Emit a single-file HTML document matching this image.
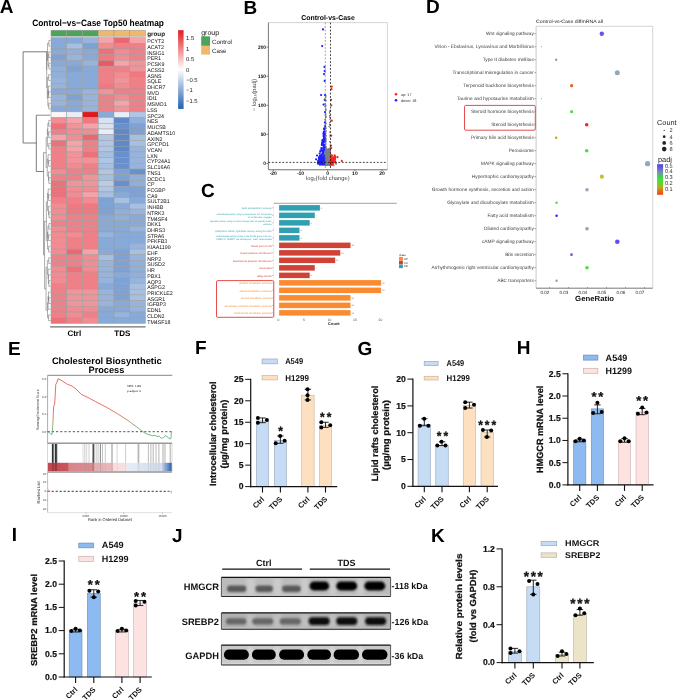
<!DOCTYPE html>
<html><head><meta charset="utf-8"><style>
html,body{margin:0;padding:0;background:#fff;overflow:hidden}
svg{display:block;will-change:transform}
text{font-family:"Liberation Sans", sans-serif;text-rendering:geometricPrecision}
</style></head><body>
<svg width="685" height="700" viewBox="0 0 685 700">
<rect width="685" height="700" fill="#fff"/>
<text x="-0.30" y="13.00" font-size="19" font-weight="bold" fill="#000">A</text>
<text x="98.10" y="25.70" font-size="9.2" font-weight="bold" text-anchor="middle" textLength="131.8" lengthAdjust="spacingAndGlyphs" fill="#000">Control−vs−Case Top50 heatmap</text>
<rect x="51.00" y="30.20" width="15.75" height="6.00" fill="#4ca35a" stroke="#999" stroke-width="0.5"/>
<rect x="66.75" y="30.20" width="15.75" height="6.00" fill="#4ca35a" stroke="#999" stroke-width="0.5"/>
<rect x="82.50" y="30.20" width="15.75" height="6.00" fill="#4ca35a" stroke="#999" stroke-width="0.5"/>
<rect x="98.25" y="30.20" width="15.75" height="6.00" fill="#efb86c" stroke="#999" stroke-width="0.5"/>
<rect x="114.00" y="30.20" width="15.75" height="6.00" fill="#efb86c" stroke="#999" stroke-width="0.5"/>
<rect x="129.75" y="30.20" width="15.75" height="6.00" fill="#efb86c" stroke="#999" stroke-width="0.5"/>
<text x="147.20" y="35.50" font-size="6.3" font-weight="bold" fill="#111">group</text>
<rect x="51.00" y="37.50" width="15.75" height="5.72" fill="#88aad8" stroke="#9a9a9a" stroke-width="0.45"/>
<rect x="66.75" y="37.50" width="15.75" height="5.72" fill="#88aad8" stroke="#9a9a9a" stroke-width="0.45"/>
<rect x="82.50" y="37.50" width="15.75" height="5.72" fill="#98b4dc" stroke="#9a9a9a" stroke-width="0.45"/>
<rect x="98.25" y="37.50" width="15.75" height="5.72" fill="#f4a4a8" stroke="#9a9a9a" stroke-width="0.45"/>
<rect x="114.00" y="37.50" width="15.75" height="5.72" fill="#ec6870" stroke="#9a9a9a" stroke-width="0.45"/>
<rect x="129.75" y="37.50" width="15.75" height="5.72" fill="#f4a4a8" stroke="#9a9a9a" stroke-width="0.45"/>
<rect x="51.00" y="43.22" width="15.75" height="5.72" fill="#88aad8" stroke="#9a9a9a" stroke-width="0.45"/>
<rect x="66.75" y="43.22" width="15.75" height="5.72" fill="#a8c0e0" stroke="#9a9a9a" stroke-width="0.45"/>
<rect x="82.50" y="43.22" width="15.75" height="5.72" fill="#7ea2d4" stroke="#9a9a9a" stroke-width="0.45"/>
<rect x="98.25" y="43.22" width="15.75" height="5.72" fill="#f08c92" stroke="#9a9a9a" stroke-width="0.45"/>
<rect x="114.00" y="43.22" width="15.75" height="5.72" fill="#f08088" stroke="#9a9a9a" stroke-width="0.45"/>
<rect x="129.75" y="43.22" width="15.75" height="5.72" fill="#f08088" stroke="#9a9a9a" stroke-width="0.45"/>
<rect x="51.00" y="48.94" width="15.75" height="5.72" fill="#88aad8" stroke="#9a9a9a" stroke-width="0.45"/>
<rect x="66.75" y="48.94" width="15.75" height="5.72" fill="#90b0da" stroke="#9a9a9a" stroke-width="0.45"/>
<rect x="82.50" y="48.94" width="15.75" height="5.72" fill="#88aad8" stroke="#9a9a9a" stroke-width="0.45"/>
<rect x="98.25" y="48.94" width="15.75" height="5.72" fill="#ee7078" stroke="#9a9a9a" stroke-width="0.45"/>
<rect x="114.00" y="48.94" width="15.75" height="5.72" fill="#f08c92" stroke="#9a9a9a" stroke-width="0.45"/>
<rect x="129.75" y="48.94" width="15.75" height="5.72" fill="#f08088" stroke="#9a9a9a" stroke-width="0.45"/>
<rect x="51.00" y="54.66" width="15.75" height="5.72" fill="#7ea2d4" stroke="#9a9a9a" stroke-width="0.45"/>
<rect x="66.75" y="54.66" width="15.75" height="5.72" fill="#98b4dc" stroke="#9a9a9a" stroke-width="0.45"/>
<rect x="82.50" y="54.66" width="15.75" height="5.72" fill="#88aad8" stroke="#9a9a9a" stroke-width="0.45"/>
<rect x="98.25" y="54.66" width="15.75" height="5.72" fill="#f07880" stroke="#9a9a9a" stroke-width="0.45"/>
<rect x="114.00" y="54.66" width="15.75" height="5.72" fill="#f08c92" stroke="#9a9a9a" stroke-width="0.45"/>
<rect x="129.75" y="54.66" width="15.75" height="5.72" fill="#f08088" stroke="#9a9a9a" stroke-width="0.45"/>
<rect x="51.00" y="60.38" width="15.75" height="5.72" fill="#88aad8" stroke="#9a9a9a" stroke-width="0.45"/>
<rect x="66.75" y="60.38" width="15.75" height="5.72" fill="#88aad8" stroke="#9a9a9a" stroke-width="0.45"/>
<rect x="82.50" y="60.38" width="15.75" height="5.72" fill="#98b4dc" stroke="#9a9a9a" stroke-width="0.45"/>
<rect x="98.25" y="60.38" width="15.75" height="5.72" fill="#e85a64" stroke="#9a9a9a" stroke-width="0.45"/>
<rect x="114.00" y="60.38" width="15.75" height="5.72" fill="#f4a4a8" stroke="#9a9a9a" stroke-width="0.45"/>
<rect x="129.75" y="60.38" width="15.75" height="5.72" fill="#f0949a" stroke="#9a9a9a" stroke-width="0.45"/>
<rect x="51.00" y="66.10" width="15.75" height="5.72" fill="#90b0da" stroke="#9a9a9a" stroke-width="0.45"/>
<rect x="66.75" y="66.10" width="15.75" height="5.72" fill="#7ea2d4" stroke="#9a9a9a" stroke-width="0.45"/>
<rect x="82.50" y="66.10" width="15.75" height="5.72" fill="#88aad8" stroke="#9a9a9a" stroke-width="0.45"/>
<rect x="98.25" y="66.10" width="15.75" height="5.72" fill="#f08088" stroke="#9a9a9a" stroke-width="0.45"/>
<rect x="114.00" y="66.10" width="15.75" height="5.72" fill="#f08088" stroke="#9a9a9a" stroke-width="0.45"/>
<rect x="129.75" y="66.10" width="15.75" height="5.72" fill="#f0949a" stroke="#9a9a9a" stroke-width="0.45"/>
<rect x="51.00" y="71.82" width="15.75" height="5.72" fill="#90b0da" stroke="#9a9a9a" stroke-width="0.45"/>
<rect x="66.75" y="71.82" width="15.75" height="5.72" fill="#88aad8" stroke="#9a9a9a" stroke-width="0.45"/>
<rect x="82.50" y="71.82" width="15.75" height="5.72" fill="#88aad8" stroke="#9a9a9a" stroke-width="0.45"/>
<rect x="98.25" y="71.82" width="15.75" height="5.72" fill="#f08088" stroke="#9a9a9a" stroke-width="0.45"/>
<rect x="114.00" y="71.82" width="15.75" height="5.72" fill="#f08c92" stroke="#9a9a9a" stroke-width="0.45"/>
<rect x="129.75" y="71.82" width="15.75" height="5.72" fill="#f07880" stroke="#9a9a9a" stroke-width="0.45"/>
<rect x="51.00" y="77.54" width="15.75" height="5.72" fill="#98b4dc" stroke="#9a9a9a" stroke-width="0.45"/>
<rect x="66.75" y="77.54" width="15.75" height="5.72" fill="#88aad8" stroke="#9a9a9a" stroke-width="0.45"/>
<rect x="82.50" y="77.54" width="15.75" height="5.72" fill="#88aad8" stroke="#9a9a9a" stroke-width="0.45"/>
<rect x="98.25" y="77.54" width="15.75" height="5.72" fill="#f08088" stroke="#9a9a9a" stroke-width="0.45"/>
<rect x="114.00" y="77.54" width="15.75" height="5.72" fill="#f0949a" stroke="#9a9a9a" stroke-width="0.45"/>
<rect x="129.75" y="77.54" width="15.75" height="5.72" fill="#f08088" stroke="#9a9a9a" stroke-width="0.45"/>
<rect x="51.00" y="83.26" width="15.75" height="5.72" fill="#98b4dc" stroke="#9a9a9a" stroke-width="0.45"/>
<rect x="66.75" y="83.26" width="15.75" height="5.72" fill="#88aad8" stroke="#9a9a9a" stroke-width="0.45"/>
<rect x="82.50" y="83.26" width="15.75" height="5.72" fill="#88aad8" stroke="#9a9a9a" stroke-width="0.45"/>
<rect x="98.25" y="83.26" width="15.75" height="5.72" fill="#f07880" stroke="#9a9a9a" stroke-width="0.45"/>
<rect x="114.00" y="83.26" width="15.75" height="5.72" fill="#f08c92" stroke="#9a9a9a" stroke-width="0.45"/>
<rect x="129.75" y="83.26" width="15.75" height="5.72" fill="#f08088" stroke="#9a9a9a" stroke-width="0.45"/>
<rect x="51.00" y="88.98" width="15.75" height="5.72" fill="#88aad8" stroke="#9a9a9a" stroke-width="0.45"/>
<rect x="66.75" y="88.98" width="15.75" height="5.72" fill="#88aad8" stroke="#9a9a9a" stroke-width="0.45"/>
<rect x="82.50" y="88.98" width="15.75" height="5.72" fill="#98b4dc" stroke="#9a9a9a" stroke-width="0.45"/>
<rect x="98.25" y="88.98" width="15.75" height="5.72" fill="#f0949a" stroke="#9a9a9a" stroke-width="0.45"/>
<rect x="114.00" y="88.98" width="15.75" height="5.72" fill="#f08088" stroke="#9a9a9a" stroke-width="0.45"/>
<rect x="129.75" y="88.98" width="15.75" height="5.72" fill="#f08088" stroke="#9a9a9a" stroke-width="0.45"/>
<rect x="51.00" y="94.70" width="15.75" height="5.72" fill="#98b4dc" stroke="#9a9a9a" stroke-width="0.45"/>
<rect x="66.75" y="94.70" width="15.75" height="5.72" fill="#7ea2d4" stroke="#9a9a9a" stroke-width="0.45"/>
<rect x="82.50" y="94.70" width="15.75" height="5.72" fill="#98b4dc" stroke="#9a9a9a" stroke-width="0.45"/>
<rect x="98.25" y="94.70" width="15.75" height="5.72" fill="#f08088" stroke="#9a9a9a" stroke-width="0.45"/>
<rect x="114.00" y="94.70" width="15.75" height="5.72" fill="#f08c92" stroke="#9a9a9a" stroke-width="0.45"/>
<rect x="129.75" y="94.70" width="15.75" height="5.72" fill="#f08088" stroke="#9a9a9a" stroke-width="0.45"/>
<rect x="51.00" y="100.42" width="15.75" height="5.72" fill="#98b4dc" stroke="#9a9a9a" stroke-width="0.45"/>
<rect x="66.75" y="100.42" width="15.75" height="5.72" fill="#88aad8" stroke="#9a9a9a" stroke-width="0.45"/>
<rect x="82.50" y="100.42" width="15.75" height="5.72" fill="#98b4dc" stroke="#9a9a9a" stroke-width="0.45"/>
<rect x="98.25" y="100.42" width="15.75" height="5.72" fill="#f08088" stroke="#9a9a9a" stroke-width="0.45"/>
<rect x="114.00" y="100.42" width="15.75" height="5.72" fill="#f4a4a8" stroke="#9a9a9a" stroke-width="0.45"/>
<rect x="129.75" y="100.42" width="15.75" height="5.72" fill="#f08088" stroke="#9a9a9a" stroke-width="0.45"/>
<rect x="51.00" y="106.14" width="15.75" height="5.72" fill="#88aad8" stroke="#9a9a9a" stroke-width="0.45"/>
<rect x="66.75" y="106.14" width="15.75" height="5.72" fill="#88aad8" stroke="#9a9a9a" stroke-width="0.45"/>
<rect x="82.50" y="106.14" width="15.75" height="5.72" fill="#98b4dc" stroke="#9a9a9a" stroke-width="0.45"/>
<rect x="98.25" y="106.14" width="15.75" height="5.72" fill="#f08088" stroke="#9a9a9a" stroke-width="0.45"/>
<rect x="114.00" y="106.14" width="15.75" height="5.72" fill="#f0949a" stroke="#9a9a9a" stroke-width="0.45"/>
<rect x="129.75" y="106.14" width="15.75" height="5.72" fill="#f08088" stroke="#9a9a9a" stroke-width="0.45"/>
<rect x="51.00" y="111.86" width="15.75" height="5.72" fill="#fdf6f6" stroke="#9a9a9a" stroke-width="0.45"/>
<rect x="66.75" y="111.86" width="15.75" height="5.72" fill="#e8eef8" stroke="#9a9a9a" stroke-width="0.45"/>
<rect x="82.50" y="111.86" width="15.75" height="5.72" fill="#e01a1c" stroke="#9a9a9a" stroke-width="0.45"/>
<rect x="98.25" y="111.86" width="15.75" height="5.72" fill="#88aad8" stroke="#9a9a9a" stroke-width="0.45"/>
<rect x="114.00" y="111.86" width="15.75" height="5.72" fill="#e8eef8" stroke="#9a9a9a" stroke-width="0.45"/>
<rect x="129.75" y="111.86" width="15.75" height="5.72" fill="#b0c6e4" stroke="#9a9a9a" stroke-width="0.45"/>
<rect x="51.00" y="117.58" width="15.75" height="5.72" fill="#f08c92" stroke="#9a9a9a" stroke-width="0.45"/>
<rect x="66.75" y="117.58" width="15.75" height="5.72" fill="#f4a4a8" stroke="#9a9a9a" stroke-width="0.45"/>
<rect x="82.50" y="117.58" width="15.75" height="5.72" fill="#f07880" stroke="#9a9a9a" stroke-width="0.45"/>
<rect x="98.25" y="117.58" width="15.75" height="5.72" fill="#d8e2f0" stroke="#9a9a9a" stroke-width="0.45"/>
<rect x="114.00" y="117.58" width="15.75" height="5.72" fill="#5e88c8" stroke="#9a9a9a" stroke-width="0.45"/>
<rect x="129.75" y="117.58" width="15.75" height="5.72" fill="#90b0da" stroke="#9a9a9a" stroke-width="0.45"/>
<rect x="51.00" y="123.30" width="15.75" height="5.72" fill="#ee7078" stroke="#9a9a9a" stroke-width="0.45"/>
<rect x="66.75" y="123.30" width="15.75" height="5.72" fill="#f0949a" stroke="#9a9a9a" stroke-width="0.45"/>
<rect x="82.50" y="123.30" width="15.75" height="5.72" fill="#f4a4a8" stroke="#9a9a9a" stroke-width="0.45"/>
<rect x="98.25" y="123.30" width="15.75" height="5.72" fill="#d8e2f0" stroke="#9a9a9a" stroke-width="0.45"/>
<rect x="114.00" y="123.30" width="15.75" height="5.72" fill="#6890cc" stroke="#9a9a9a" stroke-width="0.45"/>
<rect x="129.75" y="123.30" width="15.75" height="5.72" fill="#7ea2d4" stroke="#9a9a9a" stroke-width="0.45"/>
<rect x="51.00" y="129.02" width="15.75" height="5.72" fill="#f08088" stroke="#9a9a9a" stroke-width="0.45"/>
<rect x="66.75" y="129.02" width="15.75" height="5.72" fill="#f08c92" stroke="#9a9a9a" stroke-width="0.45"/>
<rect x="82.50" y="129.02" width="15.75" height="5.72" fill="#f08c92" stroke="#9a9a9a" stroke-width="0.45"/>
<rect x="98.25" y="129.02" width="15.75" height="5.72" fill="#e8eef8" stroke="#9a9a9a" stroke-width="0.45"/>
<rect x="114.00" y="129.02" width="15.75" height="5.72" fill="#5e88c8" stroke="#9a9a9a" stroke-width="0.45"/>
<rect x="129.75" y="129.02" width="15.75" height="5.72" fill="#7ea2d4" stroke="#9a9a9a" stroke-width="0.45"/>
<rect x="51.00" y="134.74" width="15.75" height="5.72" fill="#f4a4a8" stroke="#9a9a9a" stroke-width="0.45"/>
<rect x="66.75" y="134.74" width="15.75" height="5.72" fill="#f08c92" stroke="#9a9a9a" stroke-width="0.45"/>
<rect x="82.50" y="134.74" width="15.75" height="5.72" fill="#ec6870" stroke="#9a9a9a" stroke-width="0.45"/>
<rect x="98.25" y="134.74" width="15.75" height="5.72" fill="#b0c6e4" stroke="#9a9a9a" stroke-width="0.45"/>
<rect x="114.00" y="134.74" width="15.75" height="5.72" fill="#5e88c8" stroke="#9a9a9a" stroke-width="0.45"/>
<rect x="129.75" y="134.74" width="15.75" height="5.72" fill="#a8c0e0" stroke="#9a9a9a" stroke-width="0.45"/>
<rect x="51.00" y="140.46" width="15.75" height="5.72" fill="#ee7078" stroke="#9a9a9a" stroke-width="0.45"/>
<rect x="66.75" y="140.46" width="15.75" height="5.72" fill="#f4a4a8" stroke="#9a9a9a" stroke-width="0.45"/>
<rect x="82.50" y="140.46" width="15.75" height="5.72" fill="#f08088" stroke="#9a9a9a" stroke-width="0.45"/>
<rect x="98.25" y="140.46" width="15.75" height="5.72" fill="#b0c6e4" stroke="#9a9a9a" stroke-width="0.45"/>
<rect x="114.00" y="140.46" width="15.75" height="5.72" fill="#5e88c8" stroke="#9a9a9a" stroke-width="0.45"/>
<rect x="129.75" y="140.46" width="15.75" height="5.72" fill="#a8c0e0" stroke="#9a9a9a" stroke-width="0.45"/>
<rect x="51.00" y="146.18" width="15.75" height="5.72" fill="#f08088" stroke="#9a9a9a" stroke-width="0.45"/>
<rect x="66.75" y="146.18" width="15.75" height="5.72" fill="#f4a4a8" stroke="#9a9a9a" stroke-width="0.45"/>
<rect x="82.50" y="146.18" width="15.75" height="5.72" fill="#f08088" stroke="#9a9a9a" stroke-width="0.45"/>
<rect x="98.25" y="146.18" width="15.75" height="5.72" fill="#b0c6e4" stroke="#9a9a9a" stroke-width="0.45"/>
<rect x="114.00" y="146.18" width="15.75" height="5.72" fill="#5e88c8" stroke="#9a9a9a" stroke-width="0.45"/>
<rect x="129.75" y="146.18" width="15.75" height="5.72" fill="#98b4dc" stroke="#9a9a9a" stroke-width="0.45"/>
<rect x="51.00" y="151.90" width="15.75" height="5.72" fill="#f08088" stroke="#9a9a9a" stroke-width="0.45"/>
<rect x="66.75" y="151.90" width="15.75" height="5.72" fill="#f0949a" stroke="#9a9a9a" stroke-width="0.45"/>
<rect x="82.50" y="151.90" width="15.75" height="5.72" fill="#ee7078" stroke="#9a9a9a" stroke-width="0.45"/>
<rect x="98.25" y="151.90" width="15.75" height="5.72" fill="#a8c0e0" stroke="#9a9a9a" stroke-width="0.45"/>
<rect x="114.00" y="151.90" width="15.75" height="5.72" fill="#6890cc" stroke="#9a9a9a" stroke-width="0.45"/>
<rect x="129.75" y="151.90" width="15.75" height="5.72" fill="#98b4dc" stroke="#9a9a9a" stroke-width="0.45"/>
<rect x="51.00" y="157.62" width="15.75" height="5.72" fill="#f08088" stroke="#9a9a9a" stroke-width="0.45"/>
<rect x="66.75" y="157.62" width="15.75" height="5.72" fill="#f0949a" stroke="#9a9a9a" stroke-width="0.45"/>
<rect x="82.50" y="157.62" width="15.75" height="5.72" fill="#f0949a" stroke="#9a9a9a" stroke-width="0.45"/>
<rect x="98.25" y="157.62" width="15.75" height="5.72" fill="#b0c6e4" stroke="#9a9a9a" stroke-width="0.45"/>
<rect x="114.00" y="157.62" width="15.75" height="5.72" fill="#6890cc" stroke="#9a9a9a" stroke-width="0.45"/>
<rect x="129.75" y="157.62" width="15.75" height="5.72" fill="#98b4dc" stroke="#9a9a9a" stroke-width="0.45"/>
<rect x="51.00" y="163.34" width="15.75" height="5.72" fill="#f08088" stroke="#9a9a9a" stroke-width="0.45"/>
<rect x="66.75" y="163.34" width="15.75" height="5.72" fill="#f08c92" stroke="#9a9a9a" stroke-width="0.45"/>
<rect x="82.50" y="163.34" width="15.75" height="5.72" fill="#f08088" stroke="#9a9a9a" stroke-width="0.45"/>
<rect x="98.25" y="163.34" width="15.75" height="5.72" fill="#a8c0e0" stroke="#9a9a9a" stroke-width="0.45"/>
<rect x="114.00" y="163.34" width="15.75" height="5.72" fill="#6890cc" stroke="#9a9a9a" stroke-width="0.45"/>
<rect x="129.75" y="163.34" width="15.75" height="5.72" fill="#98b4dc" stroke="#9a9a9a" stroke-width="0.45"/>
<rect x="51.00" y="169.06" width="15.75" height="5.72" fill="#f08c92" stroke="#9a9a9a" stroke-width="0.45"/>
<rect x="66.75" y="169.06" width="15.75" height="5.72" fill="#f08088" stroke="#9a9a9a" stroke-width="0.45"/>
<rect x="82.50" y="169.06" width="15.75" height="5.72" fill="#f08088" stroke="#9a9a9a" stroke-width="0.45"/>
<rect x="98.25" y="169.06" width="15.75" height="5.72" fill="#b0c6e4" stroke="#9a9a9a" stroke-width="0.45"/>
<rect x="114.00" y="169.06" width="15.75" height="5.72" fill="#7ea2d4" stroke="#9a9a9a" stroke-width="0.45"/>
<rect x="129.75" y="169.06" width="15.75" height="5.72" fill="#6890cc" stroke="#9a9a9a" stroke-width="0.45"/>
<rect x="51.00" y="174.78" width="15.75" height="5.72" fill="#f08088" stroke="#9a9a9a" stroke-width="0.45"/>
<rect x="66.75" y="174.78" width="15.75" height="5.72" fill="#f08088" stroke="#9a9a9a" stroke-width="0.45"/>
<rect x="82.50" y="174.78" width="15.75" height="5.72" fill="#f0949a" stroke="#9a9a9a" stroke-width="0.45"/>
<rect x="98.25" y="174.78" width="15.75" height="5.72" fill="#a8c0e0" stroke="#9a9a9a" stroke-width="0.45"/>
<rect x="114.00" y="174.78" width="15.75" height="5.72" fill="#7ea2d4" stroke="#9a9a9a" stroke-width="0.45"/>
<rect x="129.75" y="174.78" width="15.75" height="5.72" fill="#90b0da" stroke="#9a9a9a" stroke-width="0.45"/>
<rect x="51.00" y="180.50" width="15.75" height="5.72" fill="#ee7078" stroke="#9a9a9a" stroke-width="0.45"/>
<rect x="66.75" y="180.50" width="15.75" height="5.72" fill="#f0949a" stroke="#9a9a9a" stroke-width="0.45"/>
<rect x="82.50" y="180.50" width="15.75" height="5.72" fill="#f0949a" stroke="#9a9a9a" stroke-width="0.45"/>
<rect x="98.25" y="180.50" width="15.75" height="5.72" fill="#b8cce6" stroke="#9a9a9a" stroke-width="0.45"/>
<rect x="114.00" y="180.50" width="15.75" height="5.72" fill="#6890cc" stroke="#9a9a9a" stroke-width="0.45"/>
<rect x="129.75" y="180.50" width="15.75" height="5.72" fill="#90b0da" stroke="#9a9a9a" stroke-width="0.45"/>
<rect x="51.00" y="186.22" width="15.75" height="5.72" fill="#ee7078" stroke="#9a9a9a" stroke-width="0.45"/>
<rect x="66.75" y="186.22" width="15.75" height="5.72" fill="#f08c92" stroke="#9a9a9a" stroke-width="0.45"/>
<rect x="82.50" y="186.22" width="15.75" height="5.72" fill="#f08c92" stroke="#9a9a9a" stroke-width="0.45"/>
<rect x="98.25" y="186.22" width="15.75" height="5.72" fill="#b0c6e4" stroke="#9a9a9a" stroke-width="0.45"/>
<rect x="114.00" y="186.22" width="15.75" height="5.72" fill="#7ea2d4" stroke="#9a9a9a" stroke-width="0.45"/>
<rect x="129.75" y="186.22" width="15.75" height="5.72" fill="#7ea2d4" stroke="#9a9a9a" stroke-width="0.45"/>
<rect x="51.00" y="191.94" width="15.75" height="5.72" fill="#ee7078" stroke="#9a9a9a" stroke-width="0.45"/>
<rect x="66.75" y="191.94" width="15.75" height="5.72" fill="#f08c92" stroke="#9a9a9a" stroke-width="0.45"/>
<rect x="82.50" y="191.94" width="15.75" height="5.72" fill="#f4a4a8" stroke="#9a9a9a" stroke-width="0.45"/>
<rect x="98.25" y="191.94" width="15.75" height="5.72" fill="#a8c0e0" stroke="#9a9a9a" stroke-width="0.45"/>
<rect x="114.00" y="191.94" width="15.75" height="5.72" fill="#88aad8" stroke="#9a9a9a" stroke-width="0.45"/>
<rect x="129.75" y="191.94" width="15.75" height="5.72" fill="#7ea2d4" stroke="#9a9a9a" stroke-width="0.45"/>
<rect x="51.00" y="197.66" width="15.75" height="5.72" fill="#f08088" stroke="#9a9a9a" stroke-width="0.45"/>
<rect x="66.75" y="197.66" width="15.75" height="5.72" fill="#f08088" stroke="#9a9a9a" stroke-width="0.45"/>
<rect x="82.50" y="197.66" width="15.75" height="5.72" fill="#f08c92" stroke="#9a9a9a" stroke-width="0.45"/>
<rect x="98.25" y="197.66" width="15.75" height="5.72" fill="#7ea2d4" stroke="#9a9a9a" stroke-width="0.45"/>
<rect x="114.00" y="197.66" width="15.75" height="5.72" fill="#a8c0e0" stroke="#9a9a9a" stroke-width="0.45"/>
<rect x="129.75" y="197.66" width="15.75" height="5.72" fill="#88aad8" stroke="#9a9a9a" stroke-width="0.45"/>
<rect x="51.00" y="203.38" width="15.75" height="5.72" fill="#f08c92" stroke="#9a9a9a" stroke-width="0.45"/>
<rect x="66.75" y="203.38" width="15.75" height="5.72" fill="#f07880" stroke="#9a9a9a" stroke-width="0.45"/>
<rect x="82.50" y="203.38" width="15.75" height="5.72" fill="#f07880" stroke="#9a9a9a" stroke-width="0.45"/>
<rect x="98.25" y="203.38" width="15.75" height="5.72" fill="#7ea2d4" stroke="#9a9a9a" stroke-width="0.45"/>
<rect x="114.00" y="203.38" width="15.75" height="5.72" fill="#88aad8" stroke="#9a9a9a" stroke-width="0.45"/>
<rect x="129.75" y="203.38" width="15.75" height="5.72" fill="#a8c0e0" stroke="#9a9a9a" stroke-width="0.45"/>
<rect x="51.00" y="209.10" width="15.75" height="5.72" fill="#f08c92" stroke="#9a9a9a" stroke-width="0.45"/>
<rect x="66.75" y="209.10" width="15.75" height="5.72" fill="#f07880" stroke="#9a9a9a" stroke-width="0.45"/>
<rect x="82.50" y="209.10" width="15.75" height="5.72" fill="#f07880" stroke="#9a9a9a" stroke-width="0.45"/>
<rect x="98.25" y="209.10" width="15.75" height="5.72" fill="#7ea2d4" stroke="#9a9a9a" stroke-width="0.45"/>
<rect x="114.00" y="209.10" width="15.75" height="5.72" fill="#90b0da" stroke="#9a9a9a" stroke-width="0.45"/>
<rect x="129.75" y="209.10" width="15.75" height="5.72" fill="#98b4dc" stroke="#9a9a9a" stroke-width="0.45"/>
<rect x="51.00" y="214.82" width="15.75" height="5.72" fill="#f08c92" stroke="#9a9a9a" stroke-width="0.45"/>
<rect x="66.75" y="214.82" width="15.75" height="5.72" fill="#f08088" stroke="#9a9a9a" stroke-width="0.45"/>
<rect x="82.50" y="214.82" width="15.75" height="5.72" fill="#f08088" stroke="#9a9a9a" stroke-width="0.45"/>
<rect x="98.25" y="214.82" width="15.75" height="5.72" fill="#88aad8" stroke="#9a9a9a" stroke-width="0.45"/>
<rect x="114.00" y="214.82" width="15.75" height="5.72" fill="#90b0da" stroke="#9a9a9a" stroke-width="0.45"/>
<rect x="129.75" y="214.82" width="15.75" height="5.72" fill="#88aad8" stroke="#9a9a9a" stroke-width="0.45"/>
<rect x="51.00" y="220.54" width="15.75" height="5.72" fill="#f08088" stroke="#9a9a9a" stroke-width="0.45"/>
<rect x="66.75" y="220.54" width="15.75" height="5.72" fill="#f08088" stroke="#9a9a9a" stroke-width="0.45"/>
<rect x="82.50" y="220.54" width="15.75" height="5.72" fill="#f08088" stroke="#9a9a9a" stroke-width="0.45"/>
<rect x="98.25" y="220.54" width="15.75" height="5.72" fill="#88aad8" stroke="#9a9a9a" stroke-width="0.45"/>
<rect x="114.00" y="220.54" width="15.75" height="5.72" fill="#88aad8" stroke="#9a9a9a" stroke-width="0.45"/>
<rect x="129.75" y="220.54" width="15.75" height="5.72" fill="#88aad8" stroke="#9a9a9a" stroke-width="0.45"/>
<rect x="51.00" y="226.26" width="15.75" height="5.72" fill="#f08c92" stroke="#9a9a9a" stroke-width="0.45"/>
<rect x="66.75" y="226.26" width="15.75" height="5.72" fill="#f08088" stroke="#9a9a9a" stroke-width="0.45"/>
<rect x="82.50" y="226.26" width="15.75" height="5.72" fill="#f08088" stroke="#9a9a9a" stroke-width="0.45"/>
<rect x="98.25" y="226.26" width="15.75" height="5.72" fill="#88aad8" stroke="#9a9a9a" stroke-width="0.45"/>
<rect x="114.00" y="226.26" width="15.75" height="5.72" fill="#88aad8" stroke="#9a9a9a" stroke-width="0.45"/>
<rect x="129.75" y="226.26" width="15.75" height="5.72" fill="#98b4dc" stroke="#9a9a9a" stroke-width="0.45"/>
<rect x="51.00" y="231.98" width="15.75" height="5.72" fill="#f08c92" stroke="#9a9a9a" stroke-width="0.45"/>
<rect x="66.75" y="231.98" width="15.75" height="5.72" fill="#f08c92" stroke="#9a9a9a" stroke-width="0.45"/>
<rect x="82.50" y="231.98" width="15.75" height="5.72" fill="#f08088" stroke="#9a9a9a" stroke-width="0.45"/>
<rect x="98.25" y="231.98" width="15.75" height="5.72" fill="#98b4dc" stroke="#9a9a9a" stroke-width="0.45"/>
<rect x="114.00" y="231.98" width="15.75" height="5.72" fill="#88aad8" stroke="#9a9a9a" stroke-width="0.45"/>
<rect x="129.75" y="231.98" width="15.75" height="5.72" fill="#88aad8" stroke="#9a9a9a" stroke-width="0.45"/>
<rect x="51.00" y="237.70" width="15.75" height="5.72" fill="#f08c92" stroke="#9a9a9a" stroke-width="0.45"/>
<rect x="66.75" y="237.70" width="15.75" height="5.72" fill="#f08088" stroke="#9a9a9a" stroke-width="0.45"/>
<rect x="82.50" y="237.70" width="15.75" height="5.72" fill="#f08088" stroke="#9a9a9a" stroke-width="0.45"/>
<rect x="98.25" y="237.70" width="15.75" height="5.72" fill="#88aad8" stroke="#9a9a9a" stroke-width="0.45"/>
<rect x="114.00" y="237.70" width="15.75" height="5.72" fill="#88aad8" stroke="#9a9a9a" stroke-width="0.45"/>
<rect x="129.75" y="237.70" width="15.75" height="5.72" fill="#88aad8" stroke="#9a9a9a" stroke-width="0.45"/>
<rect x="51.00" y="243.42" width="15.75" height="5.72" fill="#f08c92" stroke="#9a9a9a" stroke-width="0.45"/>
<rect x="66.75" y="243.42" width="15.75" height="5.72" fill="#f08088" stroke="#9a9a9a" stroke-width="0.45"/>
<rect x="82.50" y="243.42" width="15.75" height="5.72" fill="#f08088" stroke="#9a9a9a" stroke-width="0.45"/>
<rect x="98.25" y="243.42" width="15.75" height="5.72" fill="#88aad8" stroke="#9a9a9a" stroke-width="0.45"/>
<rect x="114.00" y="243.42" width="15.75" height="5.72" fill="#88aad8" stroke="#9a9a9a" stroke-width="0.45"/>
<rect x="129.75" y="243.42" width="15.75" height="5.72" fill="#98b4dc" stroke="#9a9a9a" stroke-width="0.45"/>
<rect x="51.00" y="249.14" width="15.75" height="5.72" fill="#f08c92" stroke="#9a9a9a" stroke-width="0.45"/>
<rect x="66.75" y="249.14" width="15.75" height="5.72" fill="#ec6870" stroke="#9a9a9a" stroke-width="0.45"/>
<rect x="82.50" y="249.14" width="15.75" height="5.72" fill="#f4a4a8" stroke="#9a9a9a" stroke-width="0.45"/>
<rect x="98.25" y="249.14" width="15.75" height="5.72" fill="#88aad8" stroke="#9a9a9a" stroke-width="0.45"/>
<rect x="114.00" y="249.14" width="15.75" height="5.72" fill="#7ea2d4" stroke="#9a9a9a" stroke-width="0.45"/>
<rect x="129.75" y="249.14" width="15.75" height="5.72" fill="#a8c0e0" stroke="#9a9a9a" stroke-width="0.45"/>
<rect x="51.00" y="254.86" width="15.75" height="5.72" fill="#f08088" stroke="#9a9a9a" stroke-width="0.45"/>
<rect x="66.75" y="254.86" width="15.75" height="5.72" fill="#f08088" stroke="#9a9a9a" stroke-width="0.45"/>
<rect x="82.50" y="254.86" width="15.75" height="5.72" fill="#f08c92" stroke="#9a9a9a" stroke-width="0.45"/>
<rect x="98.25" y="254.86" width="15.75" height="5.72" fill="#a8c0e0" stroke="#9a9a9a" stroke-width="0.45"/>
<rect x="114.00" y="254.86" width="15.75" height="5.72" fill="#7ea2d4" stroke="#9a9a9a" stroke-width="0.45"/>
<rect x="129.75" y="254.86" width="15.75" height="5.72" fill="#98b4dc" stroke="#9a9a9a" stroke-width="0.45"/>
<rect x="51.00" y="260.58" width="15.75" height="5.72" fill="#f08088" stroke="#9a9a9a" stroke-width="0.45"/>
<rect x="66.75" y="260.58" width="15.75" height="5.72" fill="#f08088" stroke="#9a9a9a" stroke-width="0.45"/>
<rect x="82.50" y="260.58" width="15.75" height="5.72" fill="#f08c92" stroke="#9a9a9a" stroke-width="0.45"/>
<rect x="98.25" y="260.58" width="15.75" height="5.72" fill="#98b4dc" stroke="#9a9a9a" stroke-width="0.45"/>
<rect x="114.00" y="260.58" width="15.75" height="5.72" fill="#7ea2d4" stroke="#9a9a9a" stroke-width="0.45"/>
<rect x="129.75" y="260.58" width="15.75" height="5.72" fill="#90b0da" stroke="#9a9a9a" stroke-width="0.45"/>
<rect x="51.00" y="266.30" width="15.75" height="5.72" fill="#f08c92" stroke="#9a9a9a" stroke-width="0.45"/>
<rect x="66.75" y="266.30" width="15.75" height="5.72" fill="#ee7078" stroke="#9a9a9a" stroke-width="0.45"/>
<rect x="82.50" y="266.30" width="15.75" height="5.72" fill="#f08c92" stroke="#9a9a9a" stroke-width="0.45"/>
<rect x="98.25" y="266.30" width="15.75" height="5.72" fill="#98b4dc" stroke="#9a9a9a" stroke-width="0.45"/>
<rect x="114.00" y="266.30" width="15.75" height="5.72" fill="#7ea2d4" stroke="#9a9a9a" stroke-width="0.45"/>
<rect x="129.75" y="266.30" width="15.75" height="5.72" fill="#90b0da" stroke="#9a9a9a" stroke-width="0.45"/>
<rect x="51.00" y="272.02" width="15.75" height="5.72" fill="#f08c92" stroke="#9a9a9a" stroke-width="0.45"/>
<rect x="66.75" y="272.02" width="15.75" height="5.72" fill="#f08088" stroke="#9a9a9a" stroke-width="0.45"/>
<rect x="82.50" y="272.02" width="15.75" height="5.72" fill="#f08088" stroke="#9a9a9a" stroke-width="0.45"/>
<rect x="98.25" y="272.02" width="15.75" height="5.72" fill="#98b4dc" stroke="#9a9a9a" stroke-width="0.45"/>
<rect x="114.00" y="272.02" width="15.75" height="5.72" fill="#88aad8" stroke="#9a9a9a" stroke-width="0.45"/>
<rect x="129.75" y="272.02" width="15.75" height="5.72" fill="#90b0da" stroke="#9a9a9a" stroke-width="0.45"/>
<rect x="51.00" y="277.74" width="15.75" height="5.72" fill="#f08c92" stroke="#9a9a9a" stroke-width="0.45"/>
<rect x="66.75" y="277.74" width="15.75" height="5.72" fill="#f08088" stroke="#9a9a9a" stroke-width="0.45"/>
<rect x="82.50" y="277.74" width="15.75" height="5.72" fill="#f08088" stroke="#9a9a9a" stroke-width="0.45"/>
<rect x="98.25" y="277.74" width="15.75" height="5.72" fill="#98b4dc" stroke="#9a9a9a" stroke-width="0.45"/>
<rect x="114.00" y="277.74" width="15.75" height="5.72" fill="#7ea2d4" stroke="#9a9a9a" stroke-width="0.45"/>
<rect x="129.75" y="277.74" width="15.75" height="5.72" fill="#98b4dc" stroke="#9a9a9a" stroke-width="0.45"/>
<rect x="51.00" y="283.46" width="15.75" height="5.72" fill="#f08088" stroke="#9a9a9a" stroke-width="0.45"/>
<rect x="66.75" y="283.46" width="15.75" height="5.72" fill="#f08088" stroke="#9a9a9a" stroke-width="0.45"/>
<rect x="82.50" y="283.46" width="15.75" height="5.72" fill="#f08088" stroke="#9a9a9a" stroke-width="0.45"/>
<rect x="98.25" y="283.46" width="15.75" height="5.72" fill="#88aad8" stroke="#9a9a9a" stroke-width="0.45"/>
<rect x="114.00" y="283.46" width="15.75" height="5.72" fill="#7ea2d4" stroke="#9a9a9a" stroke-width="0.45"/>
<rect x="129.75" y="283.46" width="15.75" height="5.72" fill="#a8c0e0" stroke="#9a9a9a" stroke-width="0.45"/>
<rect x="51.00" y="289.18" width="15.75" height="5.72" fill="#f08088" stroke="#9a9a9a" stroke-width="0.45"/>
<rect x="66.75" y="289.18" width="15.75" height="5.72" fill="#f0949a" stroke="#9a9a9a" stroke-width="0.45"/>
<rect x="82.50" y="289.18" width="15.75" height="5.72" fill="#f0949a" stroke="#9a9a9a" stroke-width="0.45"/>
<rect x="98.25" y="289.18" width="15.75" height="5.72" fill="#98b4dc" stroke="#9a9a9a" stroke-width="0.45"/>
<rect x="114.00" y="289.18" width="15.75" height="5.72" fill="#7ea2d4" stroke="#9a9a9a" stroke-width="0.45"/>
<rect x="129.75" y="289.18" width="15.75" height="5.72" fill="#a8c0e0" stroke="#9a9a9a" stroke-width="0.45"/>
<rect x="51.00" y="294.90" width="15.75" height="5.72" fill="#f08088" stroke="#9a9a9a" stroke-width="0.45"/>
<rect x="66.75" y="294.90" width="15.75" height="5.72" fill="#f0949a" stroke="#9a9a9a" stroke-width="0.45"/>
<rect x="82.50" y="294.90" width="15.75" height="5.72" fill="#f0949a" stroke="#9a9a9a" stroke-width="0.45"/>
<rect x="98.25" y="294.90" width="15.75" height="5.72" fill="#98b4dc" stroke="#9a9a9a" stroke-width="0.45"/>
<rect x="114.00" y="294.90" width="15.75" height="5.72" fill="#7ea2d4" stroke="#9a9a9a" stroke-width="0.45"/>
<rect x="129.75" y="294.90" width="15.75" height="5.72" fill="#a8c0e0" stroke="#9a9a9a" stroke-width="0.45"/>
<rect x="51.00" y="300.62" width="15.75" height="5.72" fill="#f08088" stroke="#9a9a9a" stroke-width="0.45"/>
<rect x="66.75" y="300.62" width="15.75" height="5.72" fill="#f0949a" stroke="#9a9a9a" stroke-width="0.45"/>
<rect x="82.50" y="300.62" width="15.75" height="5.72" fill="#f0949a" stroke="#9a9a9a" stroke-width="0.45"/>
<rect x="98.25" y="300.62" width="15.75" height="5.72" fill="#98b4dc" stroke="#9a9a9a" stroke-width="0.45"/>
<rect x="114.00" y="300.62" width="15.75" height="5.72" fill="#88aad8" stroke="#9a9a9a" stroke-width="0.45"/>
<rect x="129.75" y="300.62" width="15.75" height="5.72" fill="#98b4dc" stroke="#9a9a9a" stroke-width="0.45"/>
<rect x="51.00" y="306.34" width="15.75" height="5.72" fill="#f08088" stroke="#9a9a9a" stroke-width="0.45"/>
<rect x="66.75" y="306.34" width="15.75" height="5.72" fill="#f08c92" stroke="#9a9a9a" stroke-width="0.45"/>
<rect x="82.50" y="306.34" width="15.75" height="5.72" fill="#f08c92" stroke="#9a9a9a" stroke-width="0.45"/>
<rect x="98.25" y="306.34" width="15.75" height="5.72" fill="#88aad8" stroke="#9a9a9a" stroke-width="0.45"/>
<rect x="114.00" y="306.34" width="15.75" height="5.72" fill="#88aad8" stroke="#9a9a9a" stroke-width="0.45"/>
<rect x="129.75" y="306.34" width="15.75" height="5.72" fill="#98b4dc" stroke="#9a9a9a" stroke-width="0.45"/>
<rect x="51.00" y="312.06" width="15.75" height="5.72" fill="#f08088" stroke="#9a9a9a" stroke-width="0.45"/>
<rect x="66.75" y="312.06" width="15.75" height="5.72" fill="#f08c92" stroke="#9a9a9a" stroke-width="0.45"/>
<rect x="82.50" y="312.06" width="15.75" height="5.72" fill="#f08088" stroke="#9a9a9a" stroke-width="0.45"/>
<rect x="98.25" y="312.06" width="15.75" height="5.72" fill="#88aad8" stroke="#9a9a9a" stroke-width="0.45"/>
<rect x="114.00" y="312.06" width="15.75" height="5.72" fill="#98b4dc" stroke="#9a9a9a" stroke-width="0.45"/>
<rect x="129.75" y="312.06" width="15.75" height="5.72" fill="#88aad8" stroke="#9a9a9a" stroke-width="0.45"/>
<rect x="51.00" y="317.78" width="15.75" height="5.72" fill="#ee7078" stroke="#9a9a9a" stroke-width="0.45"/>
<rect x="66.75" y="317.78" width="15.75" height="5.72" fill="#f08088" stroke="#9a9a9a" stroke-width="0.45"/>
<rect x="82.50" y="317.78" width="15.75" height="5.72" fill="#f08c92" stroke="#9a9a9a" stroke-width="0.45"/>
<rect x="98.25" y="317.78" width="15.75" height="5.72" fill="#88aad8" stroke="#9a9a9a" stroke-width="0.45"/>
<rect x="114.00" y="317.78" width="15.75" height="5.72" fill="#88aad8" stroke="#9a9a9a" stroke-width="0.45"/>
<rect x="129.75" y="317.78" width="15.75" height="5.72" fill="#88aad8" stroke="#9a9a9a" stroke-width="0.45"/>
<text x="147.20" y="43.26" font-size="5.3" fill="#111">PCYT2</text>
<text x="147.20" y="48.98" font-size="5.3" fill="#111">ACAT2</text>
<text x="147.20" y="54.70" font-size="5.3" fill="#111">INSIG1</text>
<text x="147.20" y="60.42" font-size="5.3" fill="#111">PER1</text>
<text x="147.20" y="66.14" font-size="5.3" fill="#111">PCSK9</text>
<text x="147.20" y="71.86" font-size="5.3" fill="#111">ACSS2</text>
<text x="147.20" y="77.58" font-size="5.3" fill="#111">ASNS</text>
<text x="147.20" y="83.30" font-size="5.3" fill="#111">SQLE</text>
<text x="147.20" y="89.02" font-size="5.3" fill="#111">DHCR7</text>
<text x="147.20" y="94.74" font-size="5.3" fill="#111">MVD</text>
<text x="147.20" y="100.46" font-size="5.3" fill="#111">IDI1</text>
<text x="147.20" y="106.18" font-size="5.3" fill="#111">MSMO1</text>
<text x="147.20" y="111.90" font-size="5.3" fill="#111">LSS</text>
<text x="147.20" y="117.62" font-size="5.3" fill="#111">SPC24</text>
<text x="147.20" y="123.34" font-size="5.3" fill="#111">NES</text>
<text x="147.20" y="129.06" font-size="5.3" fill="#111">MUC5B</text>
<text x="147.20" y="134.78" font-size="5.3" fill="#111">ADAMTS10</text>
<text x="147.20" y="140.50" font-size="5.3" fill="#111">AXIN2</text>
<text x="147.20" y="146.22" font-size="5.3" fill="#111">GPCPD1</text>
<text x="147.20" y="151.94" font-size="5.3" fill="#111">VCAN</text>
<text x="147.20" y="157.66" font-size="5.3" fill="#111">LXN</text>
<text x="147.20" y="163.38" font-size="5.3" fill="#111">CYP24A1</text>
<text x="147.20" y="169.10" font-size="5.3" fill="#111">SLC16A6</text>
<text x="147.20" y="174.82" font-size="5.3" fill="#111">TNS1</text>
<text x="147.20" y="180.54" font-size="5.3" fill="#111">DCDC1</text>
<text x="147.20" y="186.26" font-size="5.3" fill="#111">CP</text>
<text x="147.20" y="191.98" font-size="5.3" fill="#111">FCGBP</text>
<text x="147.20" y="197.70" font-size="5.3" fill="#111">CA9</text>
<text x="147.20" y="203.42" font-size="5.3" fill="#111">SULT2B1</text>
<text x="147.20" y="209.14" font-size="5.3" fill="#111">INHBB</text>
<text x="147.20" y="214.86" font-size="5.3" fill="#111">NTRK3</text>
<text x="147.20" y="220.58" font-size="5.3" fill="#111">TM4SF4</text>
<text x="147.20" y="226.30" font-size="5.3" fill="#111">DKK1</text>
<text x="147.20" y="232.02" font-size="5.3" fill="#111">DHRS3</text>
<text x="147.20" y="237.74" font-size="5.3" fill="#111">STRA6</text>
<text x="147.20" y="243.46" font-size="5.3" fill="#111">PFKFB3</text>
<text x="147.20" y="249.18" font-size="5.3" fill="#111">KIAA1199</text>
<text x="147.20" y="254.90" font-size="5.3" fill="#111">EHF</text>
<text x="147.20" y="260.62" font-size="5.3" fill="#111">NRP2</text>
<text x="147.20" y="266.34" font-size="5.3" fill="#111">SUSD2</text>
<text x="147.20" y="272.06" font-size="5.3" fill="#111">HR</text>
<text x="147.20" y="277.78" font-size="5.3" fill="#111">PBX1</text>
<text x="147.20" y="283.50" font-size="5.3" fill="#111">AQP3</text>
<text x="147.20" y="289.22" font-size="5.3" fill="#111">ASPG2</text>
<text x="147.20" y="294.94" font-size="5.3" fill="#111">PRICKLE2</text>
<text x="147.20" y="300.66" font-size="5.3" fill="#111">ASGR1</text>
<text x="147.20" y="306.38" font-size="5.3" fill="#111">IGFBP3</text>
<text x="147.20" y="312.10" font-size="5.3" fill="#111">EDN1</text>
<text x="147.20" y="317.82" font-size="5.3" fill="#111">CLDN2</text>
<text x="147.20" y="323.54" font-size="5.3" fill="#111">TM4SF18</text>
<line x1="50.10" y1="326.90" x2="145.60" y2="326.90" stroke="#707070" stroke-width="1.4"/>
<text x="74.30" y="335.80" font-size="8" font-weight="bold" text-anchor="middle" fill="#000">Ctrl</text>
<text x="122.30" y="335.80" font-size="8" font-weight="bold" text-anchor="middle" fill="#000">TDS</text>
<defs><linearGradient id="hmg" x1="0" y1="0" x2="0" y2="1"><stop offset="0" stop-color="#e41a1c"/><stop offset="0.5" stop-color="#ffffff"/><stop offset="1" stop-color="#2060b2"/></linearGradient></defs>
<rect x="178.10" y="30.20" width="5.50" height="78.70" fill="url(#hmg)"/>
<text x="186.00" y="40.40" font-size="5.9" fill="#222">1.5</text>
<text x="186.00" y="50.90" font-size="5.9" fill="#222">1</text>
<text x="186.00" y="61.20" font-size="5.9" fill="#222">0.5</text>
<text x="186.00" y="71.60" font-size="5.9" fill="#222">0</text>
<text x="186.00" y="81.80" font-size="5.9" fill="#222">−0.5</text>
<text x="186.00" y="92.40" font-size="5.9" fill="#222">−1</text>
<text x="186.00" y="102.80" font-size="5.9" fill="#222">−1.5</text>
<text x="201.20" y="34.60" font-size="7.0" fill="#111">group</text>
<rect x="201.20" y="36.30" width="8.80" height="9.50" fill="#4ca35a"/>
<rect x="201.20" y="46.00" width="8.80" height="8.60" fill="#efb86c"/>
<text x="212.00" y="43.70" font-size="6.2" fill="#222">Control</text>
<text x="212.00" y="52.60" font-size="6.2" fill="#222">Case</text>
<line x1="23.10" y1="51.80" x2="23.10" y2="143.00" stroke="#5a5a5a" stroke-width="0.8"/>
<line x1="23.10" y1="51.80" x2="46.70" y2="51.80" stroke="#5a5a5a" stroke-width="0.8"/>
<line x1="23.10" y1="143.00" x2="36.30" y2="143.00" stroke="#5a5a5a" stroke-width="0.8"/>
<line x1="36.30" y1="115.20" x2="36.30" y2="171.50" stroke="#5a5a5a" stroke-width="0.8"/>
<line x1="36.30" y1="115.20" x2="50.50" y2="115.20" stroke="#5a5a5a" stroke-width="0.7"/>
<line x1="36.30" y1="171.50" x2="43.60" y2="171.50" stroke="#5a5a5a" stroke-width="0.8"/>
<line x1="48.90" y1="40.36" x2="48.90" y2="46.08" stroke="#5a5a5a" stroke-width="0.5"/>
<line x1="48.90" y1="40.36" x2="50.50" y2="40.36" stroke="#5a5a5a" stroke-width="0.5"/>
<line x1="48.90" y1="46.08" x2="50.50" y2="46.08" stroke="#5a5a5a" stroke-width="0.5"/>
<line x1="48.81" y1="51.80" x2="48.81" y2="57.52" stroke="#5a5a5a" stroke-width="0.5"/>
<line x1="48.81" y1="51.80" x2="50.50" y2="51.80" stroke="#5a5a5a" stroke-width="0.5"/>
<line x1="48.81" y1="57.52" x2="50.50" y2="57.52" stroke="#5a5a5a" stroke-width="0.5"/>
<line x1="48.93" y1="63.24" x2="48.93" y2="68.96" stroke="#5a5a5a" stroke-width="0.5"/>
<line x1="48.93" y1="63.24" x2="50.50" y2="63.24" stroke="#5a5a5a" stroke-width="0.5"/>
<line x1="48.93" y1="68.96" x2="50.50" y2="68.96" stroke="#5a5a5a" stroke-width="0.5"/>
<line x1="48.14" y1="54.66" x2="48.14" y2="66.10" stroke="#5a5a5a" stroke-width="0.5"/>
<line x1="48.14" y1="54.66" x2="48.81" y2="54.66" stroke="#5a5a5a" stroke-width="0.5"/>
<line x1="48.14" y1="66.10" x2="48.93" y2="66.10" stroke="#5a5a5a" stroke-width="0.5"/>
<line x1="47.56" y1="43.22" x2="47.56" y2="60.38" stroke="#5a5a5a" stroke-width="0.5"/>
<line x1="47.56" y1="43.22" x2="48.90" y2="43.22" stroke="#5a5a5a" stroke-width="0.5"/>
<line x1="47.56" y1="60.38" x2="48.14" y2="60.38" stroke="#5a5a5a" stroke-width="0.5"/>
<line x1="48.67" y1="74.68" x2="48.67" y2="80.40" stroke="#5a5a5a" stroke-width="0.5"/>
<line x1="48.67" y1="74.68" x2="50.50" y2="74.68" stroke="#5a5a5a" stroke-width="0.5"/>
<line x1="48.67" y1="80.40" x2="50.50" y2="80.40" stroke="#5a5a5a" stroke-width="0.5"/>
<line x1="48.66" y1="91.84" x2="48.66" y2="97.56" stroke="#5a5a5a" stroke-width="0.5"/>
<line x1="48.66" y1="91.84" x2="50.50" y2="91.84" stroke="#5a5a5a" stroke-width="0.5"/>
<line x1="48.66" y1="97.56" x2="50.50" y2="97.56" stroke="#5a5a5a" stroke-width="0.5"/>
<line x1="48.36" y1="86.12" x2="48.36" y2="94.70" stroke="#5a5a5a" stroke-width="0.5"/>
<line x1="48.36" y1="86.12" x2="50.50" y2="86.12" stroke="#5a5a5a" stroke-width="0.5"/>
<line x1="48.36" y1="94.70" x2="48.66" y2="94.70" stroke="#5a5a5a" stroke-width="0.5"/>
<line x1="48.77" y1="103.28" x2="48.77" y2="109.00" stroke="#5a5a5a" stroke-width="0.5"/>
<line x1="48.77" y1="103.28" x2="50.50" y2="103.28" stroke="#5a5a5a" stroke-width="0.5"/>
<line x1="48.77" y1="109.00" x2="50.50" y2="109.00" stroke="#5a5a5a" stroke-width="0.5"/>
<line x1="47.89" y1="90.41" x2="47.89" y2="106.14" stroke="#5a5a5a" stroke-width="0.5"/>
<line x1="47.89" y1="90.41" x2="48.36" y2="90.41" stroke="#5a5a5a" stroke-width="0.5"/>
<line x1="47.89" y1="106.14" x2="48.77" y2="106.14" stroke="#5a5a5a" stroke-width="0.5"/>
<line x1="47.34" y1="77.54" x2="47.34" y2="98.28" stroke="#5a5a5a" stroke-width="0.5"/>
<line x1="47.34" y1="77.54" x2="48.67" y2="77.54" stroke="#5a5a5a" stroke-width="0.5"/>
<line x1="47.34" y1="98.28" x2="47.89" y2="98.28" stroke="#5a5a5a" stroke-width="0.5"/>
<line x1="46.70" y1="51.80" x2="46.70" y2="87.91" stroke="#5a5a5a" stroke-width="0.5"/>
<line x1="46.70" y1="51.80" x2="47.56" y2="51.80" stroke="#5a5a5a" stroke-width="0.5"/>
<line x1="46.70" y1="87.91" x2="47.34" y2="87.91" stroke="#5a5a5a" stroke-width="0.5"/>
<line x1="46.70" y1="51.80" x2="46.70" y2="69.85" stroke="#5a5a5a" stroke-width="0.5"/>
<line x1="48.79" y1="120.44" x2="48.79" y2="126.16" stroke="#5a5a5a" stroke-width="0.5"/>
<line x1="48.79" y1="120.44" x2="50.50" y2="120.44" stroke="#5a5a5a" stroke-width="0.5"/>
<line x1="48.79" y1="126.16" x2="50.50" y2="126.16" stroke="#5a5a5a" stroke-width="0.5"/>
<line x1="48.70" y1="131.88" x2="48.70" y2="137.60" stroke="#5a5a5a" stroke-width="0.5"/>
<line x1="48.70" y1="131.88" x2="50.50" y2="131.88" stroke="#5a5a5a" stroke-width="0.5"/>
<line x1="48.70" y1="137.60" x2="50.50" y2="137.60" stroke="#5a5a5a" stroke-width="0.5"/>
<line x1="47.83" y1="123.30" x2="47.83" y2="134.74" stroke="#5a5a5a" stroke-width="0.5"/>
<line x1="47.83" y1="123.30" x2="48.79" y2="123.30" stroke="#5a5a5a" stroke-width="0.5"/>
<line x1="47.83" y1="134.74" x2="48.70" y2="134.74" stroke="#5a5a5a" stroke-width="0.5"/>
<line x1="48.88" y1="143.32" x2="48.88" y2="149.04" stroke="#5a5a5a" stroke-width="0.5"/>
<line x1="48.88" y1="143.32" x2="50.50" y2="143.32" stroke="#5a5a5a" stroke-width="0.5"/>
<line x1="48.88" y1="149.04" x2="50.50" y2="149.04" stroke="#5a5a5a" stroke-width="0.5"/>
<line x1="47.39" y1="129.02" x2="47.39" y2="146.18" stroke="#5a5a5a" stroke-width="0.5"/>
<line x1="47.39" y1="129.02" x2="47.83" y2="129.02" stroke="#5a5a5a" stroke-width="0.5"/>
<line x1="47.39" y1="146.18" x2="48.88" y2="146.18" stroke="#5a5a5a" stroke-width="0.5"/>
<line x1="48.59" y1="160.48" x2="48.59" y2="166.20" stroke="#5a5a5a" stroke-width="0.5"/>
<line x1="48.59" y1="160.48" x2="50.50" y2="160.48" stroke="#5a5a5a" stroke-width="0.5"/>
<line x1="48.59" y1="166.20" x2="50.50" y2="166.20" stroke="#5a5a5a" stroke-width="0.5"/>
<line x1="48.09" y1="154.76" x2="48.09" y2="163.34" stroke="#5a5a5a" stroke-width="0.5"/>
<line x1="48.09" y1="154.76" x2="50.50" y2="154.76" stroke="#5a5a5a" stroke-width="0.5"/>
<line x1="48.09" y1="163.34" x2="48.59" y2="163.34" stroke="#5a5a5a" stroke-width="0.5"/>
<line x1="48.82" y1="177.64" x2="48.82" y2="183.36" stroke="#5a5a5a" stroke-width="0.5"/>
<line x1="48.82" y1="177.64" x2="50.50" y2="177.64" stroke="#5a5a5a" stroke-width="0.5"/>
<line x1="48.82" y1="183.36" x2="50.50" y2="183.36" stroke="#5a5a5a" stroke-width="0.5"/>
<line x1="48.52" y1="171.92" x2="48.52" y2="180.50" stroke="#5a5a5a" stroke-width="0.5"/>
<line x1="48.52" y1="171.92" x2="50.50" y2="171.92" stroke="#5a5a5a" stroke-width="0.5"/>
<line x1="48.52" y1="180.50" x2="48.82" y2="180.50" stroke="#5a5a5a" stroke-width="0.5"/>
<line x1="47.28" y1="159.05" x2="47.28" y2="176.21" stroke="#5a5a5a" stroke-width="0.5"/>
<line x1="47.28" y1="159.05" x2="48.09" y2="159.05" stroke="#5a5a5a" stroke-width="0.5"/>
<line x1="47.28" y1="176.21" x2="48.52" y2="176.21" stroke="#5a5a5a" stroke-width="0.5"/>
<line x1="46.20" y1="137.60" x2="46.20" y2="167.63" stroke="#5a5a5a" stroke-width="0.5"/>
<line x1="46.20" y1="137.60" x2="47.39" y2="137.60" stroke="#5a5a5a" stroke-width="0.5"/>
<line x1="46.20" y1="167.63" x2="47.28" y2="167.63" stroke="#5a5a5a" stroke-width="0.5"/>
<line x1="48.58" y1="194.80" x2="48.58" y2="200.52" stroke="#5a5a5a" stroke-width="0.5"/>
<line x1="48.58" y1="194.80" x2="50.50" y2="194.80" stroke="#5a5a5a" stroke-width="0.5"/>
<line x1="48.58" y1="200.52" x2="50.50" y2="200.52" stroke="#5a5a5a" stroke-width="0.5"/>
<line x1="48.18" y1="189.08" x2="48.18" y2="197.66" stroke="#5a5a5a" stroke-width="0.5"/>
<line x1="48.18" y1="189.08" x2="50.50" y2="189.08" stroke="#5a5a5a" stroke-width="0.5"/>
<line x1="48.18" y1="197.66" x2="48.58" y2="197.66" stroke="#5a5a5a" stroke-width="0.5"/>
<line x1="48.96" y1="211.96" x2="48.96" y2="217.68" stroke="#5a5a5a" stroke-width="0.5"/>
<line x1="48.96" y1="211.96" x2="50.50" y2="211.96" stroke="#5a5a5a" stroke-width="0.5"/>
<line x1="48.96" y1="217.68" x2="50.50" y2="217.68" stroke="#5a5a5a" stroke-width="0.5"/>
<line x1="48.57" y1="206.24" x2="48.57" y2="214.82" stroke="#5a5a5a" stroke-width="0.5"/>
<line x1="48.57" y1="206.24" x2="50.50" y2="206.24" stroke="#5a5a5a" stroke-width="0.5"/>
<line x1="48.57" y1="214.82" x2="48.96" y2="214.82" stroke="#5a5a5a" stroke-width="0.5"/>
<line x1="47.46" y1="193.37" x2="47.46" y2="210.53" stroke="#5a5a5a" stroke-width="0.5"/>
<line x1="47.46" y1="193.37" x2="48.18" y2="193.37" stroke="#5a5a5a" stroke-width="0.5"/>
<line x1="47.46" y1="210.53" x2="48.57" y2="210.53" stroke="#5a5a5a" stroke-width="0.5"/>
<line x1="48.95" y1="223.40" x2="48.95" y2="229.12" stroke="#5a5a5a" stroke-width="0.5"/>
<line x1="48.95" y1="223.40" x2="50.50" y2="223.40" stroke="#5a5a5a" stroke-width="0.5"/>
<line x1="48.95" y1="229.12" x2="50.50" y2="229.12" stroke="#5a5a5a" stroke-width="0.5"/>
<line x1="48.61" y1="234.84" x2="48.61" y2="240.56" stroke="#5a5a5a" stroke-width="0.5"/>
<line x1="48.61" y1="234.84" x2="50.50" y2="234.84" stroke="#5a5a5a" stroke-width="0.5"/>
<line x1="48.61" y1="240.56" x2="50.50" y2="240.56" stroke="#5a5a5a" stroke-width="0.5"/>
<line x1="47.90" y1="226.26" x2="47.90" y2="237.70" stroke="#5a5a5a" stroke-width="0.5"/>
<line x1="47.90" y1="226.26" x2="48.95" y2="226.26" stroke="#5a5a5a" stroke-width="0.5"/>
<line x1="47.90" y1="237.70" x2="48.61" y2="237.70" stroke="#5a5a5a" stroke-width="0.5"/>
<line x1="48.66" y1="246.28" x2="48.66" y2="252.00" stroke="#5a5a5a" stroke-width="0.5"/>
<line x1="48.66" y1="246.28" x2="50.50" y2="246.28" stroke="#5a5a5a" stroke-width="0.5"/>
<line x1="48.66" y1="252.00" x2="50.50" y2="252.00" stroke="#5a5a5a" stroke-width="0.5"/>
<line x1="47.53" y1="231.98" x2="47.53" y2="249.14" stroke="#5a5a5a" stroke-width="0.5"/>
<line x1="47.53" y1="231.98" x2="47.90" y2="231.98" stroke="#5a5a5a" stroke-width="0.5"/>
<line x1="47.53" y1="249.14" x2="48.66" y2="249.14" stroke="#5a5a5a" stroke-width="0.5"/>
<line x1="46.36" y1="201.95" x2="46.36" y2="240.56" stroke="#5a5a5a" stroke-width="0.5"/>
<line x1="46.36" y1="201.95" x2="47.46" y2="201.95" stroke="#5a5a5a" stroke-width="0.5"/>
<line x1="46.36" y1="240.56" x2="47.53" y2="240.56" stroke="#5a5a5a" stroke-width="0.5"/>
<line x1="48.78" y1="257.72" x2="48.78" y2="263.44" stroke="#5a5a5a" stroke-width="0.5"/>
<line x1="48.78" y1="257.72" x2="50.50" y2="257.72" stroke="#5a5a5a" stroke-width="0.5"/>
<line x1="48.78" y1="263.44" x2="50.50" y2="263.44" stroke="#5a5a5a" stroke-width="0.5"/>
<line x1="48.89" y1="280.60" x2="48.89" y2="286.32" stroke="#5a5a5a" stroke-width="0.5"/>
<line x1="48.89" y1="280.60" x2="50.50" y2="280.60" stroke="#5a5a5a" stroke-width="0.5"/>
<line x1="48.89" y1="286.32" x2="50.50" y2="286.32" stroke="#5a5a5a" stroke-width="0.5"/>
<line x1="48.40" y1="274.88" x2="48.40" y2="283.46" stroke="#5a5a5a" stroke-width="0.5"/>
<line x1="48.40" y1="274.88" x2="50.50" y2="274.88" stroke="#5a5a5a" stroke-width="0.5"/>
<line x1="48.40" y1="283.46" x2="48.89" y2="283.46" stroke="#5a5a5a" stroke-width="0.5"/>
<line x1="48.10" y1="269.16" x2="48.10" y2="279.17" stroke="#5a5a5a" stroke-width="0.5"/>
<line x1="48.10" y1="269.16" x2="50.50" y2="269.16" stroke="#5a5a5a" stroke-width="0.5"/>
<line x1="48.10" y1="279.17" x2="48.40" y2="279.17" stroke="#5a5a5a" stroke-width="0.5"/>
<line x1="47.34" y1="260.58" x2="47.34" y2="274.16" stroke="#5a5a5a" stroke-width="0.5"/>
<line x1="47.34" y1="260.58" x2="48.78" y2="260.58" stroke="#5a5a5a" stroke-width="0.5"/>
<line x1="47.34" y1="274.16" x2="48.10" y2="274.16" stroke="#5a5a5a" stroke-width="0.5"/>
<line x1="48.74" y1="297.76" x2="48.74" y2="303.48" stroke="#5a5a5a" stroke-width="0.5"/>
<line x1="48.74" y1="297.76" x2="50.50" y2="297.76" stroke="#5a5a5a" stroke-width="0.5"/>
<line x1="48.74" y1="303.48" x2="50.50" y2="303.48" stroke="#5a5a5a" stroke-width="0.5"/>
<line x1="48.44" y1="292.04" x2="48.44" y2="300.62" stroke="#5a5a5a" stroke-width="0.5"/>
<line x1="48.44" y1="292.04" x2="50.50" y2="292.04" stroke="#5a5a5a" stroke-width="0.5"/>
<line x1="48.44" y1="300.62" x2="48.74" y2="300.62" stroke="#5a5a5a" stroke-width="0.5"/>
<line x1="48.10" y1="296.33" x2="48.10" y2="309.20" stroke="#5a5a5a" stroke-width="0.5"/>
<line x1="48.10" y1="296.33" x2="48.44" y2="296.33" stroke="#5a5a5a" stroke-width="0.5"/>
<line x1="48.10" y1="309.20" x2="50.50" y2="309.20" stroke="#5a5a5a" stroke-width="0.5"/>
<line x1="48.57" y1="314.92" x2="48.57" y2="320.64" stroke="#5a5a5a" stroke-width="0.5"/>
<line x1="48.57" y1="314.92" x2="50.50" y2="314.92" stroke="#5a5a5a" stroke-width="0.5"/>
<line x1="48.57" y1="320.64" x2="50.50" y2="320.64" stroke="#5a5a5a" stroke-width="0.5"/>
<line x1="47.49" y1="302.76" x2="47.49" y2="317.78" stroke="#5a5a5a" stroke-width="0.5"/>
<line x1="47.49" y1="302.76" x2="48.10" y2="302.76" stroke="#5a5a5a" stroke-width="0.5"/>
<line x1="47.49" y1="317.78" x2="48.57" y2="317.78" stroke="#5a5a5a" stroke-width="0.5"/>
<line x1="46.06" y1="267.37" x2="46.06" y2="310.27" stroke="#5a5a5a" stroke-width="0.5"/>
<line x1="46.06" y1="267.37" x2="47.34" y2="267.37" stroke="#5a5a5a" stroke-width="0.5"/>
<line x1="46.06" y1="310.27" x2="47.49" y2="310.27" stroke="#5a5a5a" stroke-width="0.5"/>
<line x1="44.60" y1="221.25" x2="44.60" y2="288.82" stroke="#5a5a5a" stroke-width="0.5"/>
<line x1="44.60" y1="221.25" x2="46.36" y2="221.25" stroke="#5a5a5a" stroke-width="0.5"/>
<line x1="44.60" y1="288.82" x2="46.06" y2="288.82" stroke="#5a5a5a" stroke-width="0.5"/>
<line x1="43.60" y1="152.62" x2="43.60" y2="255.04" stroke="#5a5a5a" stroke-width="0.6"/>
<line x1="43.60" y1="152.62" x2="46.20" y2="152.62" stroke="#5a5a5a" stroke-width="0.5"/>
<line x1="43.60" y1="255.04" x2="44.60" y2="255.04" stroke="#5a5a5a" stroke-width="0.5"/>
<line x1="43.60" y1="171.50" x2="43.60" y2="171.50" stroke="#5a5a5a" stroke-width="0.5"/>
<text x="243.60" y="13.60" font-size="19" font-weight="bold" fill="#000">B</text>
<text x="328.00" y="20.20" font-size="7" font-weight="bold" text-anchor="middle" textLength="53.5" lengthAdjust="spacingAndGlyphs" fill="#000">Control-vs-Case</text>
<line x1="268.40" y1="22.60" x2="387.40" y2="22.60" stroke="#cfcfcf" stroke-width="0.9"/>
<line x1="387.40" y1="22.60" x2="387.40" y2="169.60" stroke="#cfcfcf" stroke-width="0.9"/>
<line x1="268.40" y1="170.20" x2="387.40" y2="170.20" stroke="#d8d8d8" stroke-width="1.2"/>
<line x1="268.40" y1="169.60" x2="387.40" y2="169.60" stroke="#666" stroke-width="0.7"/>
<line x1="268.40" y1="22.60" x2="268.40" y2="169.60" stroke="#555" stroke-width="0.8"/>
<line x1="266.40" y1="163.50" x2="268.40" y2="163.50" stroke="#444" stroke-width="0.6"/>
<text x="266.10" y="165.25" font-size="4.9" font-weight="bold" text-anchor="end" fill="#111">0</text>
<line x1="266.40" y1="134.40" x2="268.40" y2="134.40" stroke="#444" stroke-width="0.6"/>
<text x="266.10" y="136.15" font-size="4.9" font-weight="bold" text-anchor="end" fill="#111">50</text>
<line x1="266.40" y1="105.30" x2="268.40" y2="105.30" stroke="#444" stroke-width="0.6"/>
<text x="266.10" y="107.05" font-size="4.9" font-weight="bold" text-anchor="end" fill="#111">100</text>
<line x1="266.40" y1="76.20" x2="268.40" y2="76.20" stroke="#444" stroke-width="0.6"/>
<text x="266.10" y="77.95" font-size="4.9" font-weight="bold" text-anchor="end" fill="#111">150</text>
<line x1="266.40" y1="47.10" x2="268.40" y2="47.10" stroke="#444" stroke-width="0.6"/>
<text x="266.10" y="48.85" font-size="4.9" font-weight="bold" text-anchor="end" fill="#111">200</text>
<line x1="273.30" y1="169.60" x2="273.30" y2="171.20" stroke="#444" stroke-width="0.6"/>
<text x="273.30" y="175.30" font-size="5.0" font-weight="bold" text-anchor="middle" fill="#111">-20</text>
<line x1="300.50" y1="169.60" x2="300.50" y2="171.20" stroke="#444" stroke-width="0.6"/>
<text x="300.50" y="175.30" font-size="5.0" font-weight="bold" text-anchor="middle" fill="#111">-10</text>
<line x1="327.70" y1="169.60" x2="327.70" y2="171.20" stroke="#444" stroke-width="0.6"/>
<text x="327.70" y="175.30" font-size="5.0" font-weight="bold" text-anchor="middle" fill="#111">0</text>
<line x1="354.90" y1="169.60" x2="354.90" y2="171.20" stroke="#444" stroke-width="0.6"/>
<text x="354.90" y="175.30" font-size="5.0" font-weight="bold" text-anchor="middle" fill="#111">10</text>
<line x1="382.10" y1="169.60" x2="382.10" y2="171.20" stroke="#444" stroke-width="0.6"/>
<text x="382.10" y="175.30" font-size="5.0" font-weight="bold" text-anchor="middle" fill="#111">20</text>
<text x="327.80" y="180.00" font-size="5.8" text-anchor="middle" fill="#444">log₂(fold change)</text>
<text x="256.00" y="95.00" font-size="5.9" text-anchor="middle" transform="rotate(-90 256.0 95.0)" fill="#444">− log₁₀(padj)</text>
<circle cx="327.97" cy="160.85" r="0.85" fill="#7f7f7f"/>
<circle cx="327.47" cy="151.01" r="0.85" fill="#7f7f7f"/>
<circle cx="328.11" cy="159.94" r="0.85" fill="#7f7f7f"/>
<circle cx="327.71" cy="164.09" r="0.85" fill="#7f7f7f"/>
<circle cx="329.20" cy="157.71" r="0.85" fill="#7f7f7f"/>
<circle cx="326.61" cy="164.71" r="0.85" fill="#7f7f7f"/>
<circle cx="329.29" cy="164.73" r="0.85" fill="#7f7f7f"/>
<circle cx="325.22" cy="156.41" r="0.85" fill="#7f7f7f"/>
<circle cx="330.11" cy="149.48" r="0.85" fill="#7f7f7f"/>
<circle cx="328.26" cy="157.23" r="0.85" fill="#7f7f7f"/>
<circle cx="325.08" cy="164.31" r="0.85" fill="#7f7f7f"/>
<circle cx="325.32" cy="159.59" r="0.85" fill="#7f7f7f"/>
<circle cx="326.28" cy="164.05" r="0.85" fill="#7f7f7f"/>
<circle cx="327.46" cy="164.96" r="0.85" fill="#7f7f7f"/>
<circle cx="329.46" cy="161.03" r="0.85" fill="#7f7f7f"/>
<circle cx="328.39" cy="159.75" r="0.85" fill="#7f7f7f"/>
<circle cx="328.51" cy="160.08" r="0.85" fill="#7f7f7f"/>
<circle cx="326.47" cy="160.77" r="0.85" fill="#7f7f7f"/>
<circle cx="330.28" cy="149.06" r="0.85" fill="#7f7f7f"/>
<circle cx="328.75" cy="153.10" r="0.85" fill="#7f7f7f"/>
<circle cx="326.22" cy="162.75" r="0.85" fill="#7f7f7f"/>
<circle cx="325.37" cy="163.06" r="0.85" fill="#7f7f7f"/>
<circle cx="327.12" cy="154.82" r="0.85" fill="#7f7f7f"/>
<circle cx="327.05" cy="152.95" r="0.85" fill="#7f7f7f"/>
<circle cx="329.49" cy="150.12" r="0.85" fill="#7f7f7f"/>
<circle cx="326.11" cy="165.00" r="0.85" fill="#7f7f7f"/>
<circle cx="327.49" cy="151.36" r="0.85" fill="#7f7f7f"/>
<circle cx="327.11" cy="149.53" r="0.85" fill="#7f7f7f"/>
<circle cx="328.34" cy="164.81" r="0.85" fill="#7f7f7f"/>
<circle cx="326.43" cy="154.55" r="0.85" fill="#7f7f7f"/>
<circle cx="326.76" cy="164.75" r="0.85" fill="#7f7f7f"/>
<circle cx="329.02" cy="149.96" r="0.85" fill="#7f7f7f"/>
<circle cx="326.31" cy="164.58" r="0.85" fill="#7f7f7f"/>
<circle cx="325.32" cy="164.68" r="0.85" fill="#7f7f7f"/>
<circle cx="325.94" cy="154.12" r="0.85" fill="#7f7f7f"/>
<circle cx="327.37" cy="159.04" r="0.85" fill="#7f7f7f"/>
<circle cx="328.88" cy="164.04" r="0.85" fill="#7f7f7f"/>
<circle cx="328.41" cy="164.49" r="0.85" fill="#7f7f7f"/>
<circle cx="327.23" cy="164.59" r="0.85" fill="#7f7f7f"/>
<circle cx="326.43" cy="163.85" r="0.85" fill="#7f7f7f"/>
<circle cx="329.26" cy="149.78" r="0.85" fill="#7f7f7f"/>
<circle cx="329.69" cy="162.88" r="0.85" fill="#7f7f7f"/>
<circle cx="327.09" cy="163.87" r="0.85" fill="#7f7f7f"/>
<circle cx="328.40" cy="152.76" r="0.85" fill="#7f7f7f"/>
<circle cx="330.24" cy="164.68" r="0.85" fill="#7f7f7f"/>
<circle cx="326.37" cy="163.84" r="0.85" fill="#7f7f7f"/>
<circle cx="326.74" cy="154.68" r="0.85" fill="#7f7f7f"/>
<circle cx="325.39" cy="162.98" r="0.85" fill="#7f7f7f"/>
<circle cx="328.09" cy="164.73" r="0.85" fill="#7f7f7f"/>
<circle cx="328.19" cy="163.56" r="0.85" fill="#7f7f7f"/>
<circle cx="327.40" cy="162.03" r="0.85" fill="#7f7f7f"/>
<circle cx="327.56" cy="150.10" r="0.85" fill="#7f7f7f"/>
<circle cx="329.59" cy="158.76" r="0.85" fill="#7f7f7f"/>
<circle cx="325.82" cy="164.11" r="0.85" fill="#7f7f7f"/>
<circle cx="329.33" cy="151.41" r="0.85" fill="#7f7f7f"/>
<circle cx="326.01" cy="163.49" r="0.85" fill="#7f7f7f"/>
<circle cx="329.98" cy="155.42" r="0.85" fill="#7f7f7f"/>
<circle cx="330.04" cy="163.99" r="0.85" fill="#7f7f7f"/>
<circle cx="328.20" cy="152.07" r="0.85" fill="#7f7f7f"/>
<circle cx="325.55" cy="161.32" r="0.85" fill="#7f7f7f"/>
<circle cx="330.10" cy="164.94" r="0.85" fill="#7f7f7f"/>
<circle cx="328.73" cy="163.60" r="0.85" fill="#7f7f7f"/>
<circle cx="329.37" cy="163.41" r="0.85" fill="#7f7f7f"/>
<circle cx="326.56" cy="158.35" r="0.85" fill="#7f7f7f"/>
<circle cx="328.82" cy="164.17" r="0.85" fill="#7f7f7f"/>
<circle cx="326.21" cy="164.83" r="0.85" fill="#7f7f7f"/>
<circle cx="329.52" cy="159.04" r="0.85" fill="#7f7f7f"/>
<circle cx="326.49" cy="158.01" r="0.85" fill="#7f7f7f"/>
<circle cx="326.08" cy="151.18" r="0.85" fill="#7f7f7f"/>
<circle cx="326.43" cy="164.98" r="0.85" fill="#7f7f7f"/>
<circle cx="325.32" cy="160.95" r="0.85" fill="#7f7f7f"/>
<circle cx="326.95" cy="164.16" r="0.85" fill="#7f7f7f"/>
<circle cx="325.70" cy="158.81" r="0.85" fill="#7f7f7f"/>
<circle cx="329.72" cy="162.15" r="0.85" fill="#7f7f7f"/>
<circle cx="328.48" cy="149.53" r="0.85" fill="#7f7f7f"/>
<circle cx="328.10" cy="156.46" r="0.85" fill="#7f7f7f"/>
<circle cx="325.19" cy="164.43" r="0.85" fill="#7f7f7f"/>
<circle cx="329.82" cy="164.98" r="0.85" fill="#7f7f7f"/>
<circle cx="330.10" cy="156.25" r="0.85" fill="#7f7f7f"/>
<circle cx="328.37" cy="164.98" r="0.85" fill="#7f7f7f"/>
<circle cx="328.87" cy="160.37" r="0.85" fill="#7f7f7f"/>
<circle cx="330.30" cy="162.71" r="0.85" fill="#7f7f7f"/>
<circle cx="327.89" cy="164.80" r="0.85" fill="#7f7f7f"/>
<circle cx="329.77" cy="155.48" r="0.85" fill="#7f7f7f"/>
<circle cx="328.73" cy="155.47" r="0.85" fill="#7f7f7f"/>
<circle cx="329.85" cy="154.21" r="0.85" fill="#7f7f7f"/>
<circle cx="328.63" cy="162.29" r="0.85" fill="#7f7f7f"/>
<circle cx="329.62" cy="151.60" r="0.85" fill="#7f7f7f"/>
<circle cx="329.19" cy="161.38" r="0.85" fill="#7f7f7f"/>
<circle cx="328.04" cy="152.53" r="0.85" fill="#7f7f7f"/>
<circle cx="327.03" cy="157.80" r="0.85" fill="#7f7f7f"/>
<circle cx="328.23" cy="158.61" r="0.85" fill="#7f7f7f"/>
<circle cx="328.39" cy="164.78" r="0.85" fill="#7f7f7f"/>
<circle cx="329.66" cy="149.18" r="0.85" fill="#7f7f7f"/>
<circle cx="327.06" cy="155.67" r="0.85" fill="#7f7f7f"/>
<circle cx="328.08" cy="155.52" r="0.85" fill="#7f7f7f"/>
<circle cx="329.44" cy="161.03" r="0.85" fill="#7f7f7f"/>
<circle cx="328.98" cy="164.76" r="0.85" fill="#7f7f7f"/>
<circle cx="328.19" cy="164.96" r="0.85" fill="#7f7f7f"/>
<circle cx="326.22" cy="160.39" r="0.85" fill="#7f7f7f"/>
<circle cx="327.64" cy="156.31" r="0.85" fill="#7f7f7f"/>
<circle cx="329.88" cy="158.01" r="0.85" fill="#7f7f7f"/>
<circle cx="325.06" cy="163.42" r="0.85" fill="#7f7f7f"/>
<circle cx="328.59" cy="162.92" r="0.85" fill="#7f7f7f"/>
<circle cx="325.90" cy="163.94" r="0.85" fill="#7f7f7f"/>
<circle cx="328.50" cy="151.48" r="0.85" fill="#7f7f7f"/>
<circle cx="329.73" cy="161.01" r="0.85" fill="#7f7f7f"/>
<circle cx="328.53" cy="162.61" r="0.85" fill="#7f7f7f"/>
<circle cx="327.28" cy="163.98" r="0.85" fill="#7f7f7f"/>
<circle cx="329.85" cy="153.91" r="0.85" fill="#7f7f7f"/>
<circle cx="327.04" cy="152.12" r="0.85" fill="#7f7f7f"/>
<circle cx="326.68" cy="158.60" r="0.85" fill="#7f7f7f"/>
<circle cx="327.63" cy="164.46" r="0.85" fill="#7f7f7f"/>
<circle cx="329.50" cy="153.17" r="0.85" fill="#7f7f7f"/>
<circle cx="330.04" cy="156.04" r="0.85" fill="#7f7f7f"/>
<circle cx="325.90" cy="163.20" r="0.85" fill="#7f7f7f"/>
<circle cx="326.46" cy="160.87" r="0.85" fill="#7f7f7f"/>
<circle cx="327.19" cy="163.84" r="0.85" fill="#7f7f7f"/>
<circle cx="327.62" cy="157.79" r="0.85" fill="#7f7f7f"/>
<circle cx="329.45" cy="162.75" r="0.85" fill="#7f7f7f"/>
<circle cx="327.40" cy="149.49" r="0.85" fill="#7f7f7f"/>
<circle cx="325.17" cy="164.81" r="0.85" fill="#7f7f7f"/>
<circle cx="325.22" cy="152.30" r="0.85" fill="#7f7f7f"/>
<circle cx="328.02" cy="156.09" r="0.85" fill="#7f7f7f"/>
<circle cx="329.20" cy="162.83" r="0.85" fill="#7f7f7f"/>
<circle cx="325.72" cy="164.98" r="0.85" fill="#7f7f7f"/>
<circle cx="325.13" cy="160.81" r="0.85" fill="#7f7f7f"/>
<circle cx="326.26" cy="153.35" r="0.85" fill="#7f7f7f"/>
<circle cx="325.25" cy="164.43" r="0.85" fill="#7f7f7f"/>
<circle cx="327.37" cy="157.72" r="0.85" fill="#7f7f7f"/>
<circle cx="328.47" cy="157.71" r="0.85" fill="#7f7f7f"/>
<circle cx="330.08" cy="153.88" r="0.85" fill="#7f7f7f"/>
<circle cx="326.06" cy="156.60" r="0.85" fill="#7f7f7f"/>
<circle cx="325.95" cy="160.48" r="0.85" fill="#7f7f7f"/>
<circle cx="327.50" cy="164.99" r="0.85" fill="#7f7f7f"/>
<circle cx="325.95" cy="155.97" r="0.85" fill="#7f7f7f"/>
<circle cx="326.83" cy="163.25" r="0.85" fill="#7f7f7f"/>
<circle cx="327.76" cy="156.33" r="0.85" fill="#7f7f7f"/>
<circle cx="329.01" cy="158.01" r="0.85" fill="#7f7f7f"/>
<circle cx="329.20" cy="161.72" r="0.85" fill="#7f7f7f"/>
<circle cx="325.46" cy="151.47" r="0.85" fill="#7f7f7f"/>
<circle cx="328.83" cy="150.79" r="0.85" fill="#7f7f7f"/>
<circle cx="327.40" cy="164.50" r="0.85" fill="#7f7f7f"/>
<circle cx="329.82" cy="157.79" r="0.85" fill="#7f7f7f"/>
<circle cx="328.01" cy="161.96" r="0.85" fill="#7f7f7f"/>
<circle cx="329.22" cy="152.14" r="0.85" fill="#7f7f7f"/>
<circle cx="327.46" cy="150.49" r="0.85" fill="#7f7f7f"/>
<circle cx="326.09" cy="157.28" r="0.85" fill="#7f7f7f"/>
<circle cx="329.34" cy="155.80" r="0.85" fill="#7f7f7f"/>
<circle cx="328.80" cy="157.48" r="0.85" fill="#7f7f7f"/>
<circle cx="329.77" cy="163.84" r="0.85" fill="#7f7f7f"/>
<circle cx="330.18" cy="149.53" r="0.85" fill="#7f7f7f"/>
<circle cx="329.19" cy="159.44" r="0.85" fill="#7f7f7f"/>
<circle cx="329.82" cy="162.69" r="0.85" fill="#7f7f7f"/>
<circle cx="326.85" cy="152.72" r="0.85" fill="#7f7f7f"/>
<circle cx="327.34" cy="164.77" r="0.85" fill="#7f7f7f"/>
<circle cx="329.07" cy="159.20" r="0.85" fill="#7f7f7f"/>
<circle cx="325.15" cy="160.28" r="0.85" fill="#7f7f7f"/>
<circle cx="325.34" cy="153.84" r="0.85" fill="#7f7f7f"/>
<circle cx="325.92" cy="154.05" r="0.85" fill="#7f7f7f"/>
<circle cx="329.18" cy="162.51" r="0.85" fill="#7f7f7f"/>
<circle cx="325.79" cy="164.43" r="0.85" fill="#7f7f7f"/>
<circle cx="328.83" cy="159.80" r="0.85" fill="#7f7f7f"/>
<circle cx="328.65" cy="153.10" r="0.85" fill="#7f7f7f"/>
<circle cx="327.61" cy="150.45" r="0.85" fill="#7f7f7f"/>
<circle cx="325.46" cy="150.36" r="0.85" fill="#7f7f7f"/>
<circle cx="327.79" cy="163.77" r="0.85" fill="#7f7f7f"/>
<circle cx="328.86" cy="163.05" r="0.85" fill="#7f7f7f"/>
<circle cx="327.77" cy="157.53" r="0.85" fill="#7f7f7f"/>
<circle cx="327.97" cy="153.02" r="0.85" fill="#7f7f7f"/>
<circle cx="327.02" cy="162.79" r="0.85" fill="#7f7f7f"/>
<circle cx="329.77" cy="152.98" r="0.85" fill="#7f7f7f"/>
<circle cx="329.51" cy="163.89" r="0.85" fill="#7f7f7f"/>
<circle cx="327.78" cy="149.85" r="0.85" fill="#7f7f7f"/>
<circle cx="326.07" cy="158.79" r="0.85" fill="#7f7f7f"/>
<circle cx="327.67" cy="159.46" r="0.85" fill="#7f7f7f"/>
<circle cx="325.15" cy="158.19" r="0.85" fill="#7f7f7f"/>
<circle cx="327.73" cy="149.82" r="0.85" fill="#7f7f7f"/>
<circle cx="329.25" cy="161.62" r="0.85" fill="#7f7f7f"/>
<circle cx="327.60" cy="158.98" r="0.85" fill="#7f7f7f"/>
<circle cx="325.35" cy="156.46" r="0.85" fill="#7f7f7f"/>
<circle cx="327.19" cy="159.41" r="0.85" fill="#7f7f7f"/>
<circle cx="329.89" cy="150.16" r="0.85" fill="#7f7f7f"/>
<circle cx="327.51" cy="163.28" r="0.85" fill="#7f7f7f"/>
<circle cx="327.30" cy="164.52" r="0.85" fill="#7f7f7f"/>
<circle cx="329.77" cy="153.68" r="0.85" fill="#7f7f7f"/>
<circle cx="326.68" cy="160.46" r="0.85" fill="#7f7f7f"/>
<circle cx="328.27" cy="164.04" r="0.85" fill="#7f7f7f"/>
<circle cx="325.69" cy="150.98" r="0.85" fill="#7f7f7f"/>
<circle cx="325.12" cy="154.53" r="0.85" fill="#7f7f7f"/>
<circle cx="326.20" cy="164.01" r="0.85" fill="#7f7f7f"/>
<circle cx="326.71" cy="156.55" r="0.85" fill="#7f7f7f"/>
<circle cx="328.28" cy="162.24" r="0.85" fill="#7f7f7f"/>
<circle cx="328.87" cy="164.65" r="0.85" fill="#7f7f7f"/>
<circle cx="327.71" cy="164.55" r="0.85" fill="#7f7f7f"/>
<circle cx="326.05" cy="163.48" r="0.85" fill="#7f7f7f"/>
<circle cx="327.31" cy="159.56" r="0.85" fill="#7f7f7f"/>
<circle cx="327.19" cy="161.97" r="0.85" fill="#7f7f7f"/>
<circle cx="325.85" cy="159.57" r="0.85" fill="#7f7f7f"/>
<circle cx="328.35" cy="163.92" r="0.85" fill="#7f7f7f"/>
<circle cx="327.81" cy="157.54" r="0.85" fill="#7f7f7f"/>
<circle cx="328.24" cy="152.83" r="0.85" fill="#7f7f7f"/>
<circle cx="326.23" cy="152.70" r="0.85" fill="#7f7f7f"/>
<circle cx="329.30" cy="155.39" r="0.85" fill="#7f7f7f"/>
<circle cx="326.67" cy="151.56" r="0.85" fill="#7f7f7f"/>
<circle cx="329.89" cy="162.75" r="0.85" fill="#7f7f7f"/>
<circle cx="330.29" cy="163.80" r="0.85" fill="#7f7f7f"/>
<circle cx="325.71" cy="151.94" r="0.85" fill="#7f7f7f"/>
<circle cx="328.85" cy="163.59" r="0.85" fill="#7f7f7f"/>
<circle cx="325.51" cy="163.39" r="0.85" fill="#7f7f7f"/>
<circle cx="327.23" cy="153.29" r="0.85" fill="#7f7f7f"/>
<circle cx="325.67" cy="154.28" r="0.85" fill="#7f7f7f"/>
<circle cx="328.63" cy="161.59" r="0.85" fill="#7f7f7f"/>
<circle cx="326.06" cy="164.98" r="0.85" fill="#7f7f7f"/>
<circle cx="329.83" cy="156.64" r="0.85" fill="#7f7f7f"/>
<circle cx="325.61" cy="149.85" r="0.85" fill="#7f7f7f"/>
<circle cx="329.02" cy="159.98" r="0.85" fill="#7f7f7f"/>
<circle cx="328.63" cy="160.03" r="0.85" fill="#7f7f7f"/>
<circle cx="325.37" cy="164.06" r="0.85" fill="#7f7f7f"/>
<circle cx="325.20" cy="164.65" r="0.85" fill="#7f7f7f"/>
<circle cx="327.73" cy="159.18" r="0.85" fill="#7f7f7f"/>
<circle cx="325.78" cy="158.87" r="0.85" fill="#7f7f7f"/>
<circle cx="326.08" cy="164.10" r="0.85" fill="#7f7f7f"/>
<circle cx="330.25" cy="153.10" r="0.85" fill="#7f7f7f"/>
<circle cx="325.50" cy="150.94" r="0.85" fill="#7f7f7f"/>
<circle cx="330.04" cy="164.86" r="0.85" fill="#7f7f7f"/>
<circle cx="329.05" cy="160.69" r="0.85" fill="#7f7f7f"/>
<circle cx="327.47" cy="162.61" r="0.85" fill="#7f7f7f"/>
<circle cx="327.28" cy="159.82" r="0.85" fill="#7f7f7f"/>
<circle cx="325.07" cy="158.27" r="0.85" fill="#7f7f7f"/>
<circle cx="329.47" cy="156.25" r="0.85" fill="#7f7f7f"/>
<circle cx="327.41" cy="164.12" r="0.85" fill="#7f7f7f"/>
<circle cx="327.15" cy="155.42" r="0.85" fill="#7f7f7f"/>
<circle cx="325.87" cy="164.01" r="0.85" fill="#7f7f7f"/>
<circle cx="325.08" cy="159.86" r="0.85" fill="#7f7f7f"/>
<circle cx="329.25" cy="151.80" r="0.85" fill="#7f7f7f"/>
<circle cx="329.56" cy="156.18" r="0.85" fill="#7f7f7f"/>
<circle cx="327.14" cy="157.72" r="0.85" fill="#7f7f7f"/>
<circle cx="327.67" cy="158.29" r="0.85" fill="#7f7f7f"/>
<circle cx="329.27" cy="149.47" r="0.85" fill="#7f7f7f"/>
<circle cx="329.83" cy="163.40" r="0.85" fill="#7f7f7f"/>
<circle cx="329.12" cy="155.31" r="0.85" fill="#7f7f7f"/>
<circle cx="327.15" cy="153.71" r="0.85" fill="#7f7f7f"/>
<circle cx="329.66" cy="151.71" r="0.85" fill="#7f7f7f"/>
<circle cx="329.07" cy="156.38" r="0.85" fill="#7f7f7f"/>
<circle cx="327.15" cy="154.85" r="0.85" fill="#7f7f7f"/>
<circle cx="325.37" cy="155.79" r="0.85" fill="#7f7f7f"/>
<circle cx="327.48" cy="162.42" r="0.85" fill="#7f7f7f"/>
<circle cx="326.88" cy="164.99" r="0.85" fill="#7f7f7f"/>
<circle cx="328.31" cy="157.53" r="0.85" fill="#7f7f7f"/>
<circle cx="330.01" cy="163.66" r="0.85" fill="#7f7f7f"/>
<circle cx="326.79" cy="156.98" r="0.85" fill="#7f7f7f"/>
<circle cx="328.02" cy="157.11" r="0.85" fill="#7f7f7f"/>
<circle cx="327.06" cy="159.51" r="0.85" fill="#7f7f7f"/>
<circle cx="328.40" cy="149.00" r="0.85" fill="#7f7f7f"/>
<circle cx="329.04" cy="156.25" r="0.85" fill="#7f7f7f"/>
<circle cx="325.12" cy="149.54" r="0.85" fill="#7f7f7f"/>
<circle cx="328.92" cy="157.99" r="0.85" fill="#7f7f7f"/>
<circle cx="327.13" cy="163.42" r="0.85" fill="#7f7f7f"/>
<circle cx="326.04" cy="164.90" r="0.85" fill="#7f7f7f"/>
<circle cx="325.52" cy="161.97" r="0.85" fill="#7f7f7f"/>
<circle cx="329.80" cy="163.48" r="0.85" fill="#7f7f7f"/>
<circle cx="327.69" cy="159.21" r="0.85" fill="#7f7f7f"/>
<circle cx="328.01" cy="149.88" r="0.85" fill="#7f7f7f"/>
<circle cx="328.38" cy="149.13" r="0.85" fill="#7f7f7f"/>
<circle cx="325.40" cy="153.83" r="0.85" fill="#7f7f7f"/>
<circle cx="329.02" cy="158.33" r="0.85" fill="#7f7f7f"/>
<circle cx="329.93" cy="164.92" r="0.85" fill="#7f7f7f"/>
<circle cx="327.50" cy="164.29" r="0.85" fill="#7f7f7f"/>
<circle cx="327.63" cy="164.22" r="0.85" fill="#7f7f7f"/>
<circle cx="325.31" cy="158.07" r="0.85" fill="#7f7f7f"/>
<circle cx="327.23" cy="150.46" r="0.85" fill="#7f7f7f"/>
<circle cx="328.17" cy="159.62" r="0.85" fill="#7f7f7f"/>
<circle cx="326.51" cy="162.11" r="0.85" fill="#7f7f7f"/>
<circle cx="327.97" cy="157.20" r="0.85" fill="#7f7f7f"/>
<circle cx="328.80" cy="163.12" r="0.85" fill="#7f7f7f"/>
<circle cx="325.07" cy="162.98" r="0.85" fill="#7f7f7f"/>
<circle cx="325.23" cy="163.54" r="0.85" fill="#7f7f7f"/>
<circle cx="329.00" cy="164.32" r="0.85" fill="#7f7f7f"/>
<circle cx="329.76" cy="161.77" r="0.85" fill="#7f7f7f"/>
<circle cx="325.27" cy="155.23" r="0.85" fill="#7f7f7f"/>
<circle cx="330.01" cy="149.30" r="0.85" fill="#7f7f7f"/>
<circle cx="329.80" cy="164.81" r="0.85" fill="#7f7f7f"/>
<circle cx="327.53" cy="161.20" r="0.85" fill="#7f7f7f"/>
<circle cx="326.29" cy="149.72" r="0.85" fill="#7f7f7f"/>
<circle cx="329.97" cy="159.68" r="0.85" fill="#7f7f7f"/>
<circle cx="327.48" cy="155.79" r="0.85" fill="#7f7f7f"/>
<circle cx="329.33" cy="149.57" r="0.85" fill="#7f7f7f"/>
<circle cx="325.61" cy="158.22" r="0.85" fill="#7f7f7f"/>
<circle cx="327.42" cy="157.82" r="0.85" fill="#7f7f7f"/>
<circle cx="325.28" cy="163.93" r="0.85" fill="#7f7f7f"/>
<circle cx="325.66" cy="159.60" r="0.85" fill="#7f7f7f"/>
<circle cx="328.54" cy="160.99" r="0.85" fill="#7f7f7f"/>
<circle cx="326.39" cy="160.80" r="0.85" fill="#7f7f7f"/>
<circle cx="327.22" cy="158.62" r="0.85" fill="#7f7f7f"/>
<circle cx="327.81" cy="154.56" r="0.85" fill="#7f7f7f"/>
<circle cx="330.05" cy="149.06" r="0.85" fill="#7f7f7f"/>
<circle cx="326.26" cy="155.54" r="0.85" fill="#7f7f7f"/>
<circle cx="329.73" cy="164.60" r="0.85" fill="#7f7f7f"/>
<circle cx="328.31" cy="154.41" r="0.85" fill="#7f7f7f"/>
<circle cx="326.44" cy="162.19" r="0.85" fill="#7f7f7f"/>
<circle cx="327.99" cy="156.59" r="0.85" fill="#7f7f7f"/>
<circle cx="328.36" cy="158.44" r="0.85" fill="#7f7f7f"/>
<circle cx="326.01" cy="155.11" r="0.85" fill="#7f7f7f"/>
<circle cx="330.19" cy="163.49" r="0.85" fill="#7f7f7f"/>
<circle cx="329.66" cy="151.22" r="0.85" fill="#7f7f7f"/>
<circle cx="325.32" cy="164.93" r="0.85" fill="#7f7f7f"/>
<circle cx="327.25" cy="163.26" r="0.85" fill="#7f7f7f"/>
<circle cx="325.54" cy="157.84" r="0.85" fill="#7f7f7f"/>
<circle cx="325.38" cy="159.36" r="0.85" fill="#7f7f7f"/>
<circle cx="328.58" cy="164.75" r="0.85" fill="#7f7f7f"/>
<circle cx="328.34" cy="159.20" r="0.85" fill="#7f7f7f"/>
<circle cx="327.54" cy="162.01" r="0.85" fill="#7f7f7f"/>
<circle cx="326.82" cy="163.87" r="0.85" fill="#7f7f7f"/>
<circle cx="329.44" cy="155.30" r="0.85" fill="#7f7f7f"/>
<circle cx="325.63" cy="164.81" r="0.85" fill="#7f7f7f"/>
<circle cx="328.31" cy="153.84" r="0.85" fill="#7f7f7f"/>
<circle cx="326.13" cy="154.77" r="0.85" fill="#7f7f7f"/>
<circle cx="326.37" cy="161.27" r="0.85" fill="#7f7f7f"/>
<circle cx="326.96" cy="153.82" r="0.85" fill="#7f7f7f"/>
<circle cx="330.24" cy="157.23" r="0.85" fill="#7f7f7f"/>
<circle cx="327.91" cy="162.63" r="0.85" fill="#7f7f7f"/>
<circle cx="329.88" cy="155.28" r="0.85" fill="#7f7f7f"/>
<circle cx="326.96" cy="161.22" r="0.85" fill="#7f7f7f"/>
<circle cx="329.64" cy="164.70" r="0.85" fill="#7f7f7f"/>
<circle cx="325.44" cy="164.79" r="0.85" fill="#7f7f7f"/>
<circle cx="327.57" cy="158.95" r="0.85" fill="#7f7f7f"/>
<circle cx="326.58" cy="156.58" r="0.85" fill="#7f7f7f"/>
<circle cx="325.40" cy="154.61" r="0.85" fill="#7f7f7f"/>
<circle cx="328.51" cy="163.84" r="0.85" fill="#7f7f7f"/>
<circle cx="326.61" cy="164.77" r="0.85" fill="#7f7f7f"/>
<circle cx="328.68" cy="155.74" r="0.85" fill="#7f7f7f"/>
<circle cx="325.76" cy="163.13" r="0.85" fill="#7f7f7f"/>
<circle cx="328.85" cy="162.21" r="0.85" fill="#7f7f7f"/>
<circle cx="325.62" cy="162.10" r="0.85" fill="#7f7f7f"/>
<circle cx="328.02" cy="156.08" r="0.85" fill="#7f7f7f"/>
<circle cx="329.98" cy="151.15" r="0.85" fill="#7f7f7f"/>
<circle cx="327.32" cy="151.28" r="0.85" fill="#7f7f7f"/>
<circle cx="326.62" cy="153.98" r="0.85" fill="#7f7f7f"/>
<circle cx="327.12" cy="162.72" r="0.85" fill="#7f7f7f"/>
<circle cx="329.74" cy="150.74" r="0.85" fill="#7f7f7f"/>
<circle cx="326.92" cy="163.50" r="0.85" fill="#7f7f7f"/>
<circle cx="326.93" cy="162.11" r="0.85" fill="#7f7f7f"/>
<circle cx="327.05" cy="161.69" r="0.85" fill="#7f7f7f"/>
<circle cx="327.99" cy="164.01" r="0.85" fill="#7f7f7f"/>
<circle cx="327.86" cy="154.12" r="0.85" fill="#7f7f7f"/>
<circle cx="327.98" cy="153.19" r="0.85" fill="#7f7f7f"/>
<circle cx="329.02" cy="164.16" r="0.85" fill="#7f7f7f"/>
<circle cx="326.49" cy="152.10" r="0.85" fill="#7f7f7f"/>
<circle cx="327.73" cy="164.98" r="0.85" fill="#7f7f7f"/>
<circle cx="328.01" cy="159.31" r="0.85" fill="#7f7f7f"/>
<circle cx="328.45" cy="149.90" r="0.85" fill="#7f7f7f"/>
<circle cx="325.34" cy="153.95" r="0.85" fill="#7f7f7f"/>
<circle cx="329.18" cy="159.27" r="0.85" fill="#7f7f7f"/>
<circle cx="325.43" cy="164.76" r="0.85" fill="#7f7f7f"/>
<circle cx="329.77" cy="155.47" r="0.85" fill="#7f7f7f"/>
<circle cx="328.36" cy="164.76" r="0.85" fill="#7f7f7f"/>
<circle cx="328.95" cy="164.41" r="0.85" fill="#7f7f7f"/>
<circle cx="326.30" cy="157.33" r="0.85" fill="#7f7f7f"/>
<circle cx="329.06" cy="163.78" r="0.85" fill="#7f7f7f"/>
<circle cx="329.05" cy="159.71" r="0.85" fill="#7f7f7f"/>
<circle cx="326.79" cy="161.71" r="0.85" fill="#7f7f7f"/>
<circle cx="328.56" cy="149.85" r="0.85" fill="#7f7f7f"/>
<circle cx="327.85" cy="160.18" r="0.85" fill="#7f7f7f"/>
<circle cx="328.75" cy="155.83" r="0.85" fill="#7f7f7f"/>
<circle cx="327.18" cy="151.24" r="0.85" fill="#7f7f7f"/>
<circle cx="328.53" cy="153.43" r="0.85" fill="#7f7f7f"/>
<circle cx="329.27" cy="152.78" r="0.85" fill="#7f7f7f"/>
<circle cx="329.71" cy="153.25" r="0.85" fill="#7f7f7f"/>
<circle cx="328.39" cy="150.13" r="0.85" fill="#7f7f7f"/>
<circle cx="328.76" cy="159.67" r="0.85" fill="#7f7f7f"/>
<circle cx="327.23" cy="154.00" r="0.85" fill="#7f7f7f"/>
<circle cx="325.77" cy="161.33" r="0.85" fill="#7f7f7f"/>
<circle cx="330.25" cy="155.38" r="0.85" fill="#7f7f7f"/>
<circle cx="325.89" cy="161.97" r="0.85" fill="#7f7f7f"/>
<circle cx="327.25" cy="163.92" r="0.85" fill="#7f7f7f"/>
<circle cx="330.14" cy="163.03" r="0.85" fill="#7f7f7f"/>
<circle cx="326.63" cy="164.87" r="0.85" fill="#7f7f7f"/>
<circle cx="328.43" cy="164.60" r="0.85" fill="#7f7f7f"/>
<circle cx="325.95" cy="154.61" r="0.85" fill="#7f7f7f"/>
<circle cx="325.15" cy="148.03" r="0.75" fill="#7f7f7f"/>
<circle cx="325.72" cy="100.93" r="0.75" fill="#7f7f7f"/>
<circle cx="325.77" cy="148.97" r="0.75" fill="#7f7f7f"/>
<circle cx="325.74" cy="141.19" r="0.75" fill="#7f7f7f"/>
<circle cx="325.50" cy="140.30" r="0.75" fill="#7f7f7f"/>
<circle cx="325.14" cy="140.87" r="0.75" fill="#7f7f7f"/>
<circle cx="325.56" cy="142.74" r="0.75" fill="#7f7f7f"/>
<circle cx="325.81" cy="110.59" r="0.75" fill="#7f7f7f"/>
<circle cx="324.98" cy="136.42" r="0.75" fill="#7f7f7f"/>
<circle cx="325.41" cy="127.23" r="0.75" fill="#7f7f7f"/>
<circle cx="326.19" cy="139.05" r="0.75" fill="#7f7f7f"/>
<circle cx="325.10" cy="134.82" r="0.75" fill="#7f7f7f"/>
<circle cx="325.99" cy="123.31" r="0.75" fill="#7f7f7f"/>
<circle cx="325.49" cy="141.01" r="0.75" fill="#7f7f7f"/>
<circle cx="326.20" cy="148.50" r="0.75" fill="#7f7f7f"/>
<circle cx="325.40" cy="132.51" r="0.75" fill="#7f7f7f"/>
<circle cx="325.32" cy="124.47" r="0.75" fill="#7f7f7f"/>
<circle cx="325.57" cy="95.64" r="0.75" fill="#7f7f7f"/>
<circle cx="325.60" cy="116.74" r="0.75" fill="#7f7f7f"/>
<circle cx="325.65" cy="127.62" r="0.75" fill="#7f7f7f"/>
<circle cx="325.76" cy="133.24" r="0.75" fill="#7f7f7f"/>
<circle cx="325.07" cy="119.84" r="0.75" fill="#7f7f7f"/>
<circle cx="325.77" cy="144.02" r="0.75" fill="#7f7f7f"/>
<circle cx="325.86" cy="139.11" r="0.75" fill="#7f7f7f"/>
<circle cx="325.10" cy="103.51" r="0.75" fill="#7f7f7f"/>
<circle cx="325.55" cy="95.45" r="0.75" fill="#7f7f7f"/>
<circle cx="325.40" cy="138.75" r="0.75" fill="#7f7f7f"/>
<circle cx="325.56" cy="109.78" r="0.75" fill="#7f7f7f"/>
<circle cx="325.89" cy="149.98" r="0.75" fill="#7f7f7f"/>
<circle cx="324.99" cy="106.52" r="0.75" fill="#7f7f7f"/>
<circle cx="325.53" cy="147.25" r="0.75" fill="#7f7f7f"/>
<circle cx="326.15" cy="146.65" r="0.75" fill="#7f7f7f"/>
<circle cx="324.74" cy="127.20" r="0.75" fill="#7f7f7f"/>
<circle cx="325.77" cy="121.00" r="0.75" fill="#7f7f7f"/>
<circle cx="325.40" cy="104.28" r="0.75" fill="#7f7f7f"/>
<circle cx="326.18" cy="130.75" r="0.75" fill="#7f7f7f"/>
<circle cx="326.15" cy="100.45" r="0.75" fill="#7f7f7f"/>
<circle cx="325.95" cy="141.62" r="0.75" fill="#7f7f7f"/>
<circle cx="325.40" cy="123.55" r="0.75" fill="#7f7f7f"/>
<circle cx="325.57" cy="105.89" r="0.75" fill="#7f7f7f"/>
<circle cx="325.55" cy="136.44" r="0.75" fill="#7f7f7f"/>
<circle cx="325.73" cy="136.73" r="0.75" fill="#7f7f7f"/>
<circle cx="325.53" cy="127.93" r="0.75" fill="#7f7f7f"/>
<circle cx="325.28" cy="114.94" r="0.75" fill="#7f7f7f"/>
<circle cx="325.29" cy="146.29" r="0.75" fill="#7f7f7f"/>
<circle cx="325.84" cy="97.18" r="0.75" fill="#7f7f7f"/>
<circle cx="325.57" cy="106.04" r="0.75" fill="#7f7f7f"/>
<circle cx="325.55" cy="132.93" r="0.75" fill="#7f7f7f"/>
<circle cx="325.64" cy="113.53" r="0.75" fill="#7f7f7f"/>
<circle cx="326.05" cy="128.45" r="0.75" fill="#7f7f7f"/>
<circle cx="326.23" cy="149.77" r="0.75" fill="#7f7f7f"/>
<circle cx="325.57" cy="141.70" r="0.75" fill="#7f7f7f"/>
<circle cx="325.51" cy="119.24" r="0.75" fill="#7f7f7f"/>
<circle cx="325.93" cy="123.76" r="0.75" fill="#7f7f7f"/>
<circle cx="325.42" cy="137.12" r="0.75" fill="#7f7f7f"/>
<circle cx="325.90" cy="116.19" r="0.75" fill="#7f7f7f"/>
<circle cx="325.78" cy="139.26" r="0.75" fill="#7f7f7f"/>
<circle cx="326.14" cy="135.49" r="0.75" fill="#7f7f7f"/>
<circle cx="325.08" cy="98.61" r="0.75" fill="#7f7f7f"/>
<circle cx="325.38" cy="135.37" r="0.75" fill="#7f7f7f"/>
<circle cx="325.76" cy="106.22" r="0.75" fill="#7f7f7f"/>
<circle cx="325.71" cy="146.76" r="0.75" fill="#7f7f7f"/>
<circle cx="325.54" cy="115.52" r="0.75" fill="#7f7f7f"/>
<circle cx="325.39" cy="131.56" r="0.75" fill="#7f7f7f"/>
<circle cx="325.47" cy="105.58" r="0.75" fill="#7f7f7f"/>
<circle cx="325.52" cy="140.74" r="0.75" fill="#7f7f7f"/>
<circle cx="325.85" cy="144.03" r="0.75" fill="#7f7f7f"/>
<circle cx="325.85" cy="147.63" r="0.75" fill="#7f7f7f"/>
<circle cx="325.22" cy="100.20" r="0.75" fill="#7f7f7f"/>
<circle cx="325.79" cy="117.37" r="0.75" fill="#7f7f7f"/>
<circle cx="325.75" cy="110.00" r="0.75" fill="#7f7f7f"/>
<circle cx="325.29" cy="135.38" r="0.75" fill="#7f7f7f"/>
<circle cx="325.95" cy="131.01" r="0.75" fill="#7f7f7f"/>
<circle cx="325.63" cy="114.16" r="0.75" fill="#7f7f7f"/>
<circle cx="325.73" cy="96.19" r="0.75" fill="#7f7f7f"/>
<circle cx="325.10" cy="119.69" r="0.75" fill="#7f7f7f"/>
<circle cx="325.44" cy="149.54" r="0.75" fill="#7f7f7f"/>
<circle cx="325.88" cy="117.16" r="0.75" fill="#7f7f7f"/>
<circle cx="325.30" cy="146.27" r="0.75" fill="#7f7f7f"/>
<circle cx="325.89" cy="108.64" r="0.75" fill="#7f7f7f"/>
<circle cx="329.67" cy="115.70" r="0.70" fill="#7f7f7f"/>
<circle cx="329.69" cy="117.66" r="0.70" fill="#7f7f7f"/>
<circle cx="329.53" cy="113.14" r="0.70" fill="#7f7f7f"/>
<circle cx="329.72" cy="127.01" r="0.70" fill="#7f7f7f"/>
<circle cx="329.60" cy="141.62" r="0.70" fill="#7f7f7f"/>
<circle cx="328.94" cy="126.44" r="0.70" fill="#7f7f7f"/>
<circle cx="329.90" cy="119.40" r="0.70" fill="#7f7f7f"/>
<circle cx="329.63" cy="111.77" r="0.70" fill="#7f7f7f"/>
<circle cx="329.84" cy="122.46" r="0.70" fill="#7f7f7f"/>
<circle cx="329.92" cy="137.03" r="0.70" fill="#7f7f7f"/>
<circle cx="329.71" cy="124.26" r="0.70" fill="#7f7f7f"/>
<circle cx="329.55" cy="112.29" r="0.70" fill="#7f7f7f"/>
<circle cx="329.65" cy="132.29" r="0.70" fill="#7f7f7f"/>
<circle cx="329.84" cy="110.85" r="0.70" fill="#7f7f7f"/>
<circle cx="330.11" cy="141.91" r="0.70" fill="#7f7f7f"/>
<circle cx="329.59" cy="124.82" r="0.70" fill="#7f7f7f"/>
<circle cx="329.74" cy="124.83" r="0.70" fill="#7f7f7f"/>
<circle cx="330.45" cy="110.25" r="0.70" fill="#7f7f7f"/>
<circle cx="329.68" cy="115.95" r="0.70" fill="#7f7f7f"/>
<circle cx="329.71" cy="115.72" r="0.70" fill="#7f7f7f"/>
<circle cx="329.98" cy="135.20" r="0.70" fill="#7f7f7f"/>
<circle cx="329.67" cy="124.36" r="0.70" fill="#7f7f7f"/>
<circle cx="329.95" cy="115.51" r="0.70" fill="#7f7f7f"/>
<circle cx="330.15" cy="144.90" r="0.70" fill="#7f7f7f"/>
<circle cx="330.18" cy="147.45" r="0.70" fill="#7f7f7f"/>
<circle cx="330.51" cy="165.32" r="0.85" fill="#7f7f7f"/>
<circle cx="330.75" cy="163.42" r="0.85" fill="#7f7f7f"/>
<circle cx="325.25" cy="164.71" r="0.85" fill="#7f7f7f"/>
<circle cx="333.27" cy="164.28" r="0.85" fill="#7f7f7f"/>
<circle cx="321.79" cy="162.55" r="0.85" fill="#7f7f7f"/>
<circle cx="320.72" cy="163.90" r="0.85" fill="#7f7f7f"/>
<circle cx="328.82" cy="163.66" r="0.85" fill="#7f7f7f"/>
<circle cx="327.88" cy="163.02" r="0.85" fill="#7f7f7f"/>
<circle cx="328.79" cy="163.29" r="0.85" fill="#7f7f7f"/>
<circle cx="330.19" cy="163.50" r="0.85" fill="#7f7f7f"/>
<circle cx="330.75" cy="162.61" r="0.85" fill="#7f7f7f"/>
<circle cx="336.23" cy="162.93" r="0.85" fill="#7f7f7f"/>
<circle cx="326.93" cy="164.30" r="0.85" fill="#7f7f7f"/>
<circle cx="329.85" cy="163.73" r="0.85" fill="#7f7f7f"/>
<circle cx="332.40" cy="164.57" r="0.85" fill="#7f7f7f"/>
<circle cx="327.23" cy="164.76" r="0.85" fill="#7f7f7f"/>
<circle cx="333.93" cy="165.48" r="0.85" fill="#7f7f7f"/>
<circle cx="325.77" cy="165.07" r="0.85" fill="#7f7f7f"/>
<circle cx="328.75" cy="163.80" r="0.85" fill="#7f7f7f"/>
<circle cx="327.99" cy="165.22" r="0.85" fill="#7f7f7f"/>
<circle cx="326.21" cy="164.08" r="0.85" fill="#7f7f7f"/>
<circle cx="324.09" cy="165.21" r="0.85" fill="#7f7f7f"/>
<circle cx="331.79" cy="162.66" r="0.85" fill="#7f7f7f"/>
<circle cx="331.91" cy="165.20" r="0.85" fill="#7f7f7f"/>
<circle cx="332.29" cy="164.29" r="0.85" fill="#7f7f7f"/>
<circle cx="329.28" cy="163.41" r="0.85" fill="#7f7f7f"/>
<circle cx="320.36" cy="162.71" r="0.85" fill="#7f7f7f"/>
<circle cx="327.55" cy="163.84" r="0.85" fill="#7f7f7f"/>
<circle cx="318.99" cy="163.69" r="0.85" fill="#7f7f7f"/>
<circle cx="328.00" cy="164.58" r="0.85" fill="#7f7f7f"/>
<circle cx="323.82" cy="163.22" r="0.85" fill="#7f7f7f"/>
<circle cx="322.48" cy="163.69" r="0.85" fill="#7f7f7f"/>
<circle cx="335.31" cy="162.71" r="0.85" fill="#7f7f7f"/>
<circle cx="330.65" cy="165.40" r="0.85" fill="#7f7f7f"/>
<circle cx="326.01" cy="165.10" r="0.85" fill="#7f7f7f"/>
<circle cx="322.21" cy="164.92" r="0.85" fill="#7f7f7f"/>
<circle cx="328.77" cy="164.74" r="0.85" fill="#7f7f7f"/>
<circle cx="319.87" cy="165.21" r="0.85" fill="#7f7f7f"/>
<circle cx="320.35" cy="164.88" r="0.85" fill="#7f7f7f"/>
<circle cx="336.07" cy="164.11" r="0.85" fill="#7f7f7f"/>
<circle cx="322.82" cy="164.30" r="1.05" fill="#1f1fff"/>
<circle cx="322.67" cy="158.41" r="1.05" fill="#1f1fff"/>
<circle cx="317.93" cy="163.74" r="1.05" fill="#1f1fff"/>
<circle cx="323.93" cy="137.79" r="1.05" fill="#1f1fff"/>
<circle cx="321.29" cy="156.64" r="1.05" fill="#1f1fff"/>
<circle cx="324.46" cy="163.95" r="1.05" fill="#1f1fff"/>
<circle cx="324.30" cy="133.64" r="1.05" fill="#1f1fff"/>
<circle cx="320.33" cy="151.63" r="1.05" fill="#1f1fff"/>
<circle cx="324.33" cy="129.52" r="1.05" fill="#1f1fff"/>
<circle cx="322.67" cy="160.92" r="1.05" fill="#1f1fff"/>
<circle cx="323.70" cy="132.40" r="1.05" fill="#1f1fff"/>
<circle cx="318.90" cy="161.19" r="1.05" fill="#1f1fff"/>
<circle cx="321.94" cy="156.71" r="1.05" fill="#1f1fff"/>
<circle cx="318.49" cy="161.73" r="1.05" fill="#1f1fff"/>
<circle cx="324.56" cy="128.55" r="1.05" fill="#1f1fff"/>
<circle cx="324.03" cy="146.20" r="1.05" fill="#1f1fff"/>
<circle cx="324.63" cy="134.57" r="1.05" fill="#1f1fff"/>
<circle cx="319.34" cy="163.06" r="1.05" fill="#1f1fff"/>
<circle cx="319.16" cy="158.00" r="1.05" fill="#1f1fff"/>
<circle cx="323.63" cy="135.11" r="1.05" fill="#1f1fff"/>
<circle cx="319.65" cy="162.52" r="1.05" fill="#1f1fff"/>
<circle cx="324.25" cy="131.61" r="1.05" fill="#1f1fff"/>
<circle cx="323.03" cy="163.50" r="1.05" fill="#1f1fff"/>
<circle cx="320.30" cy="158.17" r="1.05" fill="#1f1fff"/>
<circle cx="323.45" cy="161.17" r="1.05" fill="#1f1fff"/>
<circle cx="320.26" cy="160.19" r="1.05" fill="#1f1fff"/>
<circle cx="323.90" cy="139.00" r="1.05" fill="#1f1fff"/>
<circle cx="321.82" cy="144.91" r="1.05" fill="#1f1fff"/>
<circle cx="323.81" cy="147.99" r="1.05" fill="#1f1fff"/>
<circle cx="318.92" cy="158.36" r="1.05" fill="#1f1fff"/>
<circle cx="323.81" cy="144.69" r="1.05" fill="#1f1fff"/>
<circle cx="324.39" cy="145.87" r="1.05" fill="#1f1fff"/>
<circle cx="324.37" cy="129.21" r="1.05" fill="#1f1fff"/>
<circle cx="322.35" cy="150.48" r="1.05" fill="#1f1fff"/>
<circle cx="320.13" cy="163.95" r="1.05" fill="#1f1fff"/>
<circle cx="323.11" cy="158.84" r="1.05" fill="#1f1fff"/>
<circle cx="324.52" cy="138.38" r="1.05" fill="#1f1fff"/>
<circle cx="319.90" cy="158.82" r="1.05" fill="#1f1fff"/>
<circle cx="322.85" cy="159.91" r="1.05" fill="#1f1fff"/>
<circle cx="323.91" cy="149.69" r="1.05" fill="#1f1fff"/>
<circle cx="323.42" cy="133.71" r="1.05" fill="#1f1fff"/>
<circle cx="321.17" cy="164.08" r="1.05" fill="#1f1fff"/>
<circle cx="323.74" cy="140.89" r="1.05" fill="#1f1fff"/>
<circle cx="324.17" cy="132.05" r="1.05" fill="#1f1fff"/>
<circle cx="320.80" cy="161.55" r="1.05" fill="#1f1fff"/>
<circle cx="323.47" cy="145.65" r="1.05" fill="#1f1fff"/>
<circle cx="322.12" cy="145.07" r="1.05" fill="#1f1fff"/>
<circle cx="322.41" cy="150.93" r="1.05" fill="#1f1fff"/>
<circle cx="323.54" cy="136.32" r="1.05" fill="#1f1fff"/>
<circle cx="320.42" cy="150.78" r="1.05" fill="#1f1fff"/>
<circle cx="319.21" cy="161.69" r="1.05" fill="#1f1fff"/>
<circle cx="320.39" cy="161.88" r="1.05" fill="#1f1fff"/>
<circle cx="321.76" cy="160.19" r="1.05" fill="#1f1fff"/>
<circle cx="322.90" cy="139.83" r="1.05" fill="#1f1fff"/>
<circle cx="324.20" cy="138.97" r="1.05" fill="#1f1fff"/>
<circle cx="323.65" cy="151.99" r="1.05" fill="#1f1fff"/>
<circle cx="322.71" cy="148.39" r="1.05" fill="#1f1fff"/>
<circle cx="320.14" cy="164.06" r="1.05" fill="#1f1fff"/>
<circle cx="323.10" cy="142.55" r="1.05" fill="#1f1fff"/>
<circle cx="324.43" cy="134.94" r="1.05" fill="#1f1fff"/>
<circle cx="324.57" cy="162.17" r="1.05" fill="#1f1fff"/>
<circle cx="322.66" cy="151.72" r="1.05" fill="#1f1fff"/>
<circle cx="323.34" cy="153.73" r="1.05" fill="#1f1fff"/>
<circle cx="324.55" cy="138.61" r="1.05" fill="#1f1fff"/>
<circle cx="324.00" cy="133.19" r="1.05" fill="#1f1fff"/>
<circle cx="321.30" cy="149.89" r="1.05" fill="#1f1fff"/>
<circle cx="323.73" cy="160.12" r="1.05" fill="#1f1fff"/>
<circle cx="324.44" cy="158.06" r="1.05" fill="#1f1fff"/>
<circle cx="320.89" cy="157.95" r="1.05" fill="#1f1fff"/>
<circle cx="323.52" cy="150.59" r="1.05" fill="#1f1fff"/>
<circle cx="324.35" cy="148.04" r="1.05" fill="#1f1fff"/>
<circle cx="324.37" cy="137.54" r="1.05" fill="#1f1fff"/>
<circle cx="323.65" cy="159.67" r="1.05" fill="#1f1fff"/>
<circle cx="322.20" cy="143.64" r="1.05" fill="#1f1fff"/>
<circle cx="324.57" cy="139.18" r="1.05" fill="#1f1fff"/>
<circle cx="322.73" cy="154.83" r="1.05" fill="#1f1fff"/>
<circle cx="318.10" cy="160.68" r="1.05" fill="#1f1fff"/>
<circle cx="320.97" cy="163.99" r="1.05" fill="#1f1fff"/>
<circle cx="322.34" cy="140.39" r="1.05" fill="#1f1fff"/>
<circle cx="321.42" cy="162.32" r="1.05" fill="#1f1fff"/>
<circle cx="324.60" cy="141.15" r="1.05" fill="#1f1fff"/>
<circle cx="318.78" cy="160.05" r="1.05" fill="#1f1fff"/>
<circle cx="321.86" cy="162.38" r="1.05" fill="#1f1fff"/>
<circle cx="322.04" cy="158.44" r="1.05" fill="#1f1fff"/>
<circle cx="324.44" cy="163.54" r="1.05" fill="#1f1fff"/>
<circle cx="324.16" cy="128.51" r="1.05" fill="#1f1fff"/>
<circle cx="324.10" cy="141.66" r="1.05" fill="#1f1fff"/>
<circle cx="321.08" cy="159.71" r="1.05" fill="#1f1fff"/>
<circle cx="321.64" cy="160.02" r="1.05" fill="#1f1fff"/>
<circle cx="324.32" cy="131.89" r="1.05" fill="#1f1fff"/>
<circle cx="318.84" cy="157.26" r="1.05" fill="#1f1fff"/>
<circle cx="324.55" cy="147.11" r="1.05" fill="#1f1fff"/>
<circle cx="321.15" cy="155.09" r="1.05" fill="#1f1fff"/>
<circle cx="322.10" cy="163.79" r="1.05" fill="#1f1fff"/>
<circle cx="322.13" cy="143.46" r="1.05" fill="#1f1fff"/>
<circle cx="321.25" cy="147.96" r="1.05" fill="#1f1fff"/>
<circle cx="322.74" cy="152.97" r="1.05" fill="#1f1fff"/>
<circle cx="324.05" cy="136.43" r="1.05" fill="#1f1fff"/>
<circle cx="324.22" cy="139.44" r="1.05" fill="#1f1fff"/>
<circle cx="323.62" cy="156.93" r="1.05" fill="#1f1fff"/>
<circle cx="324.00" cy="149.63" r="1.05" fill="#1f1fff"/>
<circle cx="323.23" cy="160.99" r="1.05" fill="#1f1fff"/>
<circle cx="323.18" cy="152.78" r="1.05" fill="#1f1fff"/>
<circle cx="319.62" cy="153.54" r="1.05" fill="#1f1fff"/>
<circle cx="322.02" cy="144.15" r="1.05" fill="#1f1fff"/>
<circle cx="322.07" cy="160.97" r="1.05" fill="#1f1fff"/>
<circle cx="319.50" cy="163.59" r="1.05" fill="#1f1fff"/>
<circle cx="323.11" cy="156.43" r="1.05" fill="#1f1fff"/>
<circle cx="323.30" cy="164.21" r="1.05" fill="#1f1fff"/>
<circle cx="322.14" cy="159.46" r="1.05" fill="#1f1fff"/>
<circle cx="323.91" cy="132.35" r="1.05" fill="#1f1fff"/>
<circle cx="322.37" cy="159.29" r="1.05" fill="#1f1fff"/>
<circle cx="318.00" cy="162.13" r="1.05" fill="#1f1fff"/>
<circle cx="320.26" cy="156.53" r="1.05" fill="#1f1fff"/>
<circle cx="322.23" cy="142.15" r="1.05" fill="#1f1fff"/>
<circle cx="322.23" cy="164.20" r="1.05" fill="#1f1fff"/>
<circle cx="324.23" cy="155.72" r="1.05" fill="#1f1fff"/>
<circle cx="324.24" cy="134.46" r="1.05" fill="#1f1fff"/>
<circle cx="323.50" cy="139.94" r="1.05" fill="#1f1fff"/>
<circle cx="321.71" cy="163.84" r="1.05" fill="#1f1fff"/>
<circle cx="324.43" cy="160.11" r="1.05" fill="#1f1fff"/>
<circle cx="320.43" cy="162.19" r="1.05" fill="#1f1fff"/>
<circle cx="322.31" cy="164.10" r="1.05" fill="#1f1fff"/>
<circle cx="321.82" cy="154.36" r="1.05" fill="#1f1fff"/>
<circle cx="319.58" cy="162.49" r="1.05" fill="#1f1fff"/>
<circle cx="319.97" cy="159.52" r="1.05" fill="#1f1fff"/>
<circle cx="324.23" cy="144.73" r="1.05" fill="#1f1fff"/>
<circle cx="322.77" cy="160.96" r="1.05" fill="#1f1fff"/>
<circle cx="323.56" cy="142.64" r="1.05" fill="#1f1fff"/>
<circle cx="319.85" cy="155.65" r="1.05" fill="#1f1fff"/>
<circle cx="323.00" cy="29.40" r="1.10" fill="#1f1fff"/>
<circle cx="322.20" cy="46.10" r="1.10" fill="#1f1fff"/>
<circle cx="324.50" cy="66.90" r="1.10" fill="#1f1fff"/>
<circle cx="324.70" cy="71.10" r="1.10" fill="#1f1fff"/>
<circle cx="324.00" cy="74.10" r="1.10" fill="#1f1fff"/>
<circle cx="324.70" cy="80.90" r="1.10" fill="#1f1fff"/>
<circle cx="321.10" cy="95.00" r="1.10" fill="#1f1fff"/>
<circle cx="325.00" cy="95.00" r="1.10" fill="#1f1fff"/>
<circle cx="324.80" cy="100.00" r="1.10" fill="#1f1fff"/>
<circle cx="323.60" cy="104.60" r="1.10" fill="#1f1fff"/>
<circle cx="325.00" cy="112.10" r="1.10" fill="#1f1fff"/>
<circle cx="324.90" cy="122.30" r="1.10" fill="#1f1fff"/>
<circle cx="325.20" cy="126.10" r="1.10" fill="#1f1fff"/>
<circle cx="316.10" cy="159.30" r="1.10" fill="#1f1fff"/>
<circle cx="317.00" cy="155.50" r="1.10" fill="#1f1fff"/>
<circle cx="331.57" cy="162.61" r="1.05" fill="#ff1f1f"/>
<circle cx="331.25" cy="161.55" r="1.05" fill="#ff1f1f"/>
<circle cx="330.64" cy="164.00" r="1.05" fill="#ff1f1f"/>
<circle cx="332.89" cy="158.74" r="1.05" fill="#ff1f1f"/>
<circle cx="335.25" cy="156.84" r="1.05" fill="#ff1f1f"/>
<circle cx="333.45" cy="161.98" r="1.05" fill="#ff1f1f"/>
<circle cx="331.26" cy="155.61" r="1.05" fill="#ff1f1f"/>
<circle cx="333.43" cy="158.12" r="1.05" fill="#ff1f1f"/>
<circle cx="334.60" cy="155.21" r="1.05" fill="#ff1f1f"/>
<circle cx="333.25" cy="162.53" r="1.05" fill="#ff1f1f"/>
<circle cx="332.19" cy="163.67" r="1.05" fill="#ff1f1f"/>
<circle cx="330.72" cy="161.11" r="1.05" fill="#ff1f1f"/>
<circle cx="331.73" cy="161.19" r="1.05" fill="#ff1f1f"/>
<circle cx="331.52" cy="160.09" r="1.05" fill="#ff1f1f"/>
<circle cx="332.07" cy="163.16" r="1.05" fill="#ff1f1f"/>
<circle cx="331.07" cy="160.31" r="1.05" fill="#ff1f1f"/>
<circle cx="331.35" cy="158.38" r="1.05" fill="#ff1f1f"/>
<circle cx="331.79" cy="163.65" r="1.05" fill="#ff1f1f"/>
<circle cx="331.01" cy="160.82" r="1.05" fill="#ff1f1f"/>
<circle cx="333.63" cy="159.23" r="1.05" fill="#ff1f1f"/>
<circle cx="333.62" cy="159.53" r="1.05" fill="#ff1f1f"/>
<circle cx="332.02" cy="164.10" r="1.05" fill="#ff1f1f"/>
<circle cx="330.73" cy="161.37" r="1.05" fill="#ff1f1f"/>
<circle cx="330.71" cy="160.99" r="1.05" fill="#ff1f1f"/>
<circle cx="333.00" cy="160.11" r="1.05" fill="#ff1f1f"/>
<circle cx="331.72" cy="160.37" r="1.05" fill="#ff1f1f"/>
<circle cx="330.64" cy="162.37" r="1.05" fill="#ff1f1f"/>
<circle cx="334.74" cy="161.53" r="1.05" fill="#ff1f1f"/>
<circle cx="331.44" cy="159.40" r="1.05" fill="#ff1f1f"/>
<circle cx="331.14" cy="158.35" r="1.05" fill="#ff1f1f"/>
<circle cx="333.15" cy="160.37" r="1.05" fill="#ff1f1f"/>
<circle cx="331.88" cy="155.21" r="1.05" fill="#ff1f1f"/>
<circle cx="335.04" cy="159.30" r="1.05" fill="#ff1f1f"/>
<circle cx="333.22" cy="157.24" r="1.05" fill="#ff1f1f"/>
<circle cx="332.11" cy="158.84" r="1.05" fill="#ff1f1f"/>
<circle cx="331.50" cy="160.89" r="1.05" fill="#ff1f1f"/>
<circle cx="334.66" cy="156.61" r="1.05" fill="#ff1f1f"/>
<circle cx="334.84" cy="161.21" r="1.05" fill="#ff1f1f"/>
<circle cx="330.96" cy="164.01" r="1.05" fill="#ff1f1f"/>
<circle cx="331.64" cy="159.99" r="1.05" fill="#ff1f1f"/>
<circle cx="335.26" cy="161.41" r="1.05" fill="#ff1f1f"/>
<circle cx="331.16" cy="163.23" r="1.05" fill="#ff1f1f"/>
<circle cx="333.51" cy="162.58" r="1.05" fill="#ff1f1f"/>
<circle cx="330.60" cy="162.53" r="1.05" fill="#ff1f1f"/>
<circle cx="332.03" cy="159.63" r="1.05" fill="#ff1f1f"/>
<circle cx="332.52" cy="162.49" r="1.05" fill="#ff1f1f"/>
<circle cx="332.80" cy="158.53" r="1.05" fill="#ff1f1f"/>
<circle cx="332.86" cy="158.80" r="1.05" fill="#ff1f1f"/>
<circle cx="335.21" cy="156.59" r="1.05" fill="#ff1f1f"/>
<circle cx="331.81" cy="161.66" r="1.05" fill="#ff1f1f"/>
<circle cx="331.66" cy="155.98" r="1.05" fill="#ff1f1f"/>
<circle cx="333.59" cy="157.84" r="1.05" fill="#ff1f1f"/>
<circle cx="335.18" cy="158.15" r="1.05" fill="#ff1f1f"/>
<circle cx="331.04" cy="156.67" r="1.05" fill="#ff1f1f"/>
<circle cx="332.50" cy="158.83" r="1.05" fill="#ff1f1f"/>
<circle cx="331.80" cy="86.70" r="1.10" fill="#ff1f1f"/>
<circle cx="331.40" cy="89.20" r="1.10" fill="#ff1f1f"/>
<circle cx="331.10" cy="99.80" r="1.10" fill="#ff1f1f"/>
<circle cx="331.30" cy="105.30" r="1.10" fill="#ff1f1f"/>
<circle cx="331.80" cy="120.70" r="1.10" fill="#ff1f1f"/>
<circle cx="331.20" cy="135.60" r="1.10" fill="#ff1f1f"/>
<circle cx="331.00" cy="145.60" r="1.10" fill="#ff1f1f"/>
<circle cx="331.30" cy="148.00" r="1.10" fill="#ff1f1f"/>
<circle cx="337.50" cy="157.20" r="1.10" fill="#ff1f1f"/>
<circle cx="341.80" cy="160.90" r="1.10" fill="#ff1f1f"/>
<line x1="268.40" y1="162.40" x2="387.40" y2="162.40" stroke="#111" stroke-width="0.8" stroke-dasharray="1.8 1.7"/>
<line x1="325.30" y1="22.60" x2="325.30" y2="169.60" stroke="#777" stroke-width="0.7" stroke-dasharray="1.8 1.7"/>
<line x1="330.50" y1="22.60" x2="330.50" y2="169.60" stroke="#111" stroke-width="0.8" stroke-dasharray="1.8 1.7"/>
<circle cx="396.00" cy="94.30" r="1.30" fill="#ff2020"/>
<circle cx="396.00" cy="100.30" r="1.30" fill="#2020ff"/>
<text x="401.00" y="95.80" font-size="3.8" fill="#333">up: 17</text>
<text x="401.00" y="101.80" font-size="3.8" fill="#333">down: 18</text>
<text x="200.90" y="197.40" font-size="19" font-weight="bold" fill="#000">C</text>
<line x1="273.80" y1="203.30" x2="396.80" y2="203.30" stroke="#999" stroke-width="0.9"/>
<line x1="273.60" y1="203.30" x2="273.60" y2="317.50" stroke="#e4e4e4" stroke-width="0.6"/>
<rect x="279.10" y="205.10" width="40.80" height="5.50" fill="#2fa0b1"/>
<text x="320.80" y="208.60" font-size="2.3" fill="#888">8</text>
<line x1="272.20" y1="207.85" x2="273.60" y2="207.85" stroke="#666" stroke-width="0.4"/>
<text x="271.80" y="209.30" font-size="2.6" text-anchor="end" textLength="30.1" lengthAdjust="spacingAndGlyphs" fill="#2fa0b1">lipid transporter activity</text>
<rect x="279.10" y="212.60" width="35.70" height="5.50" fill="#2fa0b1"/>
<text x="315.70" y="216.10" font-size="2.3" fill="#888">7</text>
<line x1="272.20" y1="215.35" x2="273.60" y2="215.35" stroke="#666" stroke-width="0.4"/>
<text x="271.80" y="214.90" font-size="2.5" text-anchor="end" textLength="55.3" lengthAdjust="spacingAndGlyphs" fill="#2fa0b1">oxidoreductase activity, acting on paired donors, with incorporation</text>
<text x="271.80" y="217.50" font-size="2.5" text-anchor="end" textLength="24" lengthAdjust="spacingAndGlyphs" fill="#2fa0b1">of molecular oxygen</text>
<rect x="279.10" y="220.10" width="30.60" height="5.50" fill="#2fa0b1"/>
<text x="310.60" y="223.60" font-size="2.3" fill="#888">6</text>
<line x1="272.20" y1="222.85" x2="273.60" y2="222.85" stroke="#666" stroke-width="0.4"/>
<text x="271.80" y="222.40" font-size="2.5" text-anchor="end" textLength="61.9" lengthAdjust="spacingAndGlyphs" fill="#2fa0b1">hydrolase activity, acting on carbon-nitrogen (but not peptide) bonds,</text>
<text x="271.80" y="225.00" font-size="2.5" text-anchor="end" textLength="8.6" lengthAdjust="spacingAndGlyphs" fill="#2fa0b1">activity</text>
<rect x="279.10" y="227.60" width="20.40" height="5.50" fill="#2fa0b1"/>
<text x="300.40" y="231.10" font-size="2.3" fill="#888">4</text>
<line x1="272.20" y1="230.35" x2="273.60" y2="230.35" stroke="#666" stroke-width="0.4"/>
<text x="271.80" y="231.80" font-size="2.6" text-anchor="end" textLength="56.5" lengthAdjust="spacingAndGlyphs" fill="#2fa0b1">phosphoric diester hydrolase activity, acting on ester</text>
<rect x="279.10" y="235.10" width="20.40" height="5.50" fill="#2fa0b1"/>
<text x="300.40" y="238.60" font-size="2.3" fill="#888">4</text>
<line x1="272.20" y1="237.85" x2="273.60" y2="237.85" stroke="#666" stroke-width="0.4"/>
<text x="271.80" y="237.40" font-size="2.5" text-anchor="end" textLength="56" lengthAdjust="spacingAndGlyphs" fill="#2fa0b1">oxidoreductase activity, acting on the CH-CH group of donors,</text>
<text x="271.80" y="240.00" font-size="2.5" text-anchor="end" textLength="55.3" lengthAdjust="spacingAndGlyphs" fill="#2fa0b1">NAD or NADP as acceptor, with reductase</text>
<rect x="279.10" y="242.60" width="71.40" height="5.50" fill="#cf4235"/>
<text x="351.40" y="246.10" font-size="2.3" fill="#888">14</text>
<line x1="272.20" y1="245.35" x2="273.60" y2="245.35" stroke="#666" stroke-width="0.4"/>
<text x="271.80" y="246.80" font-size="2.6" text-anchor="end" textLength="20.6" lengthAdjust="spacingAndGlyphs" fill="#cf4235">basal part of cell</text>
<rect x="279.10" y="250.10" width="61.20" height="5.50" fill="#cf4235"/>
<text x="341.20" y="253.60" font-size="2.3" fill="#888">12</text>
<line x1="272.20" y1="252.85" x2="273.60" y2="252.85" stroke="#666" stroke-width="0.4"/>
<text x="271.80" y="254.30" font-size="2.6" text-anchor="end" textLength="31.2" lengthAdjust="spacingAndGlyphs" fill="#cf4235">basal plasma membrane</text>
<rect x="279.10" y="257.60" width="56.10" height="5.50" fill="#cf4235"/>
<text x="336.10" y="261.10" font-size="2.3" fill="#888">11</text>
<line x1="272.20" y1="260.35" x2="273.60" y2="260.35" stroke="#666" stroke-width="0.4"/>
<text x="271.80" y="261.80" font-size="2.6" text-anchor="end" textLength="38.9" lengthAdjust="spacingAndGlyphs" fill="#cf4235">basolateral plasma membrane</text>
<rect x="279.10" y="265.10" width="35.70" height="5.50" fill="#cf4235"/>
<text x="315.70" y="268.60" font-size="2.3" fill="#888">7</text>
<line x1="272.20" y1="267.85" x2="273.60" y2="267.85" stroke="#666" stroke-width="0.4"/>
<text x="271.80" y="269.30" font-size="2.6" text-anchor="end" textLength="12.9" lengthAdjust="spacingAndGlyphs" fill="#cf4235">microvillus</text>
<rect x="279.10" y="272.60" width="30.60" height="5.50" fill="#cf4235"/>
<text x="310.60" y="276.10" font-size="2.3" fill="#888">6</text>
<line x1="272.20" y1="275.35" x2="273.60" y2="275.35" stroke="#666" stroke-width="0.4"/>
<text x="271.80" y="276.80" font-size="2.6" text-anchor="end" textLength="14.9" lengthAdjust="spacingAndGlyphs" fill="#cf4235">Golgi lumen</text>
<rect x="279.10" y="280.10" width="102.00" height="5.50" fill="#fb8b30"/>
<text x="382.00" y="283.60" font-size="2.3" fill="#888">20</text>
<line x1="272.20" y1="282.85" x2="273.60" y2="282.85" stroke="#666" stroke-width="0.4"/>
<text x="271.80" y="284.30" font-size="2.6" text-anchor="end" textLength="32.8" lengthAdjust="spacingAndGlyphs" fill="#fb8b30">alcohol metabolic process</text>
<rect x="279.10" y="287.60" width="102.00" height="5.50" fill="#fb8b30"/>
<text x="382.00" y="291.10" font-size="2.3" fill="#888">20</text>
<line x1="272.20" y1="290.35" x2="273.60" y2="290.35" stroke="#666" stroke-width="0.4"/>
<text x="271.80" y="291.80" font-size="2.6" text-anchor="end" textLength="32.4" lengthAdjust="spacingAndGlyphs" fill="#fb8b30">sterol metabolic process</text>
<rect x="279.10" y="295.10" width="71.40" height="5.50" fill="#fb8b30"/>
<text x="351.40" y="298.60" font-size="2.3" fill="#888">14</text>
<line x1="272.20" y1="297.85" x2="273.60" y2="297.85" stroke="#666" stroke-width="0.4"/>
<text x="271.80" y="299.30" font-size="2.6" text-anchor="end" textLength="31" lengthAdjust="spacingAndGlyphs" fill="#fb8b30">steroid metabolic process</text>
<rect x="279.10" y="302.60" width="71.40" height="5.50" fill="#fb8b30"/>
<text x="351.40" y="306.10" font-size="2.3" fill="#888">14</text>
<line x1="272.20" y1="305.35" x2="273.60" y2="305.35" stroke="#666" stroke-width="0.4"/>
<text x="271.80" y="306.80" font-size="2.6" text-anchor="end" textLength="47.4" lengthAdjust="spacingAndGlyphs" fill="#fb8b30">secondary alcohol metabolic process</text>
<rect x="279.10" y="310.10" width="71.40" height="5.50" fill="#fb8b30"/>
<text x="351.40" y="313.60" font-size="2.3" fill="#888">14</text>
<line x1="272.20" y1="312.85" x2="273.60" y2="312.85" stroke="#666" stroke-width="0.4"/>
<text x="271.80" y="314.30" font-size="2.6" text-anchor="end" textLength="37.7" lengthAdjust="spacingAndGlyphs" fill="#fb8b30">cholesterol metabolic process</text>
<text x="278.50" y="320.80" font-size="3.4" text-anchor="middle" fill="#444">0</text>
<text x="304.00" y="320.80" font-size="3.4" text-anchor="middle" fill="#444">5</text>
<text x="329.50" y="320.80" font-size="3.4" text-anchor="middle" fill="#444">10</text>
<text x="355.00" y="320.80" font-size="3.4" text-anchor="middle" fill="#444">15</text>
<text x="380.50" y="320.80" font-size="3.4" text-anchor="middle" fill="#444">20</text>
<text x="333.90" y="324.60" font-size="4.0" font-weight="bold" text-anchor="middle" fill="#222">Count</text>
<rect x="216.5" y="280.6" width="57.3" height="36.7" rx="1.2" fill="none" stroke="#e23a3a" stroke-width="0.9"/>
<text x="399.00" y="255.60" font-size="3.0" fill="#333">class</text>
<rect x="399.00" y="256.90" width="3.90" height="3.60" fill="#fb8b30"/>
<rect x="399.00" y="260.70" width="3.90" height="3.60" fill="#cf4235"/>
<rect x="399.00" y="264.50" width="3.90" height="3.60" fill="#2fa0b1"/>
<text x="404.20" y="259.80" font-size="2.8" fill="#333">BP</text>
<text x="404.20" y="263.60" font-size="2.8" fill="#333">CC</text>
<text x="404.20" y="267.40" font-size="2.8" fill="#333">MF</text>
<text x="426.00" y="13.30" font-size="19" font-weight="bold" fill="#000">D</text>
<text x="536.10" y="22.90" font-size="4.8" textLength="66.9" lengthAdjust="spacingAndGlyphs" fill="#222">Control-vs-Case diffmRNA all</text>
<line x1="536.10" y1="26.30" x2="652.70" y2="26.30" stroke="#c8c8c8" stroke-width="0.8"/>
<line x1="652.70" y1="26.30" x2="652.70" y2="288.20" stroke="#c8c8c8" stroke-width="0.8"/>
<line x1="536.10" y1="26.30" x2="536.10" y2="288.20" stroke="#bdbdbd" stroke-width="0.8"/>
<line x1="536.10" y1="288.20" x2="652.70" y2="288.20" stroke="#555" stroke-width="0.8"/>
<line x1="534.40" y1="33.70" x2="536.10" y2="33.70" stroke="#555" stroke-width="0.5"/>
<text x="533.80" y="35.40" font-size="4.78" text-anchor="end" fill="#3a3a3a">Wnt signaling pathway</text>
<circle cx="601.80" cy="33.70" r="2.20" fill="#6656e6"/>
<line x1="534.40" y1="46.70" x2="536.10" y2="46.70" stroke="#555" stroke-width="0.5"/>
<text x="533.80" y="48.40" font-size="4.78" text-anchor="end" fill="#3a3a3a">Virion - Ebolavirus, Lyssavirus and Morbillivirus</text>
<circle cx="541.50" cy="46.70" r="0.60" fill="#55e055"/>
<line x1="534.40" y1="59.70" x2="536.10" y2="59.70" stroke="#555" stroke-width="0.5"/>
<text x="533.80" y="61.40" font-size="4.78" text-anchor="end" fill="#3a3a3a">Type II diabetes mellitus</text>
<circle cx="556.20" cy="59.70" r="1.20" fill="#8a9cba"/>
<line x1="534.40" y1="72.70" x2="536.10" y2="72.70" stroke="#555" stroke-width="0.5"/>
<text x="533.80" y="74.40" font-size="4.78" text-anchor="end" fill="#3a3a3a">Transcriptional misregulation in cancer</text>
<circle cx="617.30" cy="72.70" r="2.50" fill="#94a6ba"/>
<line x1="534.40" y1="85.70" x2="536.10" y2="85.70" stroke="#555" stroke-width="0.5"/>
<text x="533.80" y="87.40" font-size="4.78" text-anchor="end" fill="#3a3a3a">Terpenoid backbone biosynthesis</text>
<circle cx="571.60" cy="85.70" r="1.60" fill="#f25a22"/>
<line x1="534.40" y1="98.70" x2="536.10" y2="98.70" stroke="#555" stroke-width="0.5"/>
<text x="533.80" y="100.40" font-size="4.78" text-anchor="end" fill="#3a3a3a">Taurine and hypotaurine metabolism</text>
<circle cx="541.50" cy="98.70" r="0.60" fill="#55e055"/>
<line x1="534.40" y1="111.70" x2="536.10" y2="111.70" stroke="#555" stroke-width="0.5"/>
<text x="533.80" y="113.40" font-size="4.78" text-anchor="end" fill="#3a3a3a">Steroid hormone biosynthesis</text>
<circle cx="571.60" cy="111.70" r="1.60" fill="#4fe04f"/>
<line x1="534.40" y1="124.70" x2="536.10" y2="124.70" stroke="#555" stroke-width="0.5"/>
<text x="533.80" y="126.40" font-size="4.78" text-anchor="end" fill="#3a3a3a">Steroid biosynthesis</text>
<circle cx="586.70" cy="124.70" r="1.80" fill="#ff2222"/>
<line x1="534.40" y1="137.70" x2="536.10" y2="137.70" stroke="#555" stroke-width="0.5"/>
<text x="533.80" y="139.40" font-size="4.78" text-anchor="end" fill="#3a3a3a">Primary bile acid biosynthesis</text>
<circle cx="556.20" cy="137.70" r="1.30" fill="#d0a224"/>
<line x1="534.40" y1="150.70" x2="536.10" y2="150.70" stroke="#555" stroke-width="0.5"/>
<text x="533.80" y="152.40" font-size="4.78" text-anchor="end" fill="#3a3a3a">Peroxisome</text>
<circle cx="586.70" cy="150.70" r="1.80" fill="#44e044"/>
<line x1="534.40" y1="163.70" x2="536.10" y2="163.70" stroke="#555" stroke-width="0.5"/>
<text x="533.80" y="165.40" font-size="4.78" text-anchor="end" fill="#3a3a3a">MAPK signaling pathway</text>
<circle cx="647.60" cy="163.70" r="2.60" fill="#94a8bc"/>
<line x1="534.40" y1="176.70" x2="536.10" y2="176.70" stroke="#555" stroke-width="0.5"/>
<text x="533.80" y="178.40" font-size="4.78" text-anchor="end" fill="#3a3a3a">Hypertrophic cardiomyopathy</text>
<circle cx="601.90" cy="176.70" r="2.10" fill="#c8c024"/>
<line x1="534.40" y1="189.70" x2="536.10" y2="189.70" stroke="#555" stroke-width="0.5"/>
<text x="533.80" y="191.40" font-size="4.78" text-anchor="end" fill="#3a3a3a">Growth hormone synthesis, secretion and action</text>
<circle cx="587.00" cy="189.70" r="1.80" fill="#98a8ba"/>
<line x1="534.40" y1="202.70" x2="536.10" y2="202.70" stroke="#555" stroke-width="0.5"/>
<text x="533.80" y="204.40" font-size="4.78" text-anchor="end" fill="#3a3a3a">Glyoxylate and dicarboxylate metabolism</text>
<circle cx="556.60" cy="202.70" r="1.30" fill="#4fe04f"/>
<line x1="534.40" y1="215.70" x2="536.10" y2="215.70" stroke="#555" stroke-width="0.5"/>
<text x="533.80" y="217.40" font-size="4.78" text-anchor="end" fill="#3a3a3a">Fatty acid metabolism</text>
<circle cx="556.60" cy="215.70" r="1.30" fill="#2a2aff"/>
<line x1="534.40" y1="228.70" x2="536.10" y2="228.70" stroke="#555" stroke-width="0.5"/>
<text x="533.80" y="230.40" font-size="4.78" text-anchor="end" fill="#3a3a3a">Dilated cardiomyopathy</text>
<circle cx="587.00" cy="228.70" r="1.80" fill="#8ea8a0"/>
<line x1="534.40" y1="241.70" x2="536.10" y2="241.70" stroke="#555" stroke-width="0.5"/>
<text x="533.80" y="243.40" font-size="4.78" text-anchor="end" fill="#3a3a3a">cAMP signaling pathway</text>
<circle cx="617.30" cy="241.70" r="2.30" fill="#5e4ef0"/>
<line x1="534.40" y1="254.70" x2="536.10" y2="254.70" stroke="#555" stroke-width="0.5"/>
<text x="533.80" y="256.40" font-size="4.78" text-anchor="end" fill="#3a3a3a">Bile secretion</text>
<circle cx="571.50" cy="254.70" r="1.40" fill="#7258e0"/>
<line x1="534.40" y1="267.70" x2="536.10" y2="267.70" stroke="#555" stroke-width="0.5"/>
<text x="533.80" y="269.40" font-size="4.78" text-anchor="end" fill="#3a3a3a">Arrhythmogenic right ventricular cardiomyopathy</text>
<circle cx="587.00" cy="267.70" r="1.80" fill="#44e044"/>
<line x1="534.40" y1="280.70" x2="536.10" y2="280.70" stroke="#555" stroke-width="0.5"/>
<text x="533.80" y="282.40" font-size="4.78" text-anchor="end" fill="#3a3a3a">ABC transporters</text>
<circle cx="556.60" cy="280.70" r="1.20" fill="#8aa2c2"/>
<line x1="549.50" y1="288.20" x2="549.50" y2="287.00" stroke="#555" stroke-width="0.5"/>
<text x="544.90" y="293.90" font-size="4.6" text-anchor="middle" fill="#333">0.02</text>
<line x1="568.50" y1="288.20" x2="568.50" y2="287.00" stroke="#555" stroke-width="0.5"/>
<text x="563.90" y="293.90" font-size="4.6" text-anchor="middle" fill="#333">0.03</text>
<line x1="587.50" y1="288.20" x2="587.50" y2="287.00" stroke="#555" stroke-width="0.5"/>
<text x="582.90" y="293.90" font-size="4.6" text-anchor="middle" fill="#333">0.04</text>
<line x1="606.50" y1="288.20" x2="606.50" y2="287.00" stroke="#555" stroke-width="0.5"/>
<text x="601.90" y="293.90" font-size="4.6" text-anchor="middle" fill="#333">0.05</text>
<line x1="625.50" y1="288.20" x2="625.50" y2="287.00" stroke="#555" stroke-width="0.5"/>
<text x="620.90" y="293.90" font-size="4.6" text-anchor="middle" fill="#333">0.06</text>
<line x1="644.50" y1="288.20" x2="644.50" y2="287.00" stroke="#555" stroke-width="0.5"/>
<text x="639.90" y="293.90" font-size="4.6" text-anchor="middle" fill="#333">0.07</text>
<text x="594.60" y="300.60" font-size="7.4" font-weight="bold" text-anchor="middle" textLength="39" lengthAdjust="spacingAndGlyphs" fill="#111">GeneRatio</text>
<rect x="464.5" y="105.4" width="70.8" height="24.8" rx="1.2" fill="none" stroke="#e23a3a" stroke-width="0.9"/>
<text x="657.00" y="125.20" font-size="7.2" textLength="19.6" lengthAdjust="spacingAndGlyphs" fill="#222">Count</text>
<circle cx="664.20" cy="130.30" r="0.60" fill="#222"/>
<text x="669.40" y="132.30" font-size="5.6" fill="#333">2</text>
<circle cx="664.20" cy="136.70" r="1.35" fill="#222"/>
<text x="669.40" y="138.70" font-size="5.6" fill="#333">4</text>
<circle cx="664.20" cy="142.90" r="1.85" fill="#222"/>
<text x="669.40" y="144.90" font-size="5.6" fill="#333">6</text>
<circle cx="664.20" cy="149.10" r="2.30" fill="#222"/>
<text x="669.40" y="151.10" font-size="5.6" fill="#333">8</text>
<text x="658.00" y="161.60" font-size="7.4" textLength="14" lengthAdjust="spacingAndGlyphs" fill="#222">padj</text>
<defs><linearGradient id="padj" x1="0" y1="0" x2="0" y2="1"><stop offset="0" stop-color="#4b3cff"/><stop offset="0.25" stop-color="#7c88b0"/><stop offset="0.5" stop-color="#2cf02c"/><stop offset="0.75" stop-color="#b0b020"/><stop offset="1" stop-color="#ff3a08"/></linearGradient></defs>
<rect x="657.10" y="164.20" width="6.00" height="30.60" fill="url(#padj)"/>
<text x="664.90" y="167.60" font-size="5.6" fill="#333">0.5</text>
<text x="664.90" y="173.40" font-size="5.6" fill="#333">0.4</text>
<text x="664.90" y="179.20" font-size="5.6" fill="#333">0.3</text>
<text x="664.90" y="185.10" font-size="5.6" fill="#333">0.2</text>
<text x="664.90" y="190.90" font-size="5.6" fill="#333">0.1</text>
<text x="8.00" y="354.60" font-size="19" font-weight="bold" fill="#000">E</text>
<text x="106.80" y="363.80" font-size="9.3" font-weight="bold" text-anchor="middle" textLength="109.8" lengthAdjust="spacingAndGlyphs" fill="#000">Cholesterol Biosynthetic</text>
<text x="106.40" y="373.20" font-size="9.3" font-weight="bold" text-anchor="middle" textLength="35.8" lengthAdjust="spacingAndGlyphs" fill="#000">Process</text>
<line x1="47.60" y1="375.30" x2="172.30" y2="375.30" stroke="#666" stroke-width="0.8"/>
<line x1="47.60" y1="375.30" x2="47.60" y2="443.00" stroke="#888" stroke-width="0.7"/>
<line x1="46.40" y1="379.20" x2="47.60" y2="379.20" stroke="#666" stroke-width="0.4"/>
<text x="46.00" y="380.20" font-size="2.9" text-anchor="end" fill="#444">0.6</text>
<line x1="46.40" y1="396.70" x2="47.60" y2="396.70" stroke="#666" stroke-width="0.4"/>
<text x="46.00" y="397.70" font-size="2.9" text-anchor="end" fill="#444">0.4</text>
<line x1="46.40" y1="414.20" x2="47.60" y2="414.20" stroke="#666" stroke-width="0.4"/>
<text x="46.00" y="415.20" font-size="2.9" text-anchor="end" fill="#444">0.2</text>
<line x1="46.40" y1="431.70" x2="47.60" y2="431.70" stroke="#666" stroke-width="0.4"/>
<text x="46.00" y="432.70" font-size="2.9" text-anchor="end" fill="#444">0.0</text>
<text x="38.60" y="409.70" font-size="3.6" text-anchor="middle" textLength="40.5" lengthAdjust="spacingAndGlyphs" transform="rotate(-90 38.6 409.7)" fill="#333">Running Enrichment Score</text>
<line x1="47.60" y1="431.70" x2="172.00" y2="431.70" stroke="#555" stroke-width="1.0" stroke-dasharray="2.2 2"/>
<defs><linearGradient id="esg" gradientUnits="userSpaceOnUse" x1="0" y1="400" x2="0" y2="434"><stop offset="0" stop-color="#e8473c"/><stop offset="0.45" stop-color="#d85a40"/><stop offset="0.8" stop-color="#7a9a5a"/><stop offset="1" stop-color="#4caa6e"/></linearGradient></defs>
<polyline fill="none" stroke="url(#esg)" stroke-width="0.8" points="47.6,431.7 49.0,432.5 50.5,433.6 51.9,434.6 52.4,430.0 52.8,425.0 53.6,406.8 54.7,404.0 55.2,395.0 55.8,384.2 56.7,383.0 58.0,378.8 60.0,379.5 63.0,381.5 67.2,384.2 72.0,386.0 76.0,389.0 81.5,394.5 88.0,397.5 95.7,401.7 106.0,407.0 117.6,413.8 128.0,420.5 139.5,429.1 143.9,432.4 148.0,434.5 152.6,435.7 155.0,435.2 157.0,436.5 159.0,436.0 161.4,438.3 163.5,437.5 165.8,435.7 168.0,437.5 170.1,439.0 171.0,438.5 171.4,431.3"/>
<text x="134.00" y="387.20" font-size="3.0" text-anchor="middle" fill="#222">NES: 1.89</text>
<text x="134.00" y="391.80" font-size="3.0" text-anchor="middle" fill="#222">p.adjust: 0</text>
<rect x="47.60" y="443.30" width="124.40" height="28.60" fill="#fff" stroke="#c8c8c8" stroke-width="0.7"/>
<defs><linearGradient id="band" x1="0" y1="0" x2="1" y2="0"><stop offset="0" stop-color="#c4464f"/><stop offset="0.16" stop-color="#c9565e"/><stop offset="0.17" stop-color="#d7868c"/><stop offset="0.36" stop-color="#d98b91"/><stop offset="0.37" stop-color="#e6afb3"/><stop offset="0.52" stop-color="#eab9bd"/><stop offset="0.53" stop-color="#f6dcdd"/><stop offset="0.63" stop-color="#f6e2e2"/><stop offset="0.64" stop-color="#e6ecf5"/><stop offset="0.73" stop-color="#e4eaf4"/><stop offset="0.74" stop-color="#dce5f1"/><stop offset="0.92" stop-color="#d2ddee"/><stop offset="0.95" stop-color="#8eaad6"/><stop offset="1" stop-color="#2a63ae"/></linearGradient></defs>
<rect x="47.90" y="462.80" width="123.80" height="8.20" fill="url(#band)"/>
<line x1="52.40" y1="444.00" x2="52.40" y2="462.80" stroke="#000" stroke-width="0.9"/>
<line x1="52.40" y1="462.80" x2="52.40" y2="471.00" stroke="#000" stroke-width="0.7200000000000001" opacity="0.35"/>
<line x1="53.40" y1="444.00" x2="53.40" y2="462.80" stroke="#000" stroke-width="0.6"/>
<line x1="53.40" y1="462.80" x2="53.40" y2="471.00" stroke="#000" stroke-width="0.48" opacity="0.35"/>
<line x1="55.30" y1="444.00" x2="55.30" y2="462.80" stroke="#000" stroke-width="0.9"/>
<line x1="55.30" y1="462.80" x2="55.30" y2="471.00" stroke="#000" stroke-width="0.7200000000000001" opacity="0.35"/>
<line x1="56.20" y1="444.00" x2="56.20" y2="462.80" stroke="#000" stroke-width="0.9"/>
<line x1="56.20" y1="462.80" x2="56.20" y2="471.00" stroke="#000" stroke-width="0.7200000000000001" opacity="0.35"/>
<line x1="56.90" y1="444.00" x2="56.90" y2="462.80" stroke="#222" stroke-width="0.5"/>
<line x1="56.90" y1="462.80" x2="56.90" y2="471.00" stroke="#222" stroke-width="0.4" opacity="0.35"/>
<line x1="83.00" y1="444.00" x2="83.00" y2="462.80" stroke="#bbb" stroke-width="0.5"/>
<line x1="83.00" y1="462.80" x2="83.00" y2="471.00" stroke="#bbb" stroke-width="0.4" opacity="0.35"/>
<line x1="84.80" y1="444.00" x2="84.80" y2="462.80" stroke="#999" stroke-width="0.5"/>
<line x1="84.80" y1="462.80" x2="84.80" y2="471.00" stroke="#999" stroke-width="0.4" opacity="0.35"/>
<line x1="86.70" y1="444.00" x2="86.70" y2="462.80" stroke="#aaa" stroke-width="0.5"/>
<line x1="86.70" y1="462.80" x2="86.70" y2="471.00" stroke="#aaa" stroke-width="0.4" opacity="0.35"/>
<line x1="89.00" y1="444.00" x2="89.00" y2="462.80" stroke="#999" stroke-width="0.5"/>
<line x1="89.00" y1="462.80" x2="89.00" y2="471.00" stroke="#999" stroke-width="0.4" opacity="0.35"/>
<line x1="92.80" y1="444.00" x2="92.80" y2="462.80" stroke="#222" stroke-width="0.6"/>
<line x1="92.80" y1="462.80" x2="92.80" y2="471.00" stroke="#222" stroke-width="0.48" opacity="0.35"/>
<line x1="93.50" y1="444.00" x2="93.50" y2="462.80" stroke="#000" stroke-width="0.6"/>
<line x1="93.50" y1="462.80" x2="93.50" y2="471.00" stroke="#000" stroke-width="0.48" opacity="0.35"/>
<line x1="94.10" y1="444.00" x2="94.10" y2="462.80" stroke="#333" stroke-width="0.5"/>
<line x1="94.10" y1="462.80" x2="94.10" y2="471.00" stroke="#333" stroke-width="0.4" opacity="0.35"/>
<line x1="96.20" y1="444.00" x2="96.20" y2="462.80" stroke="#999" stroke-width="0.5"/>
<line x1="96.20" y1="462.80" x2="96.20" y2="471.00" stroke="#999" stroke-width="0.4" opacity="0.35"/>
<line x1="98.10" y1="444.00" x2="98.10" y2="462.80" stroke="#888" stroke-width="0.5"/>
<line x1="98.10" y1="462.80" x2="98.10" y2="471.00" stroke="#888" stroke-width="0.4" opacity="0.35"/>
<line x1="100.40" y1="444.00" x2="100.40" y2="462.80" stroke="#333" stroke-width="0.6"/>
<line x1="100.40" y1="462.80" x2="100.40" y2="471.00" stroke="#333" stroke-width="0.48" opacity="0.35"/>
<line x1="102.50" y1="444.00" x2="102.50" y2="462.80" stroke="#888" stroke-width="0.5"/>
<line x1="102.50" y1="462.80" x2="102.50" y2="471.00" stroke="#888" stroke-width="0.4" opacity="0.35"/>
<line x1="105.30" y1="444.00" x2="105.30" y2="462.80" stroke="#999" stroke-width="0.5"/>
<line x1="105.30" y1="462.80" x2="105.30" y2="471.00" stroke="#999" stroke-width="0.4" opacity="0.35"/>
<line x1="112.00" y1="444.00" x2="112.00" y2="462.80" stroke="#444" stroke-width="0.6"/>
<line x1="112.00" y1="462.80" x2="112.00" y2="471.00" stroke="#444" stroke-width="0.48" opacity="0.35"/>
<line x1="117.10" y1="444.00" x2="117.10" y2="462.80" stroke="#aaa" stroke-width="0.5"/>
<line x1="117.10" y1="462.80" x2="117.10" y2="471.00" stroke="#aaa" stroke-width="0.4" opacity="0.35"/>
<line x1="125.60" y1="444.00" x2="125.60" y2="462.80" stroke="#999" stroke-width="0.5"/>
<line x1="125.60" y1="462.80" x2="125.60" y2="471.00" stroke="#999" stroke-width="0.4" opacity="0.35"/>
<line x1="138.20" y1="444.00" x2="138.20" y2="462.80" stroke="#888" stroke-width="0.8"/>
<line x1="138.20" y1="462.80" x2="138.20" y2="471.00" stroke="#888" stroke-width="0.6400000000000001" opacity="0.35"/>
<line x1="139.00" y1="444.00" x2="139.00" y2="462.80" stroke="#aaa" stroke-width="0.6"/>
<line x1="139.00" y1="462.80" x2="139.00" y2="471.00" stroke="#aaa" stroke-width="0.48" opacity="0.35"/>
<line x1="148.40" y1="444.00" x2="148.40" y2="462.80" stroke="#777" stroke-width="0.5"/>
<line x1="148.40" y1="462.80" x2="148.40" y2="471.00" stroke="#777" stroke-width="0.4" opacity="0.35"/>
<line x1="150.90" y1="444.00" x2="150.90" y2="462.80" stroke="#777" stroke-width="0.5"/>
<line x1="150.90" y1="462.80" x2="150.90" y2="471.00" stroke="#777" stroke-width="0.4" opacity="0.35"/>
<line x1="153.20" y1="444.00" x2="153.20" y2="462.80" stroke="#666" stroke-width="0.5"/>
<line x1="153.20" y1="462.80" x2="153.20" y2="471.00" stroke="#666" stroke-width="0.4" opacity="0.35"/>
<line x1="156.00" y1="444.00" x2="156.00" y2="462.80" stroke="#777" stroke-width="0.5"/>
<line x1="156.00" y1="462.80" x2="156.00" y2="471.00" stroke="#777" stroke-width="0.4" opacity="0.35"/>
<line x1="158.90" y1="444.00" x2="158.90" y2="462.80" stroke="#666" stroke-width="0.5"/>
<line x1="158.90" y1="462.80" x2="158.90" y2="471.00" stroke="#666" stroke-width="0.4" opacity="0.35"/>
<line x1="163.00" y1="444.00" x2="163.00" y2="462.80" stroke="#555" stroke-width="0.5"/>
<line x1="163.00" y1="462.80" x2="163.00" y2="471.00" stroke="#555" stroke-width="0.4" opacity="0.35"/>
<line x1="165.00" y1="444.00" x2="165.00" y2="462.80" stroke="#666" stroke-width="0.5"/>
<line x1="165.00" y1="462.80" x2="165.00" y2="471.00" stroke="#666" stroke-width="0.4" opacity="0.35"/>
<line x1="170.20" y1="444.00" x2="170.20" y2="462.80" stroke="#555" stroke-width="0.5"/>
<line x1="170.20" y1="462.80" x2="170.20" y2="471.00" stroke="#555" stroke-width="0.4" opacity="0.35"/>
<line x1="47.60" y1="443.30" x2="172.00" y2="443.30" stroke="#9a9a9a" stroke-width="1.5"/>
<line x1="47.60" y1="471.90" x2="172.00" y2="471.90" stroke="#9a9a9a" stroke-width="1.5"/>
<line x1="47.60" y1="472.50" x2="47.60" y2="512.60" stroke="#999" stroke-width="0.6"/>
<line x1="47.60" y1="512.60" x2="172.00" y2="512.60" stroke="#ccc" stroke-width="0.6"/>
<line x1="46.40" y1="473.80" x2="47.60" y2="473.80" stroke="#666" stroke-width="0.4"/>
<text x="46.00" y="474.80" font-size="2.9" text-anchor="end" fill="#444">20</text>
<line x1="46.40" y1="482.10" x2="47.60" y2="482.10" stroke="#666" stroke-width="0.4"/>
<text x="46.00" y="483.10" font-size="2.9" text-anchor="end" fill="#444">10</text>
<line x1="46.40" y1="491.30" x2="47.60" y2="491.30" stroke="#666" stroke-width="0.4"/>
<text x="46.00" y="492.30" font-size="2.9" text-anchor="end" fill="#444">0</text>
<line x1="46.40" y1="500.30" x2="47.60" y2="500.30" stroke="#666" stroke-width="0.4"/>
<text x="46.00" y="501.30" font-size="2.9" text-anchor="end" fill="#444">-10</text>
<line x1="46.40" y1="509.40" x2="47.60" y2="509.40" stroke="#666" stroke-width="0.4"/>
<text x="46.00" y="510.40" font-size="2.9" text-anchor="end" fill="#444">-20</text>
<line x1="47.60" y1="491.30" x2="172.00" y2="491.30" stroke="#222" stroke-width="0.9" stroke-dasharray="2.2 1.8"/>
<path d="M47.8 491.3 L47.8 488.6 L49.5 490.2 L51 491.3 Z" fill="#f2b0b0"/>
<path d="M168 491.3 L170.5 492.6 L172 494 L172 491.3 Z" fill="#b8c8e8"/>
<text x="40.40" y="492.40" font-size="4.2" text-anchor="middle" textLength="22" lengthAdjust="spacingAndGlyphs" transform="rotate(-90 40.4 492.4)" fill="#333">Ranked List</text>
<line x1="85.80" y1="512.60" x2="85.80" y2="513.80" stroke="#666" stroke-width="0.4"/>
<text x="85.80" y="516.60" font-size="2.9" text-anchor="middle" fill="#444">5000</text>
<line x1="123.70" y1="512.60" x2="123.70" y2="513.80" stroke="#666" stroke-width="0.4"/>
<text x="123.70" y="516.60" font-size="2.9" text-anchor="middle" fill="#444">10000</text>
<line x1="162.50" y1="512.60" x2="162.50" y2="513.80" stroke="#666" stroke-width="0.4"/>
<text x="162.50" y="516.60" font-size="2.9" text-anchor="middle" fill="#444">15000</text>
<text x="110.00" y="521.40" font-size="4.2" text-anchor="middle" textLength="43.8" lengthAdjust="spacingAndGlyphs" fill="#222">Rank in Ordered Dataset</text>
<text x="195.00" y="353.60" font-size="19" font-weight="bold" fill="#000">F</text>
<rect x="256.35" y="420.96" width="12.30" height="65.64" fill="#c6dbf4" stroke="#98a8ba" stroke-width="0.6"/>
<rect x="274.30" y="440.27" width="12.20" height="46.33" fill="#c6dbf4" stroke="#98a8ba" stroke-width="0.6"/>
<rect x="301.65" y="395.22" width="12.50" height="91.38" fill="#fde0c0" stroke="#c8b49c" stroke-width="0.6"/>
<rect x="319.45" y="425.68" width="12.10" height="60.92" fill="#fde0c0" stroke="#c8b49c" stroke-width="0.6"/>
<line x1="262.50" y1="422.68" x2="262.50" y2="417.96" stroke="#111" stroke-width="0.9"/>
<line x1="259.30" y1="422.68" x2="265.70" y2="422.68" stroke="#111" stroke-width="0.9"/>
<line x1="259.30" y1="417.96" x2="265.70" y2="417.96" stroke="#111" stroke-width="0.9"/>
<circle cx="257.90" cy="417.96" r="2.00" fill="#000"/>
<circle cx="257.90" cy="422.68" r="2.00" fill="#000"/>
<circle cx="266.90" cy="420.11" r="2.00" fill="#000"/>
<line x1="280.40" y1="443.27" x2="280.40" y2="435.98" stroke="#111" stroke-width="0.9"/>
<line x1="277.20" y1="443.27" x2="283.60" y2="443.27" stroke="#111" stroke-width="0.9"/>
<line x1="277.20" y1="435.98" x2="283.60" y2="435.98" stroke="#111" stroke-width="0.9"/>
<circle cx="280.20" cy="435.98" r="2.00" fill="#000"/>
<circle cx="275.70" cy="443.27" r="2.00" fill="#000"/>
<circle cx="284.60" cy="440.70" r="2.00" fill="#000"/>
<line x1="307.90" y1="399.94" x2="307.90" y2="389.22" stroke="#111" stroke-width="0.9"/>
<line x1="304.70" y1="399.94" x2="311.10" y2="399.94" stroke="#111" stroke-width="0.9"/>
<line x1="304.70" y1="389.22" x2="311.10" y2="389.22" stroke="#111" stroke-width="0.9"/>
<circle cx="307.50" cy="389.22" r="2.00" fill="#000"/>
<circle cx="307.50" cy="395.22" r="2.00" fill="#000"/>
<circle cx="307.50" cy="399.94" r="2.00" fill="#000"/>
<line x1="325.50" y1="427.40" x2="325.50" y2="422.25" stroke="#111" stroke-width="0.9"/>
<line x1="322.30" y1="427.40" x2="328.70" y2="427.40" stroke="#111" stroke-width="0.9"/>
<line x1="322.30" y1="422.25" x2="328.70" y2="422.25" stroke="#111" stroke-width="0.9"/>
<circle cx="321.30" cy="422.25" r="2.00" fill="#000"/>
<circle cx="321.30" cy="427.40" r="2.00" fill="#000"/>
<circle cx="330.20" cy="425.25" r="2.00" fill="#000"/>
<line x1="250.70" y1="378.85" x2="250.70" y2="487.20" stroke="#111" stroke-width="1.2"/>
<line x1="250.10" y1="486.60" x2="337.20" y2="486.60" stroke="#111" stroke-width="1.2"/>
<line x1="245.20" y1="486.60" x2="250.70" y2="486.60" stroke="#111" stroke-width="1.0"/>
<text x="243.50" y="489.45" font-size="8.6" font-weight="bold" text-anchor="end" fill="#111" stroke="#111" stroke-width="0.2">0</text>
<line x1="245.20" y1="465.15" x2="250.70" y2="465.15" stroke="#111" stroke-width="1.0"/>
<text x="243.50" y="468.00" font-size="8.6" font-weight="bold" text-anchor="end" fill="#111" stroke="#111" stroke-width="0.2">5</text>
<line x1="245.20" y1="443.70" x2="250.70" y2="443.70" stroke="#111" stroke-width="1.0"/>
<text x="243.50" y="446.55" font-size="8.6" font-weight="bold" text-anchor="end" fill="#111" stroke="#111" stroke-width="0.2">10</text>
<line x1="245.20" y1="422.25" x2="250.70" y2="422.25" stroke="#111" stroke-width="1.0"/>
<text x="243.50" y="425.10" font-size="8.6" font-weight="bold" text-anchor="end" fill="#111" stroke="#111" stroke-width="0.2">15</text>
<line x1="245.20" y1="400.80" x2="250.70" y2="400.80" stroke="#111" stroke-width="1.0"/>
<text x="243.50" y="403.65" font-size="8.6" font-weight="bold" text-anchor="end" fill="#111" stroke="#111" stroke-width="0.2">20</text>
<line x1="245.20" y1="379.35" x2="250.70" y2="379.35" stroke="#111" stroke-width="1.0"/>
<text x="243.50" y="382.20" font-size="8.6" font-weight="bold" text-anchor="end" fill="#111" stroke="#111" stroke-width="0.2">25</text>
<line x1="262.50" y1="486.60" x2="262.50" y2="492.60" stroke="#111" stroke-width="1.1"/>
<line x1="280.40" y1="486.60" x2="280.40" y2="492.60" stroke="#111" stroke-width="1.1"/>
<line x1="307.90" y1="486.60" x2="307.90" y2="492.60" stroke="#111" stroke-width="1.1"/>
<line x1="325.50" y1="486.60" x2="325.50" y2="492.60" stroke="#111" stroke-width="1.1"/>
<text x="264.80" y="499.70" font-size="7.5" font-weight="bold" text-anchor="end" transform="rotate(-45 264.8 499.70000000000005)" fill="#111">Ctrl</text>
<text x="282.70" y="499.70" font-size="7.5" font-weight="bold" text-anchor="end" transform="rotate(-45 282.7 499.70000000000005)" fill="#111">TDS</text>
<text x="310.20" y="499.70" font-size="7.5" font-weight="bold" text-anchor="end" transform="rotate(-45 310.2 499.70000000000005)" fill="#111">Ctrl</text>
<text x="327.80" y="499.70" font-size="7.5" font-weight="bold" text-anchor="end" transform="rotate(-45 327.8 499.70000000000005)" fill="#111">TDS</text>
<rect x="262.10" y="359.00" width="15.20" height="4.80" fill="#c6dbf4" stroke="#98a8ba" stroke-width="0.7"/>
<text x="285.20" y="364.20" font-size="8.5" font-weight="bold" textLength="18" lengthAdjust="spacingAndGlyphs" fill="#111">A549</text>
<rect x="262.10" y="375.60" width="15.20" height="4.30" fill="#fde0c0" stroke="#c8b49c" stroke-width="0.7"/>
<text x="285.30" y="380.60" font-size="8.5" font-weight="bold" textLength="23.7" lengthAdjust="spacingAndGlyphs" fill="#111">H1299</text>
<text x="215.80" y="433.80" font-size="9.0" font-weight="bold" text-anchor="middle" textLength="104.6" lengthAdjust="spacingAndGlyphs" transform="rotate(-90 215.8 433.8)" fill="#111" stroke="#111" stroke-width="0.25">Introcellular cholesterol</text>
<text x="227.00" y="434.10" font-size="9.0" font-weight="bold" text-anchor="middle" textLength="68.8" lengthAdjust="spacingAndGlyphs" transform="rotate(-90 227.0 434.1)" fill="#111" stroke="#111" stroke-width="0.25">(µg/mg protein)</text>
<text x="280.60" y="435.00" font-size="12.0" font-weight="bold" text-anchor="middle" fill="#111" stroke="#111" stroke-width="0.3">*</text>
<text x="322.40" y="421.00" font-size="12.0" font-weight="bold" text-anchor="middle" fill="#111" stroke="#111" stroke-width="0.3">*</text>
<text x="329.00" y="421.00" font-size="12.0" font-weight="bold" text-anchor="middle" fill="#111" stroke="#111" stroke-width="0.3">*</text>
<text x="357.60" y="354.50" font-size="19" font-weight="bold" fill="#000">G</text>
<rect x="418.05" y="424.66" width="12.50" height="61.64" fill="#c6dbf4" stroke="#98a8ba" stroke-width="0.6"/>
<rect x="435.75" y="445.56" width="12.50" height="40.74" fill="#c6dbf4" stroke="#98a8ba" stroke-width="0.6"/>
<rect x="463.25" y="405.36" width="12.30" height="80.94" fill="#fde0c0" stroke="#c8b49c" stroke-width="0.6"/>
<rect x="481.00" y="432.70" width="12.40" height="53.60" fill="#fde0c0" stroke="#c8b49c" stroke-width="0.6"/>
<line x1="424.30" y1="425.73" x2="424.30" y2="418.76" stroke="#111" stroke-width="0.9"/>
<line x1="421.10" y1="425.73" x2="427.50" y2="425.73" stroke="#111" stroke-width="0.9"/>
<line x1="421.10" y1="418.76" x2="427.50" y2="418.76" stroke="#111" stroke-width="0.9"/>
<circle cx="424.20" cy="418.76" r="2.00" fill="#000"/>
<circle cx="419.90" cy="425.73" r="2.00" fill="#000"/>
<circle cx="428.40" cy="425.73" r="2.00" fill="#000"/>
<line x1="442.00" y1="445.56" x2="442.00" y2="441.81" stroke="#111" stroke-width="0.9"/>
<line x1="438.80" y1="445.56" x2="445.20" y2="445.56" stroke="#111" stroke-width="0.9"/>
<line x1="438.80" y1="441.81" x2="445.20" y2="441.81" stroke="#111" stroke-width="0.9"/>
<circle cx="441.50" cy="441.81" r="2.00" fill="#000"/>
<circle cx="437.30" cy="445.56" r="2.00" fill="#000"/>
<circle cx="445.50" cy="445.56" r="2.00" fill="#000"/>
<line x1="469.40" y1="408.04" x2="469.40" y2="402.15" stroke="#111" stroke-width="0.9"/>
<line x1="466.20" y1="408.04" x2="472.60" y2="408.04" stroke="#111" stroke-width="0.9"/>
<line x1="466.20" y1="402.15" x2="472.60" y2="402.15" stroke="#111" stroke-width="0.9"/>
<circle cx="465.20" cy="402.15" r="2.00" fill="#000"/>
<circle cx="465.20" cy="408.04" r="2.00" fill="#000"/>
<circle cx="474.00" cy="404.83" r="2.00" fill="#000"/>
<line x1="487.20" y1="436.99" x2="487.20" y2="430.02" stroke="#111" stroke-width="0.9"/>
<line x1="484.00" y1="436.99" x2="490.40" y2="436.99" stroke="#111" stroke-width="0.9"/>
<line x1="484.00" y1="430.02" x2="490.40" y2="430.02" stroke="#111" stroke-width="0.9"/>
<circle cx="482.90" cy="430.02" r="2.00" fill="#000"/>
<circle cx="491.20" cy="430.56" r="2.00" fill="#000"/>
<circle cx="486.90" cy="436.99" r="2.00" fill="#000"/>
<line x1="412.90" y1="378.60" x2="412.90" y2="486.90" stroke="#111" stroke-width="1.2"/>
<line x1="412.30" y1="486.30" x2="498.00" y2="486.30" stroke="#111" stroke-width="1.2"/>
<line x1="407.40" y1="486.30" x2="412.90" y2="486.30" stroke="#111" stroke-width="1.0"/>
<text x="405.70" y="489.15" font-size="8.6" font-weight="bold" text-anchor="end" fill="#111" stroke="#111" stroke-width="0.2">0</text>
<line x1="407.40" y1="459.50" x2="412.90" y2="459.50" stroke="#111" stroke-width="1.0"/>
<text x="405.70" y="462.35" font-size="8.6" font-weight="bold" text-anchor="end" fill="#111" stroke="#111" stroke-width="0.2">5</text>
<line x1="407.40" y1="432.70" x2="412.90" y2="432.70" stroke="#111" stroke-width="1.0"/>
<text x="405.70" y="435.55" font-size="8.6" font-weight="bold" text-anchor="end" fill="#111" stroke="#111" stroke-width="0.2">10</text>
<line x1="407.40" y1="405.90" x2="412.90" y2="405.90" stroke="#111" stroke-width="1.0"/>
<text x="405.70" y="408.75" font-size="8.6" font-weight="bold" text-anchor="end" fill="#111" stroke="#111" stroke-width="0.2">15</text>
<line x1="407.40" y1="379.10" x2="412.90" y2="379.10" stroke="#111" stroke-width="1.0"/>
<text x="405.70" y="381.95" font-size="8.6" font-weight="bold" text-anchor="end" fill="#111" stroke="#111" stroke-width="0.2">20</text>
<line x1="424.30" y1="486.30" x2="424.30" y2="492.30" stroke="#111" stroke-width="1.1"/>
<line x1="442.00" y1="486.30" x2="442.00" y2="492.30" stroke="#111" stroke-width="1.1"/>
<line x1="469.40" y1="486.30" x2="469.40" y2="492.30" stroke="#111" stroke-width="1.1"/>
<line x1="487.20" y1="486.30" x2="487.20" y2="492.30" stroke="#111" stroke-width="1.1"/>
<text x="426.60" y="499.40" font-size="7.5" font-weight="bold" text-anchor="end" transform="rotate(-45 426.6 499.40000000000003)" fill="#111">Ctrl</text>
<text x="444.30" y="499.40" font-size="7.5" font-weight="bold" text-anchor="end" transform="rotate(-45 444.3 499.40000000000003)" fill="#111">TDS</text>
<text x="471.70" y="499.40" font-size="7.5" font-weight="bold" text-anchor="end" transform="rotate(-45 471.7 499.40000000000003)" fill="#111">Ctrl</text>
<text x="489.50" y="499.40" font-size="7.5" font-weight="bold" text-anchor="end" transform="rotate(-45 489.5 499.40000000000003)" fill="#111">TDS</text>
<rect x="424.20" y="361.60" width="13.90" height="4.00" fill="#c6dbf4" stroke="#98a8ba" stroke-width="0.7"/>
<text x="446.60" y="366.40" font-size="8.5" font-weight="bold" textLength="17.6" lengthAdjust="spacingAndGlyphs" fill="#111">A549</text>
<rect x="424.20" y="376.30" width="13.90" height="3.70" fill="#fde0c0" stroke="#c8b49c" stroke-width="0.7"/>
<text x="446.60" y="380.70" font-size="8.5" font-weight="bold" textLength="23.2" lengthAdjust="spacingAndGlyphs" fill="#111">H1299</text>
<text x="378.00" y="433.50" font-size="9.0" font-weight="bold" text-anchor="middle" textLength="95.7" lengthAdjust="spacingAndGlyphs" transform="rotate(-90 378.0 433.5)" fill="#111" stroke="#111" stroke-width="0.25">Lipid rafts cholesterol</text>
<text x="389.00" y="435.00" font-size="9.0" font-weight="bold" text-anchor="middle" textLength="70.0" lengthAdjust="spacingAndGlyphs" transform="rotate(-90 389.0 435.0)" fill="#111" stroke="#111" stroke-width="0.25">(µg/mg protein)</text>
<text x="439.20" y="440.40" font-size="12.0" font-weight="bold" text-anchor="middle" fill="#111" stroke="#111" stroke-width="0.3">*</text>
<text x="445.80" y="440.40" font-size="12.0" font-weight="bold" text-anchor="middle" fill="#111" stroke="#111" stroke-width="0.3">*</text>
<text x="480.60" y="428.60" font-size="12.0" font-weight="bold" text-anchor="middle" fill="#111" stroke="#111" stroke-width="0.3">*</text>
<text x="487.20" y="428.60" font-size="12.0" font-weight="bold" text-anchor="middle" fill="#111" stroke="#111" stroke-width="0.3">*</text>
<text x="493.80" y="428.60" font-size="12.0" font-weight="bold" text-anchor="middle" fill="#111" stroke="#111" stroke-width="0.3">*</text>
<text x="516.70" y="354.40" font-size="19" font-weight="bold" fill="#000">H</text>
<rect x="573.55" y="440.45" width="12.30" height="44.45" fill="#8dbaf0" stroke="#6a8cb0" stroke-width="0.6"/>
<rect x="591.25" y="408.89" width="12.30" height="76.01" fill="#8dbaf0" stroke="#6a8cb0" stroke-width="0.6"/>
<rect x="618.35" y="440.45" width="12.30" height="44.45" fill="#fde2e2" stroke="#c8b0b0" stroke-width="0.6"/>
<rect x="636.05" y="412.00" width="12.30" height="72.90" fill="#fde2e2" stroke="#c8b0b0" stroke-width="0.6"/>
<line x1="579.70" y1="441.78" x2="579.70" y2="439.12" stroke="#111" stroke-width="0.9"/>
<line x1="576.50" y1="441.78" x2="582.90" y2="441.78" stroke="#111" stroke-width="0.9"/>
<line x1="576.50" y1="439.12" x2="582.90" y2="439.12" stroke="#111" stroke-width="0.9"/>
<circle cx="575.50" cy="441.34" r="2.00" fill="#000"/>
<circle cx="579.70" cy="438.67" r="2.00" fill="#000"/>
<circle cx="583.90" cy="440.45" r="2.00" fill="#000"/>
<line x1="597.40" y1="413.78" x2="597.40" y2="404.89" stroke="#111" stroke-width="0.9"/>
<line x1="594.20" y1="413.78" x2="600.60" y2="413.78" stroke="#111" stroke-width="0.9"/>
<line x1="594.20" y1="404.89" x2="600.60" y2="404.89" stroke="#111" stroke-width="0.9"/>
<circle cx="597.40" cy="402.67" r="2.00" fill="#000"/>
<circle cx="593.10" cy="412.89" r="2.00" fill="#000"/>
<circle cx="601.70" cy="412.00" r="2.00" fill="#000"/>
<line x1="624.50" y1="442.23" x2="624.50" y2="438.67" stroke="#111" stroke-width="0.9"/>
<line x1="621.30" y1="442.23" x2="627.70" y2="442.23" stroke="#111" stroke-width="0.9"/>
<line x1="621.30" y1="438.67" x2="627.70" y2="438.67" stroke="#111" stroke-width="0.9"/>
<circle cx="620.30" cy="441.34" r="2.00" fill="#000"/>
<circle cx="624.50" cy="438.23" r="2.00" fill="#000"/>
<circle cx="628.70" cy="441.34" r="2.00" fill="#000"/>
<line x1="642.20" y1="414.67" x2="642.20" y2="408.45" stroke="#111" stroke-width="0.9"/>
<line x1="639.00" y1="414.67" x2="645.40" y2="414.67" stroke="#111" stroke-width="0.9"/>
<line x1="639.00" y1="408.45" x2="645.40" y2="408.45" stroke="#111" stroke-width="0.9"/>
<circle cx="642.20" cy="407.56" r="2.00" fill="#000"/>
<circle cx="637.90" cy="413.78" r="2.00" fill="#000"/>
<circle cx="646.50" cy="412.45" r="2.00" fill="#000"/>
<line x1="567.90" y1="373.27" x2="567.90" y2="485.50" stroke="#111" stroke-width="1.2"/>
<line x1="567.30" y1="484.90" x2="653.60" y2="484.90" stroke="#111" stroke-width="1.2"/>
<line x1="562.40" y1="484.90" x2="567.90" y2="484.90" stroke="#111" stroke-width="1.0"/>
<text x="560.70" y="487.75" font-size="8.6" font-weight="bold" text-anchor="end" fill="#111" stroke="#111" stroke-width="0.2">0.0</text>
<line x1="562.40" y1="462.67" x2="567.90" y2="462.67" stroke="#111" stroke-width="1.0"/>
<text x="560.70" y="465.52" font-size="8.6" font-weight="bold" text-anchor="end" fill="#111" stroke="#111" stroke-width="0.2">0.5</text>
<line x1="562.40" y1="440.45" x2="567.90" y2="440.45" stroke="#111" stroke-width="1.0"/>
<text x="560.70" y="443.30" font-size="8.6" font-weight="bold" text-anchor="end" fill="#111" stroke="#111" stroke-width="0.2">1.0</text>
<line x1="562.40" y1="418.22" x2="567.90" y2="418.22" stroke="#111" stroke-width="1.0"/>
<text x="560.70" y="421.07" font-size="8.6" font-weight="bold" text-anchor="end" fill="#111" stroke="#111" stroke-width="0.2">1.5</text>
<line x1="562.40" y1="396.00" x2="567.90" y2="396.00" stroke="#111" stroke-width="1.0"/>
<text x="560.70" y="398.85" font-size="8.6" font-weight="bold" text-anchor="end" fill="#111" stroke="#111" stroke-width="0.2">2.0</text>
<line x1="562.40" y1="373.77" x2="567.90" y2="373.77" stroke="#111" stroke-width="1.0"/>
<text x="560.70" y="376.62" font-size="8.6" font-weight="bold" text-anchor="end" fill="#111" stroke="#111" stroke-width="0.2">2.5</text>
<line x1="579.70" y1="484.90" x2="579.70" y2="490.90" stroke="#111" stroke-width="1.1"/>
<line x1="597.40" y1="484.90" x2="597.40" y2="490.90" stroke="#111" stroke-width="1.1"/>
<line x1="624.50" y1="484.90" x2="624.50" y2="490.90" stroke="#111" stroke-width="1.1"/>
<line x1="642.20" y1="484.90" x2="642.20" y2="490.90" stroke="#111" stroke-width="1.1"/>
<text x="582.00" y="498.00" font-size="7.5" font-weight="bold" text-anchor="end" transform="rotate(-45 582.0 498.0)" fill="#111">Ctrl</text>
<text x="599.70" y="498.00" font-size="7.5" font-weight="bold" text-anchor="end" transform="rotate(-45 599.6999999999999 498.0)" fill="#111">TDS</text>
<text x="626.80" y="498.00" font-size="7.5" font-weight="bold" text-anchor="end" transform="rotate(-45 626.8 498.0)" fill="#111">Ctrl</text>
<text x="644.50" y="498.00" font-size="7.5" font-weight="bold" text-anchor="end" transform="rotate(-45 644.5 498.0)" fill="#111">TDS</text>
<rect x="583.60" y="355.10" width="14.30" height="5.00" fill="#8dbaf0" stroke="#6a8cb0" stroke-width="0.7"/>
<text x="605.60" y="361.10" font-size="9.2" font-weight="bold" textLength="21.7" lengthAdjust="spacingAndGlyphs" fill="#111">A549</text>
<rect x="583.60" y="368.30" width="14.30" height="5.00" fill="#fde2e2" stroke="#c8b0b0" stroke-width="0.7"/>
<text x="605.60" y="373.90" font-size="9.2" font-weight="bold" textLength="26.4" lengthAdjust="spacingAndGlyphs" fill="#111">H1299</text>
<text x="543.20" y="429.30" font-size="9.0" font-weight="bold" text-anchor="middle" textLength="87.2" lengthAdjust="spacingAndGlyphs" transform="rotate(-90 543.2 429.3)" fill="#111" stroke="#111" stroke-width="0.25">HMGCR mRNA level</text>
<text x="593.95" y="400.80" font-size="13" font-weight="bold" text-anchor="middle" fill="#111" stroke="#111" stroke-width="0.3">*</text>
<text x="600.85" y="400.80" font-size="13" font-weight="bold" text-anchor="middle" fill="#111" stroke="#111" stroke-width="0.3">*</text>
<text x="638.75" y="405.10" font-size="13" font-weight="bold" text-anchor="middle" fill="#111" stroke="#111" stroke-width="0.3">*</text>
<text x="645.65" y="405.10" font-size="13" font-weight="bold" text-anchor="middle" fill="#111" stroke="#111" stroke-width="0.3">*</text>
<text x="11.80" y="540.60" font-size="19" font-weight="bold" fill="#000">I</text>
<rect x="69.20" y="630.60" width="12.80" height="46.40" fill="#8dbaf0" stroke="#6a8cb0" stroke-width="0.6"/>
<rect x="87.35" y="593.48" width="12.90" height="83.52" fill="#8dbaf0" stroke="#6a8cb0" stroke-width="0.6"/>
<rect x="115.45" y="630.60" width="12.90" height="46.40" fill="#fde2e2" stroke="#c8b0b0" stroke-width="0.6"/>
<rect x="133.65" y="603.22" width="12.90" height="73.78" fill="#fde2e2" stroke="#c8b0b0" stroke-width="0.6"/>
<line x1="75.60" y1="631.99" x2="75.60" y2="629.21" stroke="#111" stroke-width="0.9"/>
<line x1="72.40" y1="631.99" x2="78.80" y2="631.99" stroke="#111" stroke-width="0.9"/>
<line x1="72.40" y1="629.21" x2="78.80" y2="629.21" stroke="#111" stroke-width="0.9"/>
<circle cx="71.30" cy="631.06" r="2.00" fill="#000"/>
<circle cx="75.60" cy="628.74" r="2.00" fill="#000"/>
<circle cx="79.90" cy="630.60" r="2.00" fill="#000"/>
<line x1="93.80" y1="597.19" x2="93.80" y2="589.77" stroke="#111" stroke-width="0.9"/>
<line x1="90.60" y1="597.19" x2="97.00" y2="597.19" stroke="#111" stroke-width="0.9"/>
<line x1="90.60" y1="589.77" x2="97.00" y2="589.77" stroke="#111" stroke-width="0.9"/>
<circle cx="89.40" cy="590.70" r="2.00" fill="#000"/>
<circle cx="98.20" cy="591.62" r="2.00" fill="#000"/>
<circle cx="93.80" cy="597.19" r="2.00" fill="#000"/>
<line x1="121.90" y1="631.99" x2="121.90" y2="629.21" stroke="#111" stroke-width="0.9"/>
<line x1="118.70" y1="631.99" x2="125.10" y2="631.99" stroke="#111" stroke-width="0.9"/>
<line x1="118.70" y1="629.21" x2="125.10" y2="629.21" stroke="#111" stroke-width="0.9"/>
<circle cx="117.60" cy="631.06" r="2.00" fill="#000"/>
<circle cx="121.90" cy="628.74" r="2.00" fill="#000"/>
<circle cx="126.20" cy="630.60" r="2.00" fill="#000"/>
<line x1="140.10" y1="605.54" x2="140.10" y2="600.44" stroke="#111" stroke-width="0.9"/>
<line x1="136.90" y1="605.54" x2="143.30" y2="605.54" stroke="#111" stroke-width="0.9"/>
<line x1="136.90" y1="600.44" x2="143.30" y2="600.44" stroke="#111" stroke-width="0.9"/>
<circle cx="135.70" cy="600.90" r="2.00" fill="#000"/>
<circle cx="144.50" cy="601.83" r="2.00" fill="#000"/>
<circle cx="135.70" cy="605.54" r="2.00" fill="#000"/>
<line x1="64.20" y1="560.50" x2="64.20" y2="677.60" stroke="#111" stroke-width="1.2"/>
<line x1="63.60" y1="677.00" x2="151.80" y2="677.00" stroke="#111" stroke-width="1.2"/>
<line x1="58.70" y1="677.00" x2="64.20" y2="677.00" stroke="#111" stroke-width="1.0"/>
<text x="57.00" y="679.85" font-size="8.6" font-weight="bold" text-anchor="end" fill="#111" stroke="#111" stroke-width="0.2">0.0</text>
<line x1="58.70" y1="653.80" x2="64.20" y2="653.80" stroke="#111" stroke-width="1.0"/>
<text x="57.00" y="656.65" font-size="8.6" font-weight="bold" text-anchor="end" fill="#111" stroke="#111" stroke-width="0.2">0.5</text>
<line x1="58.70" y1="630.60" x2="64.20" y2="630.60" stroke="#111" stroke-width="1.0"/>
<text x="57.00" y="633.45" font-size="8.6" font-weight="bold" text-anchor="end" fill="#111" stroke="#111" stroke-width="0.2">1.0</text>
<line x1="58.70" y1="607.40" x2="64.20" y2="607.40" stroke="#111" stroke-width="1.0"/>
<text x="57.00" y="610.25" font-size="8.6" font-weight="bold" text-anchor="end" fill="#111" stroke="#111" stroke-width="0.2">1.5</text>
<line x1="58.70" y1="584.20" x2="64.20" y2="584.20" stroke="#111" stroke-width="1.0"/>
<text x="57.00" y="587.05" font-size="8.6" font-weight="bold" text-anchor="end" fill="#111" stroke="#111" stroke-width="0.2">2.0</text>
<line x1="58.70" y1="561.00" x2="64.20" y2="561.00" stroke="#111" stroke-width="1.0"/>
<text x="57.00" y="563.85" font-size="8.6" font-weight="bold" text-anchor="end" fill="#111" stroke="#111" stroke-width="0.2">2.5</text>
<line x1="75.60" y1="677.00" x2="75.60" y2="683.00" stroke="#111" stroke-width="1.1"/>
<line x1="93.80" y1="677.00" x2="93.80" y2="683.00" stroke="#111" stroke-width="1.1"/>
<line x1="121.90" y1="677.00" x2="121.90" y2="683.00" stroke="#111" stroke-width="1.1"/>
<line x1="140.10" y1="677.00" x2="140.10" y2="683.00" stroke="#111" stroke-width="1.1"/>
<text x="77.90" y="690.10" font-size="7.5" font-weight="bold" text-anchor="end" transform="rotate(-45 77.89999999999999 690.1)" fill="#111">Ctrl</text>
<text x="96.10" y="690.10" font-size="7.5" font-weight="bold" text-anchor="end" transform="rotate(-45 96.1 690.1)" fill="#111">TDS</text>
<text x="124.20" y="690.10" font-size="7.5" font-weight="bold" text-anchor="end" transform="rotate(-45 124.2 690.1)" fill="#111">Ctrl</text>
<text x="142.40" y="690.10" font-size="7.5" font-weight="bold" text-anchor="end" transform="rotate(-45 142.4 690.1)" fill="#111">TDS</text>
<rect x="78.80" y="543.10" width="14.80" height="4.70" fill="#8dbaf0" stroke="#6a8cb0" stroke-width="0.7"/>
<text x="101.80" y="547.90" font-size="9.0" font-weight="bold" textLength="21.9" lengthAdjust="spacingAndGlyphs" fill="#111">A549</text>
<rect x="78.80" y="556.30" width="14.80" height="5.20" fill="#fde2e2" stroke="#c8b0b0" stroke-width="0.7"/>
<text x="101.80" y="561.70" font-size="9.0" font-weight="bold" textLength="26.7" lengthAdjust="spacingAndGlyphs" fill="#111">H1299</text>
<text x="37.00" y="620.00" font-size="8.6" font-weight="bold" text-anchor="middle" textLength="92.0" lengthAdjust="spacingAndGlyphs" transform="rotate(-90 37.0 620.0)" fill="#111" stroke="#111" stroke-width="0.25">SREBP2 mRNA level</text>
<text x="90.35" y="589.30" font-size="13" font-weight="bold" text-anchor="middle" fill="#111" stroke="#111" stroke-width="0.3">*</text>
<text x="97.25" y="589.30" font-size="13" font-weight="bold" text-anchor="middle" fill="#111" stroke="#111" stroke-width="0.3">*</text>
<text x="136.65" y="601.00" font-size="13" font-weight="bold" text-anchor="middle" fill="#111" stroke="#111" stroke-width="0.3">*</text>
<text x="143.55" y="601.00" font-size="13" font-weight="bold" text-anchor="middle" fill="#111" stroke="#111" stroke-width="0.3">*</text>
<text x="431.00" y="542.30" font-size="19" font-weight="bold" fill="#000">K</text>
<rect x="508.30" y="651.70" width="13.20" height="10.90" fill="#c6dbf4" stroke="#98a8ba" stroke-width="0.6"/>
<rect x="526.80" y="586.80" width="13.00" height="75.80" fill="#c6dbf4" stroke="#98a8ba" stroke-width="0.6"/>
<rect x="555.50" y="654.55" width="13.00" height="8.05" fill="#ece4c8" stroke="#bcb49c" stroke-width="0.6"/>
<rect x="573.35" y="614.28" width="13.10" height="48.32" fill="#ece4c8" stroke="#bcb49c" stroke-width="0.6"/>
<line x1="514.90" y1="653.12" x2="514.90" y2="648.39" stroke="#111" stroke-width="0.9"/>
<line x1="511.70" y1="653.12" x2="518.10" y2="653.12" stroke="#111" stroke-width="0.9"/>
<line x1="511.70" y1="648.39" x2="518.10" y2="648.39" stroke="#111" stroke-width="0.9"/>
<circle cx="510.50" cy="648.39" r="2.00" fill="#000"/>
<circle cx="510.50" cy="653.12" r="2.00" fill="#000"/>
<circle cx="519.50" cy="651.23" r="2.00" fill="#000"/>
<line x1="533.30" y1="594.38" x2="533.30" y2="580.17" stroke="#111" stroke-width="0.9"/>
<line x1="530.10" y1="594.38" x2="536.50" y2="594.38" stroke="#111" stroke-width="0.9"/>
<line x1="530.10" y1="580.17" x2="536.50" y2="580.17" stroke="#111" stroke-width="0.9"/>
<circle cx="529.10" cy="581.12" r="2.00" fill="#000"/>
<circle cx="537.50" cy="583.96" r="2.00" fill="#000"/>
<circle cx="533.30" cy="594.38" r="2.00" fill="#000"/>
<line x1="562.00" y1="655.97" x2="562.00" y2="652.18" stroke="#111" stroke-width="0.9"/>
<line x1="558.80" y1="655.97" x2="565.20" y2="655.97" stroke="#111" stroke-width="0.9"/>
<line x1="558.80" y1="652.18" x2="565.20" y2="652.18" stroke="#111" stroke-width="0.9"/>
<circle cx="557.60" cy="655.97" r="2.00" fill="#000"/>
<circle cx="562.00" cy="651.23" r="2.00" fill="#000"/>
<circle cx="566.40" cy="654.07" r="2.00" fill="#000"/>
<line x1="579.90" y1="615.23" x2="579.90" y2="609.54" stroke="#111" stroke-width="0.9"/>
<line x1="576.70" y1="615.23" x2="583.10" y2="615.23" stroke="#111" stroke-width="0.9"/>
<line x1="576.70" y1="609.54" x2="583.10" y2="609.54" stroke="#111" stroke-width="0.9"/>
<circle cx="579.90" cy="608.59" r="2.00" fill="#000"/>
<circle cx="575.50" cy="615.23" r="2.00" fill="#000"/>
<circle cx="584.30" cy="613.33" r="2.00" fill="#000"/>
<line x1="502.10" y1="548.40" x2="502.10" y2="663.20" stroke="#111" stroke-width="1.2"/>
<line x1="501.50" y1="662.60" x2="593.80" y2="662.60" stroke="#111" stroke-width="1.2"/>
<line x1="496.60" y1="662.60" x2="502.10" y2="662.60" stroke="#111" stroke-width="1.0"/>
<text x="494.90" y="665.45" font-size="8.6" font-weight="bold" text-anchor="end" fill="#111" stroke="#111" stroke-width="0.2">0.0</text>
<line x1="496.60" y1="624.70" x2="502.10" y2="624.70" stroke="#111" stroke-width="1.0"/>
<text x="494.90" y="627.55" font-size="8.6" font-weight="bold" text-anchor="end" fill="#111" stroke="#111" stroke-width="0.2">0.4</text>
<line x1="496.60" y1="586.80" x2="502.10" y2="586.80" stroke="#111" stroke-width="1.0"/>
<text x="494.90" y="589.65" font-size="8.6" font-weight="bold" text-anchor="end" fill="#111" stroke="#111" stroke-width="0.2">0.8</text>
<line x1="496.60" y1="548.90" x2="502.10" y2="548.90" stroke="#111" stroke-width="1.0"/>
<text x="494.90" y="551.75" font-size="8.6" font-weight="bold" text-anchor="end" fill="#111" stroke="#111" stroke-width="0.2">1.2</text>
<line x1="514.90" y1="662.60" x2="514.90" y2="668.60" stroke="#111" stroke-width="1.1"/>
<line x1="533.30" y1="662.60" x2="533.30" y2="668.60" stroke="#111" stroke-width="1.1"/>
<line x1="562.00" y1="662.60" x2="562.00" y2="668.60" stroke="#111" stroke-width="1.1"/>
<line x1="579.90" y1="662.60" x2="579.90" y2="668.60" stroke="#111" stroke-width="1.1"/>
<text x="517.20" y="675.70" font-size="7.5" font-weight="bold" text-anchor="end" transform="rotate(-45 517.1999999999999 675.7)" fill="#111">Ctrl</text>
<text x="535.60" y="675.70" font-size="7.5" font-weight="bold" text-anchor="end" transform="rotate(-45 535.5999999999999 675.7)" fill="#111">TDS</text>
<text x="564.30" y="675.70" font-size="7.5" font-weight="bold" text-anchor="end" transform="rotate(-45 564.3 675.7)" fill="#111">Ctrl</text>
<text x="582.20" y="675.70" font-size="7.5" font-weight="bold" text-anchor="end" transform="rotate(-45 582.1999999999999 675.7)" fill="#111">TDS</text>
<rect x="541.10" y="541.30" width="15.60" height="4.40" fill="#c6dbf4" stroke="#98a8ba" stroke-width="0.7"/>
<text x="565.10" y="546.30" font-size="8.4" font-weight="bold" textLength="34.3" lengthAdjust="spacingAndGlyphs" fill="#111">HMGCR</text>
<rect x="541.10" y="552.90" width="15.60" height="4.40" fill="#ece4c8" stroke="#bcb49c" stroke-width="0.7"/>
<text x="565.10" y="557.50" font-size="8.4" font-weight="bold" textLength="35.3" lengthAdjust="spacingAndGlyphs" fill="#111">SREBP2</text>
<text x="462.00" y="606.50" font-size="8.8" font-weight="bold" text-anchor="middle" textLength="106.0" lengthAdjust="spacingAndGlyphs" transform="rotate(-90 462.0 606.5)" fill="#111" stroke="#111" stroke-width="0.25">Relative protein  levels</text>
<text x="476.00" y="606.00" font-size="8.8" font-weight="bold" text-anchor="middle" textLength="73.0" lengthAdjust="spacingAndGlyphs" transform="rotate(-90 476.0 606.0)" fill="#111" stroke="#111" stroke-width="0.25">(fold vs GAPDH)</text>
<text x="526.35" y="581.05" font-size="13.5" font-weight="bold" text-anchor="middle" fill="#111" stroke="#111" stroke-width="0.3">*</text>
<text x="533.30" y="581.05" font-size="13.5" font-weight="bold" text-anchor="middle" fill="#111" stroke="#111" stroke-width="0.3">*</text>
<text x="540.25" y="581.05" font-size="13.5" font-weight="bold" text-anchor="middle" fill="#111" stroke="#111" stroke-width="0.3">*</text>
<text x="572.95" y="608.25" font-size="13.5" font-weight="bold" text-anchor="middle" fill="#111" stroke="#111" stroke-width="0.3">*</text>
<text x="579.90" y="608.25" font-size="13.5" font-weight="bold" text-anchor="middle" fill="#111" stroke="#111" stroke-width="0.3">*</text>
<text x="586.85" y="608.25" font-size="13.5" font-weight="bold" text-anchor="middle" fill="#111" stroke="#111" stroke-width="0.3">*</text>
<text x="172.00" y="542.30" font-size="19" font-weight="bold" fill="#000">J</text>
<text x="263.70" y="566.00" font-size="9.0" font-weight="bold" text-anchor="middle" fill="#111">Ctrl</text>
<text x="346.40" y="566.00" font-size="9.0" font-weight="bold" text-anchor="middle" fill="#111">TDS</text>
<line x1="222.20" y1="569.10" x2="302.10" y2="569.10" stroke="#111" stroke-width="1.1"/>
<line x1="309.80" y1="569.10" x2="390.10" y2="569.10" stroke="#111" stroke-width="1.1"/>
<defs><filter id="bl1" x="-30%" y="-100%" width="160%" height="300%"><feGaussianBlur stdDeviation="1.25"/></filter><filter id="bl2" x="-30%" y="-100%" width="160%" height="300%"><feGaussianBlur stdDeviation="0.85"/></filter><filter id="bl3" x="-30%" y="-100%" width="160%" height="300%"><feGaussianBlur stdDeviation="0.5"/></filter><filter id="bl4" x="-30%" y="-100%" width="160%" height="300%"><feGaussianBlur stdDeviation="1.6"/></filter></defs>
<rect x="221.40" y="577.30" width="169.20" height="19.20" fill="#bcbcbc"/>
<rect x="246.5" y="578.3" width="8.5" height="17.200000000000045" fill="#cbcbcb" filter="url(#bl4)"/>
<rect x="273" y="578.3" width="8.5" height="17.200000000000045" fill="#cbcbcb" filter="url(#bl4)"/>
<rect x="301" y="578.3" width="7.5" height="17.200000000000045" fill="#cbcbcb" filter="url(#bl4)"/>
<rect x="329.5" y="578.3" width="6.5" height="17.200000000000045" fill="#cbcbcb" filter="url(#bl4)"/>
<rect x="357.5" y="578.3" width="6.5" height="17.200000000000045" fill="#cbcbcb" filter="url(#bl4)"/>
<rect x="222" y="594.3" width="168" height="1.4" fill="#cbcbcb" opacity="0.8"/>
<rect x="221.40" y="612.90" width="169.20" height="16.40" fill="#b2b2b2"/>
<rect x="246.5" y="613.9" width="8.5" height="14.399999999999977" fill="#bebebe" filter="url(#bl4)"/>
<rect x="273" y="613.9" width="8.5" height="14.399999999999977" fill="#bebebe" filter="url(#bl4)"/>
<rect x="301" y="613.9" width="7.5" height="14.399999999999977" fill="#bebebe" filter="url(#bl4)"/>
<rect x="329.5" y="613.9" width="6.5" height="14.399999999999977" fill="#bebebe" filter="url(#bl4)"/>
<rect x="357.5" y="613.9" width="6.5" height="14.399999999999977" fill="#bebebe" filter="url(#bl4)"/>
<rect x="222" y="627.0999999999999" width="168" height="1.4" fill="#bebebe" opacity="0.8"/>
<rect x="221.40" y="645.10" width="169.20" height="19.90" fill="#c9c9c9"/>
<rect x="249" y="646.1" width="3" height="17.899999999999977" fill="#dadada" filter="url(#bl4)"/>
<rect x="275.8" y="646.1" width="3.1999999999999886" height="17.899999999999977" fill="#dadada" filter="url(#bl4)"/>
<rect x="304.2" y="646.1" width="3.1000000000000227" height="17.899999999999977" fill="#dadada" filter="url(#bl4)"/>
<rect x="331" y="646.1" width="2.6000000000000227" height="17.899999999999977" fill="#dadada" filter="url(#bl4)"/>
<rect x="359.1" y="646.1" width="2.8999999999999773" height="17.899999999999977" fill="#dadada" filter="url(#bl4)"/>
<rect x="222" y="662.8" width="168" height="1.4" fill="#dadada" opacity="0.8"/>
<rect x="227.0" y="585.4" width="19.3" height="6.6" rx="3.3" fill="#585858" filter="url(#bl1)"/>
<rect x="255.5" y="585.4" width="17.4" height="6.6" rx="3.3" fill="#585858" filter="url(#bl1)"/>
<rect x="282.1" y="585.4" width="18.7" height="6.6" rx="3.3" fill="#585858" filter="url(#bl1)"/>
<rect x="309.5" y="581.6" width="19.7" height="8.8" rx="4.4" fill="#000" filter="url(#bl2)"/>
<rect x="336.2" y="581.6" width="21.0" height="8.8" rx="4.4" fill="#000" filter="url(#bl2)"/>
<rect x="364.3" y="581.6" width="21.0" height="8.8" rx="4.4" fill="#000" filter="url(#bl2)"/>
<rect x="225.9" y="618.3" width="20.5" height="6.2" rx="3.1" fill="#666" filter="url(#bl1)"/>
<rect x="252.2" y="618.3" width="21.0" height="6.2" rx="3.1" fill="#666" filter="url(#bl1)"/>
<rect x="279.7" y="618.3" width="21.1" height="6.2" rx="3.1" fill="#666" filter="url(#bl1)"/>
<rect x="308.6" y="617.2" width="21.1" height="7.8" rx="3.9" fill="#0c0c0c" filter="url(#bl2)"/>
<rect x="336.2" y="617.2" width="21.1" height="7.8" rx="3.9" fill="#0c0c0c" filter="url(#bl2)"/>
<rect x="365.1" y="617.2" width="21.1" height="7.8" rx="3.9" fill="#0c0c0c" filter="url(#bl2)"/>
<rect x="223.9" y="649.6" width="25.0" height="10.2" rx="5.1" fill="#000" filter="url(#bl3)"/>
<rect x="251.9" y="649.6" width="23.9" height="10.2" rx="5.1" fill="#000" filter="url(#bl3)"/>
<rect x="279.1" y="649.6" width="25.0" height="10.2" rx="5.1" fill="#000" filter="url(#bl3)"/>
<rect x="307.3" y="649.6" width="23.7" height="10.2" rx="5.1" fill="#000" filter="url(#bl3)"/>
<rect x="333.6" y="649.6" width="25.5" height="10.2" rx="5.1" fill="#000" filter="url(#bl3)"/>
<rect x="362.0" y="649.6" width="25.5" height="10.2" rx="5.1" fill="#000" filter="url(#bl3)"/>
<line x1="221.40" y1="577.30" x2="390.60" y2="577.30" stroke="#111" stroke-width="1.2"/>
<line x1="221.40" y1="596.50" x2="390.60" y2="596.50" stroke="#2a2a2a" stroke-width="1.0"/>
<line x1="221.40" y1="577.30" x2="221.40" y2="596.50" stroke="#333" stroke-width="0.8"/>
<line x1="390.60" y1="577.30" x2="390.60" y2="596.50" stroke="#333" stroke-width="0.8"/>
<line x1="221.40" y1="612.90" x2="390.60" y2="612.90" stroke="#111" stroke-width="1.2"/>
<line x1="221.40" y1="629.30" x2="390.60" y2="629.30" stroke="#2a2a2a" stroke-width="1.0"/>
<line x1="221.40" y1="612.90" x2="221.40" y2="629.30" stroke="#333" stroke-width="0.8"/>
<line x1="390.60" y1="612.90" x2="390.60" y2="629.30" stroke="#333" stroke-width="0.8"/>
<line x1="221.40" y1="645.10" x2="390.60" y2="645.10" stroke="#111" stroke-width="1.2"/>
<line x1="221.40" y1="665.00" x2="390.60" y2="665.00" stroke="#2a2a2a" stroke-width="1.0"/>
<line x1="221.40" y1="645.10" x2="221.40" y2="665.00" stroke="#333" stroke-width="0.8"/>
<line x1="390.60" y1="645.10" x2="390.60" y2="665.00" stroke="#333" stroke-width="0.8"/>
<text x="218.90" y="589.90" font-size="9.3" font-weight="bold" text-anchor="end" fill="#111">HMGCR</text>
<text x="218.90" y="625.30" font-size="9.3" font-weight="bold" text-anchor="end" fill="#111">SREBP2</text>
<text x="218.90" y="658.90" font-size="9.3" font-weight="bold" text-anchor="end" fill="#111">GAPDH</text>
<text x="391.60" y="589.20" font-size="8.9" font-weight="bold" fill="#111">-118 kDa</text>
<text x="391.60" y="624.50" font-size="8.9" font-weight="bold" fill="#111">-126 kDa</text>
<text x="391.60" y="658.50" font-size="8.9" font-weight="bold" fill="#111">-36 kDa</text>
</svg></body></html>
